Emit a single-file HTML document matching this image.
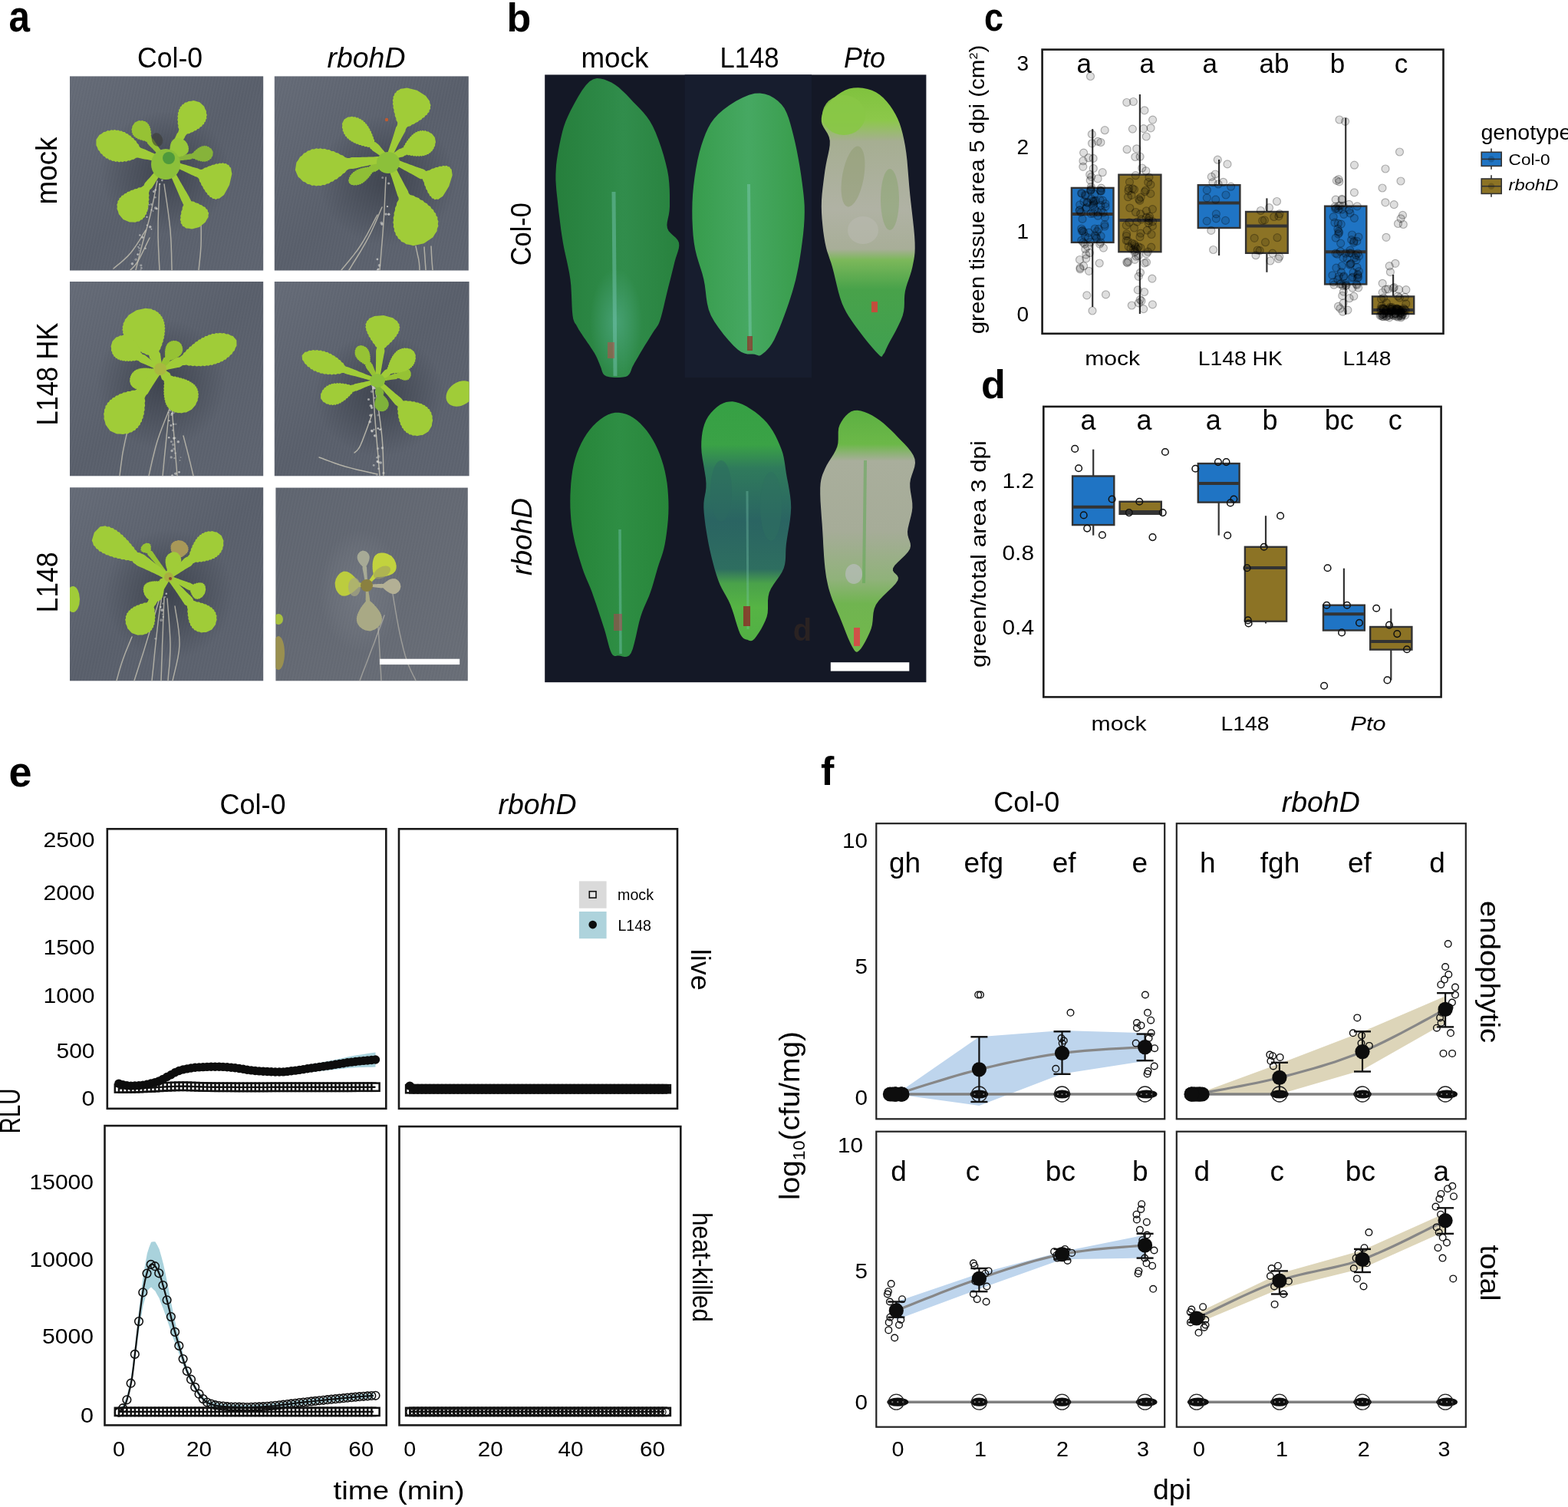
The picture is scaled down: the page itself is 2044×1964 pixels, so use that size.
<!DOCTYPE html>
<html><head><meta charset="utf-8"><title>Figure</title>
<style>
html,body{margin:0;padding:0;background:#fff;}
body{width:2044px;height:1964px;overflow:hidden;}
svg{display:block;}
text{font-family:"Liberation Sans", Arial, sans-serif;}
</style></head><body>
<svg width="2044" height="1964" viewBox="0 0 2044 1964" font-family="Liberation Sans, Arial, sans-serif">
<defs>
<radialGradient id="shad" cx="0.5" cy="0.5" r="0.5">
<stop offset="0" stop-color="#2e333d" stop-opacity="0.6"/><stop offset="0.6" stop-color="#2e333d" stop-opacity="0.25"/><stop offset="1" stop-color="#2e333d" stop-opacity="0"/></radialGradient>
<linearGradient id="tileg" x1="0" y1="0" x2="1" y2="1">
<stop offset="0" stop-color="#646a76"/><stop offset="0.5" stop-color="#585e6a"/><stop offset="1" stop-color="#5d636f"/></linearGradient>
<linearGradient id="tileg6" x1="0" y1="0" x2="1" y2="1">
<stop offset="0" stop-color="#5e646f"/><stop offset="0.5" stop-color="#636872"/><stop offset="1" stop-color="#686d76"/></linearGradient>
<pattern id="weave" width="4" height="9" patternUnits="userSpaceOnUse" patternTransform="rotate(12)">
<rect width="1.3" height="9" fill="#ffffff" fill-opacity="0.035"/></pattern>
<radialGradient id="halo" cx="0.5" cy="0.5" r="0.5">
<stop offset="0" stop-color="#9a9fa6" stop-opacity="0.25"/><stop offset="0.7" stop-color="#9a9fa6" stop-opacity="0.1"/><stop offset="1" stop-color="#9a9fa6" stop-opacity="0"/></radialGradient>
<clipPath id="clipA"><rect x="91" y="99.4" width="252.2" height="253.1"/><rect x="357.8" y="99.4" width="253" height="253.1"/><rect x="91" y="367" width="252.2" height="253.3"/><rect x="357.8" y="367" width="253.8" height="253.3"/><rect x="91" y="635.3" width="252.2" height="252"/><rect x="359.4" y="635.6" width="250.4" height="251.7"/></clipPath>
<radialGradient id="tealglow" cx="0.5" cy="0.5" r="0.5"><stop offset="0" stop-color="#58b094" stop-opacity="0.55"/><stop offset="1" stop-color="#58b094" stop-opacity="0"/></radialGradient>
<linearGradient id="lfB" x1="0" y1="0" x2="1" y2="0"><stop offset="0" stop-color="#267f3c"/><stop offset="0.45" stop-color="#2e8a48"/><stop offset="0.55" stop-color="#318d4c"/><stop offset="1" stop-color="#28823e"/></linearGradient>
<linearGradient id="lfB2" x1="0" y1="0" x2="1" y2="0"><stop offset="0" stop-color="#379c4c"/><stop offset="0.5" stop-color="#46a862"/><stop offset="1" stop-color="#389c4a"/></linearGradient>
<linearGradient id="lfB3" x1="0" y1="0" x2="1" y2="0"><stop offset="0" stop-color="#268438"/><stop offset="0.5" stop-color="#2e8e44"/><stop offset="1" stop-color="#28863a"/></linearGradient>
<linearGradient id="necro" x1="0" y1="0" x2="0" y2="1"><stop offset="0" stop-color="#80c23e"/><stop offset="0.12" stop-color="#8cc84a"/><stop offset="0.2" stop-color="#a6ae92"/><stop offset="0.45" stop-color="#b0b2a4"/><stop offset="0.6" stop-color="#a8ae98"/><stop offset="0.64" stop-color="#7cb85a"/><stop offset="0.75" stop-color="#48a24a"/><stop offset="1" stop-color="#40a050"/></linearGradient>
<linearGradient id="necro2" x1="0" y1="0" x2="0" y2="1"><stop offset="0" stop-color="#5cb042"/><stop offset="0.14" stop-color="#6cb848"/><stop offset="0.21" stop-color="#a9ae9c"/><stop offset="0.5" stop-color="#a6ac98"/><stop offset="0.7" stop-color="#90b27a"/><stop offset="0.8" stop-color="#70b450"/><stop offset="1" stop-color="#72b84c"/></linearGradient>
<linearGradient id="dmg" x1="0" y1="0" x2="0" y2="1"><stop offset="0" stop-color="#36a044"/><stop offset="0.18" stop-color="#3aa246"/><stop offset="0.28" stop-color="#2f7a5c"/><stop offset="0.5" stop-color="#2a6462"/><stop offset="0.7" stop-color="#2e6e60"/><stop offset="0.76" stop-color="#4aa24a"/><stop offset="0.86" stop-color="#56b444"/><stop offset="1" stop-color="#52b044"/></linearGradient>
</defs>
<rect width="2044" height="1964" fill="#ffffff"/>
<rect x="91" y="99.4" width="252.2" height="253.1" fill="url(#tileg)"/>
<rect x="91" y="99.4" width="252.2" height="253.1" fill="url(#weave)"/>
<rect x="357.8" y="99.4" width="253" height="253.1" fill="url(#tileg)"/>
<rect x="357.8" y="99.4" width="253" height="253.1" fill="url(#weave)"/>
<rect x="91" y="367" width="252.2" height="253.3" fill="url(#tileg)"/>
<rect x="91" y="367" width="252.2" height="253.3" fill="url(#weave)"/>
<rect x="357.8" y="367" width="253.8" height="253.3" fill="url(#tileg)"/>
<rect x="357.8" y="367" width="253.8" height="253.3" fill="url(#weave)"/>
<rect x="91" y="635.3" width="252.2" height="252" fill="url(#tileg)"/>
<rect x="91" y="635.3" width="252.2" height="252" fill="url(#weave)"/>
<rect x="359.4" y="635.6" width="250.4" height="251.7" fill="url(#tileg6)"/>
<rect x="359.4" y="635.6" width="250.4" height="251.7" fill="url(#weave)"/>
<g clip-path="url(#clipA)">
<ellipse cx="215" cy="225" rx="85" ry="80" transform="rotate(0 215 225)" fill="url(#shad)"/>
<path d="M205 236 L204 240.8 L202.7 247.6 L201.2 255.5 L199.5 264 L197.7 272.4 L196 280 L194.2 287 L192.4 293.9 L190.4 300.8 L188.5 307.4 L186.7 313.8 L185 320 L183.4 326.2 L181.8 332.4 L180.3 338.5 L179 344 L177.8 348.6 L177 352" fill="none" stroke="#c4c0b2" stroke-width="1.5" stroke-opacity="0.8" stroke-linecap="round"/>
<path d="M208 240 L207.7 246.6 L207.3 255.9 L206.9 266.8 L206.4 278.4 L206.1 289.8 L206 300 L206.1 309.7 L206.4 319.9 L206.9 329.8 L207.3 338.8 L207.7 346.4 L208 352" fill="none" stroke="#c4c0b2" stroke-width="1.5" stroke-opacity="0.8" stroke-linecap="round"/>
<path d="M214 240 L214.9 246.6 L216.3 255.9 L217.9 266.8 L219.5 278.4 L220.9 289.8 L222 300 L222.7 309.7 L223.2 319.9 L223.5 329.8 L223.7 338.8 L223.9 346.4 L224 352" fill="none" stroke="#c4c0b2" stroke-width="1.5" stroke-opacity="0.8" stroke-linecap="round"/>
<path d="M262 284 L262 288 L262.1 293.5 L262.2 300 L262.2 307 L262.2 313.8 L262 320 L261.6 325.9 L261.1 332.1 L260.5 338.2 L259.9 343.9 L259.4 348.6 L259 352" fill="none" stroke="#c4c0b2" stroke-width="1.5" stroke-opacity="0.8" stroke-linecap="round"/>
<path d="M190 300 L187.8 303.4 L184.9 308.1 L181.4 313.8 L177.6 319.6 L173.7 325.2 L170 330 L166.2 334.1 L162 338.1 L157.8 341.9 L153.8 345.2 L150.4 347.9 L148 350" fill="none" stroke="#c4c0b2" stroke-width="1.5" stroke-opacity="0.8" stroke-linecap="round"/>
<path d="M195 310 L193.3 313.5 L190.9 318.4 L188.1 324.2 L185.2 330.2 L182.4 335.7 L180 340 L177.9 343.2 L175.9 345.8 L174.1 347.9 L172.4 349.6 L171 350.9 L170 352" fill="none" stroke="#c4c0b2" stroke-width="1.5" stroke-opacity="0.8" stroke-linecap="round"/>
<circle cx="195.8" cy="295.7" r="1.8" fill="#d8d8d4" opacity="0.68"/>
<circle cx="172.4" cy="343.8" r="1.8" fill="#d8d8d4" opacity="0.64"/>
<circle cx="192.3" cy="272.2" r="1.1" fill="#d8d8d4" opacity="0.59"/>
<circle cx="173.5" cy="353.4" r="1.3" fill="#d8d8d4" opacity="0.43"/>
<circle cx="180.2" cy="321.8" r="1" fill="#d8d8d4" opacity="0.63"/>
<circle cx="194.3" cy="266.8" r="0.9" fill="#d8d8d4" opacity="0.70"/>
<circle cx="202.9" cy="271.1" r="1.9" fill="#d8d8d4" opacity="0.59"/>
<circle cx="191.5" cy="282.8" r="1.1" fill="#d8d8d4" opacity="0.78"/>
<circle cx="182.2" cy="319.2" r="1.1" fill="#d8d8d4" opacity="0.42"/>
<circle cx="200.4" cy="249.5" r="1.5" fill="#d8d8d4" opacity="0.62"/>
<circle cx="182.4" cy="306.5" r="1.2" fill="#d8d8d4" opacity="0.66"/>
<circle cx="197.5" cy="273.6" r="1" fill="#d8d8d4" opacity="0.79"/>
<circle cx="211.3" cy="235.1" r="1.3" fill="#d8d8d4" opacity="0.60"/>
<circle cx="181.5" cy="326.6" r="0.9" fill="#d8d8d4" opacity="0.37"/>
<circle cx="199.5" cy="275.1" r="1" fill="#d8d8d4" opacity="0.46"/>
<circle cx="179.6" cy="331.6" r="1.4" fill="#d8d8d4" opacity="0.70"/>
<circle cx="202.4" cy="257.2" r="1.3" fill="#d8d8d4" opacity="0.48"/>
<circle cx="189.6" cy="323.7" r="1.2" fill="#d8d8d4" opacity="0.62"/>
<circle cx="197.2" cy="266.5" r="1.4" fill="#d8d8d4" opacity="0.49"/>
<circle cx="185.8" cy="309.2" r="1.5" fill="#d8d8d4" opacity="0.67"/>
<circle cx="197.4" cy="298.7" r="0.9" fill="#d8d8d4" opacity="0.79"/>
<circle cx="183.8" cy="345.8" r="1.6" fill="#d8d8d4" opacity="0.50"/>
<circle cx="191.7" cy="293.5" r="1" fill="#d8d8d4" opacity="0.76"/>
<circle cx="208.3" cy="239.8" r="1.1" fill="#d8d8d4" opacity="0.79"/>
<circle cx="183.3" cy="352.8" r="1.7" fill="#d8d8d4" opacity="0.40"/>
<circle cx="181.6" cy="323.5" r="1.3" fill="#d8d8d4" opacity="0.41"/>
<circle cx="204.4" cy="272.1" r="1.4" fill="#d8d8d4" opacity="0.68"/>
<circle cx="177.1" cy="338.3" r="1.8" fill="#d8d8d4" opacity="0.40"/>
<circle cx="184.3" cy="349.4" r="1.4" fill="#d8d8d4" opacity="0.50"/>
<circle cx="202.6" cy="247.6" r="1.4" fill="#d8d8d4" opacity="0.58"/>
<path d="M217.4 212 L218.8 211.7 L220.2 211.5 L221.5 211.2 L222.9 211 L224.3 210.8 L225.7 210.6 L227.1 210.4 L228.5 210.2 L229.9 210 L231.3 209.8 L232.7 209.6 L234.1 209.4 L235.5 209.2 L236.9 209 L238.3 208.9 L239.7 208.7 L241.1 208.5 L242.5 208.4 L243.9 208.2 L245.3 208 L246.7 207.9 L248.1 207.7 L249.4 207.4 L250.7 206.6 L252.3 207.1 L253.7 206.9 L255.4 208.5 L256.8 208.2 L258.5 209.7 L259.8 209.2 L261.5 210.5 L262.8 209.9 L264.5 211 L265.7 210.2 L267.3 211 L268.6 209.9 L270.1 210.4 L271.2 209 L272.7 209.1 L273.8 207.2 L275.1 206.9 L276.1 204.4 L277.3 203.2 L277.7 198.1 L277.7 198.1 L275.4 193.5 L273.8 192.9 L272 191 L270.6 191.2 L268.9 189.8 L267.6 190.5 L266 189.6 L264.8 190.7 L263.3 190.1 L262.1 191.5 L260.6 191.2 L259.5 192.8 L258 192.8 L257 194.6 L255.6 194.7 L254.5 196.6 L253.1 196.9 L252.1 199 L250.7 199.4 L249.5 200.4 L248 200.2 L246.6 200.4 L245.3 200.8 L243.9 201.2 L242.6 201.6 L241.2 201.9 L239.9 202.3 L238.5 202.7 L237.1 203 L235.8 203.4 L234.4 203.8 L233 204.1 L231.7 204.5 L230.3 204.8 L228.9 205.2 L227.6 205.5 L226.2 205.8 L224.8 206.2 L223.5 206.5 L222.1 206.8 L220.7 207.1 L219.4 207.5 L218 207.8 L216.6 208Z" fill="#86b33a"/>
<path d="M219.6 211.5 L220.6 209.7 L221.7 208 L222.7 206.3 L223.8 204.6 L224.8 202.9 L225.9 201.2 L227 199.6 L228.1 197.9 L229.2 196.2 L230.3 194.5 L231.5 192.9 L232.6 191.2 L233.7 189.5 L234.9 187.9 L236 186.2 L237.2 184.6 L238.3 182.9 L239.5 181.3 L240.6 179.6 L241.3 177.7 L242.5 176.1 L244 174.6 L247.2 174.1 L248.7 172.7 L251.7 172.1 L253.1 170.5 L255.9 169.9 L257.1 168.2 L259.8 167.4 L260.7 165.7 L263.1 164.7 L263.8 162.8 L266 161.7 L266.3 159.6 L268.1 158.3 L268.1 156 L269.5 154.5 L269 151.9 L269.9 150.1 L268.8 147.2 L269 145.1 L267.2 141.7 L266.2 138.8 L260.3 133.2 L260.3 133.2 L252.4 131.1 L249.4 131.7 L245.6 131.9 L243.8 133.2 L240.8 133.8 L239.7 135.4 L237.3 136.4 L236.7 138.3 L234.7 139.5 L234.5 141.7 L232.9 143.1 L233.1 145.5 L231.8 147.1 L232.3 149.6 L231.3 151.4 L232 154.1 L231.2 155.9 L232.1 158.7 L231.5 160.7 L232.5 163.6 L232.1 165.6 L233.3 168.6 L232.8 170.6 L232.1 172.5 L230.7 174.1 L229.9 175.9 L229.1 177.7 L228.3 179.6 L227.5 181.4 L226.7 183.3 L225.8 185.1 L225 186.9 L224.2 188.8 L223.3 190.6 L222.5 192.4 L221.6 194.2 L220.7 196 L219.9 197.8 L219 199.6 L218.1 201.4 L217.2 203.2 L216.3 205 L215.3 206.8 L214.4 208.5Z" fill="#a0cc38"/>
<path d="M218 206.7 L216 206 L213.9 205.2 L211.9 204.5 L209.8 203.7 L207.8 202.9 L205.8 202.1 L203.7 201.3 L201.7 200.4 L199.7 199.6 L197.7 198.7 L195.7 197.8 L193.7 197 L191.7 196.1 L189.7 195.1 L187.7 194.2 L185.6 193.6 L183.6 192.8 L181.8 191.2 L180.5 187.9 L178.6 186.6 L177.2 183.6 L175.3 182.6 L173.8 180 L171.8 179.2 L170.2 176.8 L168.1 176.3 L166.5 174.2 L164.3 173.9 L162.6 172 L160.3 172 L158.5 170.4 L156.1 170.7 L154.3 169.4 L151.8 170 L149.8 168.9 L147.3 169.8 L145.2 169.2 L142.6 170.4 L140.4 170.1 L137.6 171.8 L135.2 172.1 L132.2 174.4 L129.5 175.7 L125.4 181.9 L125.4 181.9 L125.4 189.4 L126.8 191.9 L128 195.6 L129.8 197.1 L131.2 200.1 L133.2 201.1 L134.7 203.6 L136.8 204.2 L138.4 206.4 L140.6 206.6 L142.3 208.5 L144.6 208.5 L146.4 210 L148.8 209.7 L150.6 210.9 L153.1 210.3 L155.1 211.4 L157.6 210.5 L159.7 211.3 L162.3 210.1 L164.4 210.7 L167.1 209.3 L169.3 209.5 L172.1 207.9 L174.4 207.8 L177.3 205.8 L179.6 205.5 L181.8 205.9 L183.9 206.6 L186 207 L188.2 207.4 L190.4 207.7 L192.5 208.1 L194.7 208.5 L196.8 208.9 L199 209.4 L201.1 209.8 L203.3 210.2 L205.4 210.7 L207.5 211.2 L209.6 211.7 L211.8 212.2 L213.9 212.8 L216 213.3Z" fill="#a0cc38"/>
<path d="M218.9 208.4 L218 207.3 L217.1 206.1 L216.2 204.9 L215.3 203.7 L214.4 202.5 L213.6 201.3 L212.7 200.2 L211.8 199 L211 197.7 L210.1 196.5 L209.3 195.3 L208.4 194.1 L207.6 192.9 L206.7 191.7 L205.9 190.5 L205 189.2 L204.2 188 L203.4 186.8 L202.5 185.5 L201.7 184.3 L200.9 183.1 L200.1 181.8 L199 180.8 L197.6 180.1 L197.4 178.3 L196.7 176.9 L197.4 174.5 L196.5 173.3 L197.1 171 L196.1 169.8 L196.4 167.6 L195.3 166.6 L195.5 164.6 L194.1 163.8 L194.1 161.9 L192.5 161.3 L192.2 159.7 L190.2 159.3 L189.5 158 L187.2 158 L186.1 157 L183.2 157.4 L181.3 157.1 L175.9 159.6 L175.9 159.6 L172.4 164.4 L172.3 166.3 L171.3 169.1 L172 170.4 L171.6 172.7 L172.8 173.6 L172.7 175.6 L174.2 176.2 L174.5 177.9 L176.3 178.3 L176.8 179.8 L178.9 180 L179.6 181.4 L181.9 181.4 L182.8 182.6 L185.1 182.6 L186.2 183.6 L188.7 183.5 L189.8 184.5 L191.6 184.9 L192 186.5 L192.8 187.8 L193.9 188.8 L194.9 189.9 L195.9 190.9 L197 192 L198 193.1 L199.1 194.1 L200.1 195.2 L201.1 196.2 L202.1 197.3 L203.2 198.4 L204.2 199.5 L205.2 200.6 L206.2 201.6 L207.2 202.7 L208.2 203.8 L209.2 204.9 L210.2 206 L211.2 207.1 L212.2 208.2 L213.1 209.3 L214.1 210.4 L215.1 211.6Z" fill="#96c234"/>
<path d="M215.9 212.8 L217.8 213.5 L219.6 214.3 L221.5 215 L223.3 215.8 L225.2 216.6 L227 217.4 L228.8 218.2 L230.6 219 L232.5 219.8 L234.3 220.6 L236.1 221.5 L237.9 222.3 L239.7 223.1 L241.5 224 L243.4 224.8 L245.2 225.7 L247 226.5 L248.8 227.4 L250.6 228.3 L252.4 229.1 L254.2 230 L256.1 230.5 L257.9 231.4 L259.4 233.3 L260.2 236.7 L261.7 238.3 L262.6 241.6 L264.2 243 L265.2 246.1 L266.8 247.4 L267.9 250.3 L269.6 251.3 L270.7 253.9 L272.6 254.7 L273.8 257 L275.8 257.3 L277.3 259.1 L279.5 258.9 L281.2 259.9 L283.8 258.8 L285.9 258.8 L289 256.3 L292 254 L299.1 240.9 L299.1 240.9 L302.4 226.4 L301.6 222.8 L301 218.8 L299.4 217.4 L298.2 214.9 L296.2 214.6 L294.7 212.9 L292.4 213.3 L290.7 212.2 L288.2 213.1 L286.4 212.5 L283.8 213.7 L281.8 213.3 L279.1 214.8 L277 214.7 L274.2 216.3 L272.1 216.4 L269.3 218.2 L267.1 218.4 L264.2 220.5 L261.9 220.9 L259.9 220.4 L258.1 219.5 L256.2 219 L254.3 218.4 L252.4 217.9 L250.4 217.4 L248.5 216.8 L246.6 216.3 L244.7 215.7 L242.8 215.1 L240.8 214.6 L238.9 214 L237 213.4 L235.1 212.8 L233.2 212.2 L231.3 211.6 L229.4 211 L227.5 210.4 L225.6 209.8 L223.7 209.2 L221.8 208.5 L219.9 207.9 L218.1 207.2Z" fill="#a0cc38"/>
<path d="M214.6 208.2 L213.3 209.9 L211.9 211.6 L210.6 213.3 L209.2 215 L207.9 216.6 L206.5 218.3 L205.1 219.9 L203.7 221.6 L202.3 223.2 L200.9 224.9 L199.5 226.5 L198.1 228.1 L196.7 229.7 L195.2 231.4 L193.8 233 L192.3 234.6 L190.9 236.2 L189.4 237.8 L188.3 239.6 L187.5 241.7 L185.6 243 L183.7 244.3 L180.4 244.5 L178.7 245.9 L175.5 246.2 L173.8 247.6 L170.7 248 L169.1 249.6 L166.2 250.1 L164.8 251.7 L162.1 252.4 L161 254.2 L158.5 255 L157.6 257.1 L155.5 258.2 L155.1 260.6 L153.4 262 L153.4 264.7 L152.3 266.5 L152.9 269.6 L152.4 272 L154 275.8 L154.8 279.1 L160.6 286.1 L160.6 286.1 L169 289.6 L172.4 289.5 L176.5 289.8 L178.6 288.7 L181.8 288.4 L183.2 286.8 L185.8 286 L186.7 284 L188.8 282.9 L189.2 280.5 L191 279.1 L191.1 276.5 L192.5 274.9 L192.3 272.1 L193.5 270.3 L193.1 267.3 L194.1 265.4 L193.6 262.3 L194.5 260.3 L193.8 257.1 L194.6 255 L193.9 251.8 L194.6 249.6 L195.2 247.5 L197 246.1 L198.4 244.5 L199.6 242.6 L200.7 240.8 L201.8 238.9 L202.9 237.1 L204 235.2 L205.2 233.4 L206.3 231.6 L207.5 229.7 L208.6 227.9 L209.8 226.1 L211 224.3 L212.1 222.5 L213.3 220.7 L214.5 218.9 L215.7 217.1 L216.9 215.3 L218.2 213.5 L219.4 211.8Z" fill="#a0cc38"/>
<path d="M214.3 211.3 L215.3 213.3 L216.2 215.3 L217.1 217.2 L218.1 219.2 L219 221.2 L219.9 223.2 L220.8 225.2 L221.7 227.2 L222.6 229.2 L223.5 231.2 L224.4 233.2 L225.3 235.2 L226.1 237.2 L227 239.2 L227.9 241.2 L228.7 243.2 L229.6 245.2 L230.5 247.2 L231.3 249.2 L232.2 251.2 L233 253.2 L233.9 255.2 L234.7 257.3 L235.6 259.3 L236.4 261.3 L237.5 263.2 L238.3 265.2 L239.4 267.1 L237.7 270.4 L237.7 272.9 L236.1 276.1 L236.3 278.4 L235.1 281.5 L235.6 283.6 L234.8 286.5 L235.8 288.4 L235.6 291 L237.3 292.6 L237.9 294.7 L240.6 295.8 L242.3 297.4 L246.5 297.7 L250.1 298.4 L259.9 295.9 L259.9 295.9 L267.8 289.5 L269.5 286.2 L271.7 282.7 L271.5 280.4 L272.2 277.5 L270.9 275.8 L270.7 273.4 L268.5 272.1 L267.5 270.1 L264.7 269.1 L263.3 267.4 L260.1 266.5 L258.4 264.9 L254.9 264.2 L253 262.8 L249.3 262.2 L248.4 260.2 L247.3 258.3 L246.4 256.3 L245.3 254.4 L244.2 252.5 L243.1 250.6 L242 248.8 L240.9 246.9 L239.8 245 L238.7 243.1 L237.6 241.2 L236.5 239.3 L235.4 237.4 L234.3 235.5 L233.2 233.6 L232.2 231.7 L231.1 229.8 L230 227.9 L229 226 L227.9 224.1 L226.9 222.2 L225.8 220.2 L224.8 218.3 L223.7 216.4 L222.7 214.5 L221.7 212.5 L220.7 210.6 L219.7 208.7Z" fill="#a0cc38"/>
<path d="M218.8 211.7 L219.4 211.2 L220.1 210.7 L220.8 210.2 L221.5 209.7 L222.2 209.3 L223 208.9 L223.7 208.5 L224.5 208.1 L225.3 207.7 L226 207.2 L226.4 206.5 L226.6 205.5 L227.6 205.4 L227.9 204.6 L229.7 205.1 L230.2 204.4 L231.9 205 L232.3 204.2 L234 204.7 L234.4 203.9 L236 204.3 L236.3 203.5 L237.9 203.9 L238.2 203 L239.7 203.3 L239.8 202.3 L241.3 202.6 L241.4 201.5 L242.7 201.7 L242.7 200.5 L243.9 200.6 L243.8 199.3 L244.9 199.3 L244.7 197.9 L245.7 197.7 L245.3 196.2 L246.1 195.9 L245.5 194.2 L246.2 193.7 L245.4 191.8 L245.8 191.1 L244.6 188.9 L244.5 187.7 L241.6 183.8 L241.6 183.8 L237.5 181.1 L236.3 181.1 L234 180.1 L233.3 180.5 L231.4 179.8 L230.9 180.5 L229.2 180.1 L229 180.9 L227.4 180.6 L227.3 181.6 L225.9 181.4 L225.9 182.6 L224.7 182.5 L224.8 183.7 L223.7 183.8 L223.9 185.1 L222.9 185.3 L223.2 186.7 L222.2 186.9 L222.6 188.4 L221.8 188.7 L222.2 190.3 L221.4 190.6 L222 192.3 L221.2 192.7 L221.8 194.3 L221.1 194.8 L221.7 196.5 L221 197 L221.7 198.8 L220.9 199.1 L220.8 200.2 L219.9 200.4 L219.2 200.8 L218.7 201.6 L218.4 202.4 L218.1 203.2 L217.7 204 L217.4 204.7 L217 205.5 L216.6 206.2 L216.1 207 L215.7 207.6 L215.2 208.3Z" fill="#98c83a"/>
<ellipse cx="216" cy="214" rx="19" ry="20" transform="rotate(0 216 214)" fill="#8cc03a"/>
<ellipse cx="220" cy="206" rx="8" ry="8" transform="rotate(0 220 206)" fill="#4f9a3c"/>
<ellipse cx="205" cy="182" rx="7" ry="9" transform="rotate(-20 205 182)" fill="#3a3a35" opacity="0.6"/>
<ellipse cx="505" cy="235" rx="90" ry="85" transform="rotate(0 505 235)" fill="url(#shad)"/>
<path d="M503 231 L502.7 237.4 L502.3 246.2 L501.8 256.6 L501.3 267.9 L500.7 279.3 L500 290 L499.2 300.9 L498.3 312.7 L497.3 324.7 L496.4 335.8 L495.6 345.2 L495 352" fill="none" stroke="#c4c0b2" stroke-width="1.5" stroke-opacity="0.8" stroke-linecap="round"/>
<path d="M498 270 L496.1 274.3 L493.6 280.3 L490.6 287.4 L487.2 295 L483.6 302.8 L480 310 L475.9 317.4 L471.3 325.4 L466.4 333.5 L461.7 341 L457.8 347.4 L455 352" fill="none" stroke="#c4c0b2" stroke-width="1.5" stroke-opacity="0.8" stroke-linecap="round"/>
<path d="M492 280 L489.6 284.4 L486.4 290.7 L482.6 298 L478.4 305.8 L474.1 313.3 L470 320 L465.7 326.2 L461 332.4 L456.1 338.5 L451.6 344 L447.8 348.6 L445 352" fill="none" stroke="#c4c0b2" stroke-width="1.5" stroke-opacity="0.8" stroke-linecap="round"/>
<path d="M542 321 L542.5 323.1 L543.1 326.2 L543.9 329.8 L544.7 333.5 L545.5 337 L546 340 L546.4 342.5 L546.6 345 L546.8 347.2 L546.9 349.1 L546.9 350.8 L547 352" fill="none" stroke="#c4c0b2" stroke-width="1.5" stroke-opacity="0.8" stroke-linecap="round"/>
<path d="M562 321 L562.1 323.1 L562.3 326.2 L562.4 329.8 L562.6 333.5 L562.8 337 L563 340 L563.2 342.5 L563.4 345 L563.6 347.2 L563.7 349.1 L563.9 350.8 L564 352" fill="none" stroke="#c4c0b2" stroke-width="1.5" stroke-opacity="0.8" stroke-linecap="round"/>
<path d="M553 322 L553.2 325.6 L553.6 330.9 L554 337 L554.4 343.1 L554.8 348.4 L555 352" fill="none" stroke="#c4c0b2" stroke-width="1.5" stroke-opacity="0.8" stroke-linecap="round"/>
<circle cx="506.7" cy="239" r="1.6" fill="#d8d8d4" opacity="0.65"/>
<circle cx="492.3" cy="352.4" r="1.6" fill="#d8d8d4" opacity="0.73"/>
<circle cx="505" cy="269.1" r="1.2" fill="#d8d8d4" opacity="0.78"/>
<circle cx="491.9" cy="337.9" r="1.4" fill="#d8d8d4" opacity="0.70"/>
<circle cx="503.1" cy="279.1" r="1.7" fill="#d8d8d4" opacity="0.64"/>
<circle cx="493" cy="350.6" r="1.2" fill="#d8d8d4" opacity="0.77"/>
<circle cx="497.9" cy="292.1" r="1.8" fill="#d8d8d4" opacity="0.66"/>
<circle cx="507" cy="279.4" r="1.4" fill="#d8d8d4" opacity="0.42"/>
<circle cx="506.8" cy="279.2" r="1.6" fill="#d8d8d4" opacity="0.67"/>
<circle cx="494.4" cy="345.9" r="1.8" fill="#d8d8d4" opacity="0.58"/>
<circle cx="497.2" cy="290.3" r="1.8" fill="#d8d8d4" opacity="0.47"/>
<circle cx="498.7" cy="231.5" r="1.5" fill="#d8d8d4" opacity="0.43"/>
<path d="M504.4 204.4 L503.2 205.1 L502 205.8 L500.8 206.4 L499.6 207 L498.3 207.6 L497.1 208.1 L495.8 208.7 L494.6 209.2 L493.3 209.8 L492 210.3 L490.7 210.8 L489.5 211.3 L488.2 211.8 L486.9 212.3 L485.7 213 L484.7 214 L483.4 214.5 L482.9 216.3 L481.4 216.5 L480.7 217.8 L478.7 217.2 L477.7 218.2 L475.8 217.7 L474.8 218.8 L472.9 218.3 L472 219.4 L470.2 219.1 L469.3 220.3 L467.6 220 L466.8 221.3 L465 221.1 L464.3 222.5 L462.6 222.4 L462 223.9 L460.4 224 L459.9 225.7 L458.4 225.9 L457.9 227.7 L456.6 228.1 L456.3 230.2 L455.1 230.9 L455 233.3 L454.1 234.5 L455 238.5 L455 238.5 L458.2 241.1 L459.6 240.9 L461.8 241.8 L463 241.1 L465 241.7 L465.9 240.7 L467.8 241.1 L468.7 239.9 L470.4 240.2 L471.2 238.8 L472.8 238.9 L473.5 237.4 L475.1 237.3 L475.7 235.7 L477.2 235.6 L477.7 233.8 L479.2 233.6 L479.7 231.8 L481.1 231.5 L481.5 229.6 L482.9 229.2 L483.3 227.3 L484.6 226.8 L485 224.8 L486.5 224.7 L487.4 223.5 L489.2 223.9 L490.2 222.9 L491.5 222.5 L492.7 221.7 L493.7 220.8 L494.7 219.8 L495.7 218.9 L496.8 218 L497.8 217.1 L498.9 216.2 L499.9 215.3 L501 214.5 L502.1 213.6 L503.1 212.7 L504.2 211.9 L505.3 211.1 L506.4 210.3 L507.6 209.6Z" fill="#8fbf36"/>
<path d="M509.2 208.4 L510.1 206.3 L511 204.3 L512 202.3 L512.9 200.4 L513.9 198.4 L514.9 196.4 L515.9 194.4 L516.9 192.5 L517.9 190.5 L518.9 188.5 L519.9 186.6 L521 184.6 L522 182.7 L523 180.7 L524.1 178.8 L525.2 176.8 L526.2 174.9 L527.3 172.9 L528.4 171 L528.8 168.8 L529.8 166.8 L531.5 165.1 L535 164.2 L536.8 162.6 L540.1 161.6 L541.7 159.9 L544.9 158.8 L546.3 157 L549.3 155.9 L550.6 154 L553.3 152.8 L554.3 150.8 L556.8 149.5 L557.4 147.4 L559.5 145.9 L559.7 143.5 L561.2 141.8 L560.8 139.2 L561.6 137.2 L560.3 134.2 L560.1 131.8 L557.4 128.2 L555.1 124.9 L543.7 117.7 L543.7 117.7 L530.5 114.5 L526.5 115.2 L522.1 115.7 L520.2 117.3 L517.2 118.5 L516.3 120.5 L514.2 121.9 L514 124.3 L512.4 126 L512.8 128.6 L511.7 130.5 L512.5 133.2 L511.8 135.3 L512.8 138.1 L512.4 140.3 L513.7 143.3 L513.4 145.5 L514.8 148.5 L514.7 150.9 L516.3 154 L516.4 156.4 L518.2 159.5 L518.1 161.9 L517.5 164 L516.2 165.8 L515.5 168 L514.9 170.1 L514.2 172.2 L513.6 174.3 L512.9 176.4 L512.3 178.6 L511.6 180.7 L510.9 182.8 L510.2 184.9 L509.5 187 L508.8 189.1 L508.1 191.2 L507.4 193.2 L506.7 195.3 L505.9 197.4 L505.2 199.5 L504.4 201.5 L503.6 203.6 L502.8 205.6Z" fill="#a0cc38"/>
<path d="M505.5 203 L502.8 203.3 L500 203.5 L497.2 203.7 L494.5 203.9 L491.7 204.1 L488.9 204.2 L486.1 204.4 L483.3 204.5 L480.6 204.6 L477.8 204.7 L475 204.8 L472.2 204.8 L469.4 204.9 L466.6 204.9 L463.8 205 L461.1 205 L458.3 205 L455.6 205.9 L452.8 206.1 L449.9 205.1 L446.8 202.4 L443.9 201.8 L440.8 199.5 L438 199.1 L435 197 L432.1 196.9 L429.1 195.1 L426.4 195.3 L423.4 193.8 L420.7 194.3 L417.7 193.2 L415 194 L412.2 193.3 L409.5 194.6 L406.7 194.3 L404.1 196.1 L401.3 196.4 L398.8 198.8 L396.1 199.7 L393.7 202.7 L391.1 204.4 L388.8 208.6 L386.4 211.8 L384.8 221.4 L384.8 221.4 L388.6 230.4 L391.7 233 L394.9 236.5 L397.9 237.5 L400.9 239.9 L403.8 240.2 L406.8 241.9 L409.5 241.5 L412.4 242.6 L415.1 241.7 L418 242.3 L420.6 241 L423.4 241.2 L426 239.4 L428.8 239.2 L431.3 237.1 L434.1 236.6 L436.6 234.1 L439.3 233.4 L441.7 230.7 L444.4 229.6 L446.9 226.6 L449.5 225.3 L451.9 222.1 L454.5 220.4 L457.2 219.9 L460.1 220.1 L462.8 219.5 L465.5 218.9 L468.2 218.2 L470.9 217.6 L473.7 217 L476.4 216.4 L479.1 215.9 L481.8 215.3 L484.6 214.8 L487.3 214.2 L490 213.7 L492.8 213.2 L495.5 212.7 L498.2 212.2 L501 211.8 L503.7 211.4 L506.5 211Z" fill="#a0cc38"/>
<path d="M508 204.8 L506.7 203.6 L505.5 202.3 L504.3 201 L503.1 199.7 L501.9 198.4 L500.7 197.1 L499.6 195.8 L498.4 194.4 L497.3 193.1 L496.2 191.7 L495.1 190.3 L494 188.9 L492.7 187.7 L491.2 186.8 L490.1 185.4 L488.1 184.9 L488.1 182.3 L486.9 181 L486.8 178.5 L485.5 177.3 L485.4 174.8 L484.1 173.7 L483.9 171.3 L482.4 170.3 L482.2 167.9 L480.7 167 L480.3 164.8 L478.7 163.9 L478.2 161.8 L476.5 161.2 L475.9 159.2 L474 158.7 L473.3 156.8 L471.2 156.5 L470.3 154.9 L468.1 154.7 L467 153.3 L464.6 153.4 L463.3 152.2 L460.6 152.6 L459 151.8 L455.9 152.6 L453.7 152.5 L448.5 155.7 L448.5 155.7 L445.9 161.2 L446.3 163.5 L445.8 166.6 L446.8 168.1 L446.7 170.8 L448 172 L448.2 174.4 L449.7 175.3 L450.1 177.5 L451.9 178.2 L452.4 180.2 L454.3 180.7 L455.1 182.5 L457.1 182.9 L458 184.5 L460.1 184.8 L461.1 186.3 L463.4 186.4 L464.5 187.8 L466.8 187.8 L468 189.1 L470.4 189 L471.7 190.2 L474.2 190.1 L475.5 191.2 L478 191 L479.4 192.1 L482 191.7 L482.7 193.7 L484.2 194.6 L485.3 196 L486.6 197.1 L488.2 198.1 L489.7 199 L491.2 200 L492.6 200.9 L494.1 201.9 L495.6 202.9 L497 203.9 L498.5 204.9 L499.9 206 L501.3 207 L502.7 208.1 L504 209.2Z" fill="#a0cc38"/>
<path d="M507.3 209.7 L508.7 209.1 L510.1 208.6 L511.5 208.1 L513 207.6 L514.5 207.2 L515.9 206.7 L517.4 206.3 L518.9 205.9 L520.4 205.5 L521.9 205.1 L523.4 204.7 L524.9 204.4 L526.3 203.7 L527.5 202.8 L529 202.4 L530.2 201.4 L532.5 202.6 L533.9 202.1 L536.1 203.2 L537.5 202.6 L539.7 203.7 L541 203 L543.1 203.9 L544.4 203.1 L546.5 204 L547.8 203.1 L549.7 203.7 L550.9 202.7 L552.9 203.2 L554 202 L555.8 202.3 L556.8 200.9 L558.6 201.1 L559.5 199.4 L561.1 199.3 L561.9 197.4 L563.4 197.1 L564.1 194.9 L565.4 194.1 L565.9 191.6 L567.1 190.4 L567.3 187.3 L568 185.2 L566.8 178.9 L566.8 178.9 L562.8 174 L560.8 173.2 L558.2 171.3 L556.6 171.4 L554.3 170.1 L552.9 170.7 L550.8 169.8 L549.6 170.7 L547.6 170 L546.5 171.2 L544.6 170.8 L543.6 172.3 L541.9 172.1 L540.9 173.7 L539.3 173.8 L538.4 175.6 L536.9 175.8 L536.1 177.8 L534.6 178.2 L533.9 180.3 L532.4 180.7 L531.8 182.9 L530.4 183.5 L529.8 185.8 L528.4 186.5 L527.8 188.9 L526.5 189.7 L526 192.2 L524.4 192.4 L523.2 193.4 L521.7 193.7 L520.3 194.3 L519 195.2 L517.7 196.1 L516.5 197 L515.2 197.9 L513.9 198.8 L512.7 199.6 L511.4 200.5 L510.1 201.3 L508.8 202.1 L507.4 202.8 L506.1 203.6 L504.7 204.3Z" fill="#a0cc38"/>
<path d="M504.6 210.2 L506.4 211 L508.1 211.9 L509.9 212.8 L511.7 213.6 L513.5 214.5 L515.2 215.4 L517 216.3 L518.7 217.2 L520.5 218.1 L522.3 219.1 L524 220 L525.8 220.9 L527.5 221.9 L529.2 222.8 L531 223.8 L532.7 224.7 L534.5 225.7 L536.2 226.6 L537.9 227.6 L539.7 228.6 L541.4 229.5 L543.1 230.5 L544.9 231.5 L546.6 232.5 L548.4 233.3 L550.6 233.3 L551.6 235.8 L552.8 237.8 L553.4 241.4 L554.8 243.2 L555.4 246.5 L556.9 248.1 L557.7 251.2 L559.2 252.5 L560.2 255.3 L561.9 256.1 L563.1 258.4 L565.1 258.7 L566.6 260.2 L569.1 259.6 L571.1 259.9 L574.2 257.7 L577.3 255.7 L585.3 242.8 L585.3 242.8 L589.7 228.3 L589.2 224.7 L588.7 220.8 L587.1 219.6 L586 217.3 L583.9 217.2 L582.3 215.8 L579.9 216.5 L578 215.7 L575.3 216.9 L573.3 216.5 L570.5 218 L568.3 217.9 L565.4 219.6 L563.2 219.8 L560.1 221.7 L557.7 222.2 L555.2 223 L553.7 221.4 L551.9 220.6 L550.1 220 L548.2 219.3 L546.3 218.7 L544.4 218 L542.6 217.4 L540.7 216.7 L538.8 216 L537 215.3 L535.1 214.7 L533.2 214 L531.4 213.3 L529.5 212.6 L527.7 211.9 L525.8 211.2 L523.9 210.5 L522.1 209.8 L520.3 209.1 L518.4 208.4 L516.6 207.6 L514.7 206.9 L512.9 206.1 L511.1 205.4 L509.3 204.6 L507.4 203.8Z" fill="#a0cc38"/>
<path d="M502.3 208.6 L503.3 211.1 L504.3 213.6 L505.3 216.2 L506.2 218.7 L507.1 221.3 L508.1 223.9 L508.9 226.4 L509.8 229 L510.7 231.6 L511.6 234.2 L512.4 236.8 L513.3 239.4 L514.1 242 L514.9 244.6 L515.7 247.2 L516.6 249.8 L517.4 252.4 L518.2 255 L519.5 257.4 L519.7 260.3 L517.3 264.3 L516.9 267.4 L515 271.1 L515 274.1 L513.5 277.7 L513.8 280.5 L512.6 284 L513.2 286.7 L512.3 290 L513.2 292.6 L512.7 295.7 L514 298.1 L513.8 301.2 L515.5 303.4 L515.8 306.2 L518.1 308.2 L518.9 310.8 L521.7 312.6 L523.3 314.9 L526.9 316.3 L529.4 318.2 L534.3 319.1 L538.8 320.2 L552.6 317.2 L552.6 317.2 L564.4 309.3 L566.8 305.3 L569.6 301.2 L569.9 298.1 L571.4 294.5 L570.8 291.8 L571.5 288.6 L570.3 286.1 L570.4 283.1 L568.5 281 L568.2 278.2 L565.9 276.2 L565 273.6 L562.4 271.8 L561.2 269.3 L558.1 267.6 L556.6 265.3 L553.3 263.8 L551.5 261.6 L547.9 260.2 L545.8 258.1 L541.8 256.8 L539.2 255 L534.7 253.9 L532.7 251.8 L532 249.2 L530.7 246.8 L529.4 244.4 L528 242 L526.7 239.6 L525.5 237.2 L524.2 234.8 L522.9 232.3 L521.6 229.9 L520.4 227.5 L519.1 225.1 L517.9 222.6 L516.7 220.2 L515.5 217.8 L514.3 215.3 L513.1 212.9 L511.9 210.4 L510.8 207.9 L509.7 205.4Z" fill="#a0cc38"/>
<ellipse cx="506" cy="212" rx="15" ry="14" transform="rotate(0 506 212)" fill="#8cc03a"/>
<circle cx="504" cy="156" r="2.2" fill="#c05a30"/>
<ellipse cx="210" cy="500" rx="85" ry="85" transform="rotate(0 210 500)" fill="url(#shad)"/>
<path d="M224 528 L224.3 532.5 L224.7 538.6 L225.2 545.9 L225.8 553.9 L226.4 562.1 L227 570 L227.7 578.4 L228.4 587.9 L229.2 597.6 L229.9 606.7 L230.6 614.5 L231 620" fill="none" stroke="#c4c0b2" stroke-width="1.5" stroke-opacity="0.8" stroke-linecap="round"/>
<path d="M222 530 L220.1 534.9 L217.4 541.7 L214.2 549.7 L210.9 558.3 L207.7 567 L205 575 L202.7 583 L200.5 591.7 L198.4 600.3 L196.6 608.3 L195.1 615.1 L194 620" fill="none" stroke="#c4c0b2" stroke-width="1.5" stroke-opacity="0.8" stroke-linecap="round"/>
<path d="M166 562 L165.3 565 L164.4 569.2 L163.2 574.1 L162.1 579.5 L161 584.9 L160 590 L159.2 595.2 L158.4 601 L157.6 606.8 L157 612.1 L156.4 616.7 L156 620" fill="none" stroke="#c4c0b2" stroke-width="1.5" stroke-opacity="0.8" stroke-linecap="round"/>
<path d="M239 568 L239.8 571 L240.9 575.1 L242.1 579.9 L243.5 585.1 L244.8 590.3 L246 595 L247.1 599.6 L248.3 604.4 L249.4 609.2 L250.5 613.6 L251.4 617.3 L252 620" fill="none" stroke="#c4c0b2" stroke-width="1.5" stroke-opacity="0.8" stroke-linecap="round"/>
<path d="M220 540 L219.3 547 L218.3 557 L217.1 568.8 L215.9 580.7 L214.8 591.6 L214 600 L213.4 605.9 L213 610.4 L212.6 613.8 L212.4 616.3 L212.2 618.3 L212 620" fill="none" stroke="#c4c0b2" stroke-width="1.5" stroke-opacity="0.8" stroke-linecap="round"/>
<circle cx="233.6" cy="620.8" r="0.9" fill="#d8d8d4" opacity="0.56"/>
<circle cx="220.6" cy="548.2" r="1" fill="#d8d8d4" opacity="0.79"/>
<circle cx="223.4" cy="575.7" r="1.4" fill="#d8d8d4" opacity="0.52"/>
<circle cx="223.2" cy="595.9" r="1.6" fill="#d8d8d4" opacity="0.52"/>
<circle cx="225.1" cy="560.7" r="1.3" fill="#d8d8d4" opacity="0.40"/>
<circle cx="226.6" cy="585.1" r="1.5" fill="#d8d8d4" opacity="0.39"/>
<circle cx="228.6" cy="590.6" r="1.2" fill="#d8d8d4" opacity="0.51"/>
<circle cx="223.6" cy="540.5" r="1.5" fill="#d8d8d4" opacity="0.52"/>
<circle cx="219.9" cy="537.9" r="1.4" fill="#d8d8d4" opacity="0.44"/>
<circle cx="226.3" cy="537.7" r="1.8" fill="#d8d8d4" opacity="0.35"/>
<circle cx="221.9" cy="535" r="1.4" fill="#d8d8d4" opacity="0.50"/>
<circle cx="227.4" cy="597.2" r="1.1" fill="#d8d8d4" opacity="0.48"/>
<circle cx="228.9" cy="617.2" r="1.8" fill="#d8d8d4" opacity="0.62"/>
<circle cx="229.2" cy="552.7" r="1.2" fill="#d8d8d4" opacity="0.36"/>
<circle cx="225.7" cy="552.6" r="1.4" fill="#d8d8d4" opacity="0.40"/>
<circle cx="235.6" cy="596.1" r="0.9" fill="#d8d8d4" opacity="0.41"/>
<circle cx="220.2" cy="570.2" r="1.2" fill="#d8d8d4" opacity="0.77"/>
<circle cx="224.5" cy="619.9" r="1.7" fill="#d8d8d4" opacity="0.67"/>
<circle cx="222.9" cy="554.5" r="1.4" fill="#d8d8d4" opacity="0.64"/>
<circle cx="234.5" cy="600" r="0.9" fill="#d8d8d4" opacity="0.41"/>
<circle cx="226.3" cy="552.9" r="1.2" fill="#d8d8d4" opacity="0.59"/>
<circle cx="225.6" cy="579.5" r="1.7" fill="#d8d8d4" opacity="0.41"/>
<circle cx="220.5" cy="527.7" r="1.8" fill="#d8d8d4" opacity="0.75"/>
<circle cx="224.1" cy="587.5" r="1.7" fill="#d8d8d4" opacity="0.62"/>
<circle cx="233.5" cy="615.3" r="1.4" fill="#d8d8d4" opacity="0.76"/>
<circle cx="226.7" cy="571.1" r="1.6" fill="#d8d8d4" opacity="0.75"/>
<circle cx="232.3" cy="575.8" r="1.7" fill="#d8d8d4" opacity="0.66"/>
<circle cx="228.1" cy="570.9" r="1.4" fill="#d8d8d4" opacity="0.49"/>
<circle cx="224.4" cy="538.9" r="1.4" fill="#d8d8d4" opacity="0.50"/>
<circle cx="223.7" cy="538.8" r="0.9" fill="#d8d8d4" opacity="0.68"/>
<path d="M212.7 479.5 L212.1 477.7 L211.6 475.9 L211.1 474.1 L210.7 472.2 L210.4 470.3 L210 468.4 L209.7 466.5 L209.5 464.6 L209.2 462.7 L209 460.7 L207.9 459.2 L207.2 457.4 L209.3 454.5 L209.6 452.4 L211.3 449.6 L211.3 447.6 L212.8 445 L212.6 443.1 L214 440.5 L213.6 438.6 L214.8 436.1 L214.2 434.3 L215.2 431.9 L214.5 430.1 L215.4 427.7 L214.4 426.1 L215.1 423.8 L214 422.2 L214.4 420 L213.1 418.5 L213.3 416.4 L211.7 415 L211.6 413 L209.7 411.8 L209.4 409.9 L207.1 408.8 L206.4 407.1 L203.7 406.1 L202.5 404.6 L199.3 403.9 L197.3 402.6 L193.1 402.3 L189.6 401.7 L178 404.3 L178 404.3 L167.8 410.5 L165.7 413.4 L162.9 416.5 L162.4 418.8 L160.6 421.5 L160.8 423.5 L159.5 426 L160.2 427.8 L159.3 430.1 L160.4 431.7 L159.9 434 L161.2 435.4 L161 437.6 L162.6 438.9 L162.7 440.9 L164.6 442.2 L164.9 444.1 L166.9 445.3 L167.4 447.1 L169.7 448.2 L170.4 450 L172.8 451 L173.7 452.7 L176.3 453.7 L177.3 455.3 L180 456.2 L181.2 457.8 L184.2 458.6 L185.5 460.1 L188.7 460.8 L190.4 462.2 L193.9 462.8 L194.6 464.5 L194.9 466.4 L196.1 468 L197.2 469.5 L198.4 471.1 L199.5 472.7 L200.6 474.3 L201.6 475.9 L202.6 477.5 L203.6 479.1 L204.5 480.8 L205.3 482.5Z" fill="#a0cc38"/>
<path d="M210.5 478.4 L209.1 477.5 L207.7 476.7 L206.4 475.8 L205 474.8 L203.6 473.9 L202.3 472.9 L200.9 472 L199.6 471 L198.3 470 L196.9 469.1 L195.6 468.1 L194.3 467.1 L193 466.1 L191.7 465 L190.4 464 L189.1 463 L187.7 462.2 L185.9 461.9 L184.8 460.6 L183.5 459.6 L183.2 456.9 L181.9 455.7 L181.5 453.1 L180.2 452.1 L179.8 449.6 L178.4 448.8 L177.8 446.4 L176.3 445.7 L175.7 443.5 L174.1 443 L173.4 441 L171.7 440.7 L170.8 438.9 L168.9 438.9 L167.9 437.4 L165.8 437.6 L164.6 436.5 L162.3 437.1 L160.9 436.4 L158.4 437.4 L156.6 437.2 L153.7 438.9 L151.4 439.6 L146.5 444.7 L146.5 444.7 L144.5 451.4 L145.1 453.8 L145 457.2 L146.1 458.6 L146.4 461.3 L147.8 462.2 L148.4 464.4 L150 464.9 L150.8 466.8 L152.6 467 L153.5 468.6 L155.5 468.5 L156.6 469.8 L158.7 469.5 L160 470.6 L162.2 470.1 L163.5 471 L165.8 470.3 L167.3 471.1 L169.7 470.3 L171.2 470.9 L173.6 469.9 L175.2 470.5 L177.8 469.4 L179.3 470 L181 470.4 L182.1 471.8 L183.5 472.6 L185 473.2 L186.6 473.8 L188.1 474.5 L189.6 475.1 L191.1 475.8 L192.7 476.4 L194.2 477.1 L195.7 477.8 L197.2 478.5 L198.7 479.1 L200.2 479.9 L201.7 480.6 L203.1 481.3 L204.6 482 L206.1 482.8 L207.5 483.6Z" fill="#a0cc38"/>
<path d="M210.2 484.3 L212.5 483.5 L214.9 482.8 L217.2 482.2 L219.5 481.6 L221.9 481.1 L224.3 480.5 L226.7 480 L229.1 479.6 L231.5 479.1 L233.9 478.7 L236.1 477.5 L238.1 476.1 L240.6 476 L243.1 475.6 L246.1 476.8 L248.5 476.2 L251.5 477.3 L253.8 476.6 L256.7 477.5 L259 476.7 L261.9 477.5 L264.1 476.6 L266.9 477.3 L269.1 476.2 L271.9 476.7 L274 475.5 L276.7 475.9 L278.7 474.4 L281.4 474.6 L283.4 473 L285.9 473 L287.8 471.2 L290.3 471 L292.1 468.9 L294.5 468.4 L296.2 466.1 L298.5 465.3 L300.1 462.7 L302.3 461.5 L303.7 458.5 L305.7 456.9 L306.9 453.3 L308.5 450.7 L308.4 443.5 L308.4 443.5 L303.7 438.1 L300.8 437.2 L297.5 435.3 L295 435.4 L291.9 434 L289.5 434.6 L286.6 433.7 L284.4 434.6 L281.6 434 L279.4 435.2 L276.7 434.8 L274.7 436.3 L272.1 436.2 L270.1 437.9 L267.6 438 L265.7 439.9 L263.2 440.2 L261.4 442.2 L259 442.7 L257.3 444.9 L255 445.6 L253.3 448 L251 448.7 L249.4 451.2 L247.1 452.1 L245.5 454.8 L243.3 455.8 L241.8 458.5 L239.6 459.7 L238.2 462.6 L236.1 463.9 L234.1 465.5 L231.6 465.8 L229.2 466.3 L227.1 467.6 L225 468.8 L222.9 470 L220.8 471.3 L218.7 472.4 L216.5 473.6 L214.4 474.7 L212.2 475.8 L210 476.8 L207.8 477.7Z" fill="#a0cc38"/>
<path d="M211.1 482.4 L211.6 481.7 L212.3 480.9 L212.9 480.2 L213.6 479.4 L214.3 478.7 L215 478 L215.7 477.3 L216.4 476.6 L217.1 475.9 L217.8 475.2 L218.6 474.6 L219.3 473.9 L220.1 473.2 L220.5 472.4 L221.4 471.8 L221 470.3 L222.2 469.9 L222.6 469.1 L224.6 469.2 L225 468.3 L226.8 468.4 L227.2 467.4 L229 467.5 L229.2 466.5 L231 466.5 L231.1 465.4 L232.8 465.4 L232.9 464.3 L234.4 464.2 L234.4 463 L235.9 462.8 L235.7 461.5 L237 461.2 L236.7 459.8 L237.9 459.4 L237.4 457.9 L238.4 457.4 L237.8 455.7 L238.5 455.1 L237.6 453.3 L238.1 452.4 L236.8 450.3 L236.7 449.1 L233.6 445.7 L233.6 445.7 L229.3 443.9 L228.1 444.2 L225.7 443.8 L225 444.5 L223 444.3 L222.7 445.3 L220.9 445.2 L220.8 446.3 L219.2 446.4 L219.2 447.6 L217.8 447.8 L218 449.2 L216.8 449.5 L217.1 450.9 L216 451.3 L216.4 452.8 L215.4 453.3 L215.9 454.8 L215 455.4 L215.6 457 L214.7 457.6 L215.4 459.3 L214.6 459.9 L215.4 461.6 L214.6 462.3 L215.5 464 L214.8 464.8 L214.9 466 L213.3 466.1 L213.1 467.2 L212.4 467.9 L212.1 468.8 L211.7 469.8 L211.3 470.7 L210.9 471.6 L210.6 472.6 L210.2 473.5 L209.7 474.4 L209.3 475.3 L208.9 476.2 L208.4 477 L208 477.9 L207.5 478.7 L206.9 479.6Z" fill="#96c234"/>
<path d="M207.6 478.3 L206.6 478.5 L205.4 478.3 L204.1 478 L202.9 477.9 L202.1 478.6 L201.5 479.5 L200.3 479.3 L199.9 480.8 L198.4 480.1 L197.6 480.7 L196 479.8 L195.2 480.4 L193.6 479.5 L192.9 480.2 L191.3 479.3 L190.6 480.1 L189 479.3 L188.3 480.1 L186.8 479.3 L186.2 480.2 L184.7 479.5 L184 480.5 L182.6 479.8 L182 480.8 L180.6 480.3 L180.1 481.4 L178.7 480.9 L178.2 482.1 L176.9 481.8 L176.5 483.1 L175.2 482.9 L174.8 484.3 L173.7 484.2 L173.4 485.7 L172.3 485.8 L172 487.5 L171 487.7 L170.9 489.6 L170 490 L170 492.1 L169.2 492.8 L169.4 495.3 L169 496.6 L170.3 501.3 L170.3 501.3 L173.4 505 L174.7 505.4 L176.6 507 L177.6 506.7 L179.4 508 L180.2 507.4 L181.9 508.4 L182.6 507.7 L184.2 508.5 L184.8 507.6 L186.3 508.2 L186.8 507.2 L188.2 507.7 L188.7 506.6 L190.1 506.9 L190.5 505.7 L191.8 505.9 L192.2 504.6 L193.4 504.8 L193.8 503.3 L194.9 503.4 L195.2 501.8 L196.4 501.8 L196.6 500.2 L197.7 500.2 L198 498.5 L199 498.4 L199.2 496.6 L200.3 496.5 L200.5 494.7 L201.5 494.5 L201.6 492.6 L202.6 492.4 L202.8 490.5 L203.7 490.2 L204 488.5 L205.4 489.1 L206 488.1 L207.1 488 L208.1 487.8 L208.7 486.8 L209.1 485.5 L209.7 484.5 L210.4 483.7Z" fill="#a0cc38"/>
<path d="M205.9 478.5 L204.4 480.3 L202.8 482 L201.2 483.8 L199.6 485.5 L197.9 487.2 L196.3 488.9 L194.6 490.5 L192.9 492.2 L191.2 493.9 L189.5 495.5 L187.8 497.2 L186.1 498.8 L184.3 500.4 L182.6 502 L180.8 503.6 L179.6 505.7 L178 507.4 L175.9 508.7 L172.1 508.7 L169.8 509.9 L166.3 510 L164.2 511.3 L160.8 511.6 L158.9 513.1 L155.7 513.6 L154 515.2 L151 515.8 L149.6 517.7 L146.8 518.5 L145.6 520.5 L143.1 521.5 L142.2 523.8 L140 525.1 L139.4 527.6 L137.5 529.1 L137.3 532 L135.9 533.8 L136 537 L135.1 539.3 L135.8 542.9 L135.4 545.6 L136.9 549.9 L137.7 553.6 L143.5 561.4 L143.5 561.4 L152.3 565.5 L156.1 565.5 L160.6 566.1 L163.2 565.2 L166.9 565.2 L168.9 563.8 L172 563.3 L173.6 561.5 L176.3 560.7 L177.4 558.6 L179.8 557.5 L180.6 555.1 L182.6 553.7 L183.1 551.1 L184.9 549.5 L185.1 546.6 L186.6 544.8 L186.6 541.7 L187.9 539.8 L187.6 536.5 L188.7 534.4 L188.3 531 L189.2 528.7 L188.6 525.2 L189.3 522.7 L188.5 519 L189.4 516.7 L190.7 514.7 L192.5 513.2 L193.8 511.1 L195 509.1 L196.2 507 L197.5 505 L198.7 503 L200 501 L201.3 499 L202.6 497 L203.9 495.1 L205.2 493.1 L206.5 491.1 L207.9 489.2 L209.3 487.3 L210.7 485.4 L212.1 483.5Z" fill="#a0cc38"/>
<path d="M206.2 483.1 L207 484.4 L207.8 485.8 L208.4 487.2 L209 488.7 L209.6 490.1 L210.1 491.7 L210.6 493.2 L211.2 494.6 L212.5 495.6 L213.8 496.4 L213.7 498.4 L214.2 499.9 L213.4 502.6 L214 504 L213.2 506.5 L213.9 507.9 L213.2 510.4 L213.9 511.7 L213.3 514.1 L214.2 515.3 L213.7 517.6 L214.7 518.8 L214.3 521 L215.4 522.1 L215.1 524.2 L216.3 525.2 L216.2 527.2 L217.6 528 L217.6 529.9 L219.2 530.6 L219.5 532.3 L221.2 532.9 L221.7 534.4 L223.7 534.8 L224.4 536.2 L226.7 536.3 L227.7 537.5 L230.2 537.4 L231.6 538.3 L234.5 537.9 L236.3 538.4 L239.9 537.6 L242.7 537.4 L249.8 533.7 L249.8 533.7 L255.1 527.7 L256 525.1 L257.8 521.9 L257.7 520 L258.8 517.2 L258.3 515.7 L259 513.2 L258.1 512 L258.6 509.7 L257.4 508.7 L257.6 506.7 L256.2 505.8 L256.1 504 L254.5 503.3 L254.2 501.6 L252.4 501.1 L251.9 499.5 L249.9 499.2 L249.3 497.7 L247.2 497.4 L246.4 496.1 L244.2 495.9 L243.3 494.7 L240.9 494.6 L239.9 493.5 L237.5 493.5 L236.4 492.4 L233.8 492.5 L232.7 491.4 L230 491.6 L228.8 490.6 L226 490.8 L224.7 490 L222.7 489.5 L222.2 488 L221.6 486.6 L220.4 485.6 L219 484.7 L217.7 483.8 L216.4 482.9 L215.2 482 L214 481 L212.8 480 L211.8 478.9Z" fill="#a0cc38"/>
<ellipse cx="209" cy="481" rx="8" ry="8" transform="rotate(0 209 481)" fill="#a9b840"/>
<ellipse cx="495" cy="515" rx="85" ry="80" transform="rotate(0 495 515)" fill="url(#shad)"/>
<path d="M486 505 L486.4 510.9 L487 519.1 L487.7 528.8 L488.4 539.3 L489.2 549.9 L490 560 L490.8 570.4 L491.8 581.9 L492.8 593.4 L493.7 604.3 L494.4 613.4 L495 620" fill="none" stroke="#ccc8b8" stroke-width="1.5" stroke-opacity="0.8" stroke-linecap="round"/>
<path d="M490 510 L490.9 516.6 L492.3 525.9 L493.9 536.9 L495.5 548.5 L496.9 559.9 L498 570 L498.7 579.5 L499.2 589.3 L499.5 598.8 L499.7 607.4 L499.9 614.7 L500 620" fill="none" stroke="#ccc8b8" stroke-width="1.5" stroke-opacity="0.8" stroke-linecap="round"/>
<path d="M416 596 L419.6 597.3 L424.5 599.2 L430.4 601.4 L436.8 603.7 L443.5 606 L450 608 L457 609.9 L465 611.9 L473.1 613.8 L480.8 615.5 L487.3 616.9 L492 618" fill="none" stroke="#ccc8b8" stroke-width="1.5" stroke-opacity="0.8" stroke-linecap="round"/>
<path d="M485 540 L483.3 544.7 L480.9 551.5 L478 559.4 L475 567.4 L472.3 574.6 L470 580 L468.2 583.5 L466.5 585.9 L465.1 587.5 L463.8 588.5 L462.8 589.3 L462 590" fill="none" stroke="#ccc8b8" stroke-width="1.5" stroke-opacity="0.8" stroke-linecap="round"/>
<circle cx="492.9" cy="541" r="1.6" fill="#d8d8d4" opacity="0.36"/>
<circle cx="493.5" cy="610.8" r="1.3" fill="#d8d8d4" opacity="0.57"/>
<circle cx="491.2" cy="509.2" r="1.5" fill="#d8d8d4" opacity="0.78"/>
<circle cx="500" cy="616.4" r="1.6" fill="#d8d8d4" opacity="0.55"/>
<circle cx="488.5" cy="518.6" r="1.1" fill="#d8d8d4" opacity="0.63"/>
<circle cx="486.8" cy="506" r="1.6" fill="#d8d8d4" opacity="0.48"/>
<circle cx="493.8" cy="594.9" r="1.8" fill="#d8d8d4" opacity="0.41"/>
<circle cx="484.3" cy="561.1" r="1.4" fill="#d8d8d4" opacity="0.51"/>
<circle cx="491.9" cy="601.6" r="1.6" fill="#d8d8d4" opacity="0.42"/>
<circle cx="496.2" cy="603" r="1.8" fill="#d8d8d4" opacity="0.60"/>
<circle cx="484.4" cy="529.1" r="1.2" fill="#d8d8d4" opacity="0.69"/>
<circle cx="498.4" cy="583.7" r="1.8" fill="#d8d8d4" opacity="0.55"/>
<circle cx="485.5" cy="561.3" r="1.6" fill="#d8d8d4" opacity="0.39"/>
<circle cx="487.2" cy="606.4" r="1.4" fill="#d8d8d4" opacity="0.55"/>
<circle cx="495.3" cy="559.9" r="1.2" fill="#d8d8d4" opacity="0.71"/>
<circle cx="486.6" cy="504.3" r="1.7" fill="#d8d8d4" opacity="0.78"/>
<circle cx="492.5" cy="558.3" r="1" fill="#d8d8d4" opacity="0.79"/>
<circle cx="493.5" cy="602.5" r="1.6" fill="#d8d8d4" opacity="0.52"/>
<circle cx="484.7" cy="531.3" r="1.6" fill="#d8d8d4" opacity="0.71"/>
<circle cx="484.9" cy="562" r="1.5" fill="#d8d8d4" opacity="0.71"/>
<circle cx="496.5" cy="559.2" r="0.9" fill="#d8d8d4" opacity="0.80"/>
<circle cx="491" cy="528.1" r="1" fill="#d8d8d4" opacity="0.36"/>
<circle cx="483.4" cy="528.7" r="1.8" fill="#d8d8d4" opacity="0.65"/>
<circle cx="482.2" cy="549.7" r="1.8" fill="#d8d8d4" opacity="0.63"/>
<circle cx="487.5" cy="559.8" r="1.1" fill="#d8d8d4" opacity="0.64"/>
<circle cx="484.7" cy="510.2" r="1.8" fill="#d8d8d4" opacity="0.42"/>
<circle cx="483" cy="541.2" r="1.7" fill="#d8d8d4" opacity="0.65"/>
<circle cx="485.7" cy="502.2" r="1.8" fill="#d8d8d4" opacity="0.52"/>
<circle cx="488.6" cy="506" r="1.4" fill="#d8d8d4" opacity="0.78"/>
<circle cx="490.4" cy="509.9" r="1.4" fill="#d8d8d4" opacity="0.46"/>
<circle cx="480.5" cy="520.4" r="1.5" fill="#d8d8d4" opacity="0.65"/>
<circle cx="491.4" cy="596.3" r="1.3" fill="#d8d8d4" opacity="0.49"/>
<circle cx="488.9" cy="567.8" r="1.9" fill="#d8d8d4" opacity="0.56"/>
<circle cx="491.4" cy="621" r="1.8" fill="#d8d8d4" opacity="0.64"/>
<circle cx="493.2" cy="558.6" r="1.4" fill="#d8d8d4" opacity="0.55"/>
<circle cx="492.4" cy="601.5" r="1.4" fill="#d8d8d4" opacity="0.80"/>
<circle cx="492.7" cy="584.5" r="1.6" fill="#d8d8d4" opacity="0.46"/>
<circle cx="494.9" cy="622.6" r="1" fill="#d8d8d4" opacity="0.46"/>
<circle cx="486" cy="506.7" r="0.9" fill="#d8d8d4" opacity="0.73"/>
<circle cx="488.1" cy="567.7" r="0.9" fill="#d8d8d4" opacity="0.79"/>
<path d="M494.2 494.8 L493.6 493.7 L493.1 492.7 L492.6 491.6 L492.1 490.6 L491.6 489.5 L491.1 488.4 L490.6 487.3 L490.1 486.3 L489.7 485.2 L489.2 484.1 L488.7 483 L488.3 481.9 L487.8 480.8 L487.4 479.7 L487 478.6 L486.5 477.5 L486.1 476.4 L485.7 475.3 L485 474.3 L484 473.6 L483.9 472.3 L482.2 471.8 L483 470 L482.3 469.1 L483.1 467.3 L482.2 466.4 L483 464.7 L482 463.8 L482.7 462.1 L481.6 461.4 L482.1 459.7 L481 459 L481.4 457.5 L480.1 456.9 L480.3 455.4 L478.8 454.9 L478.8 453.5 L477.1 453.1 L476.8 451.9 L474.9 451.7 L474.3 450.7 L472 450.6 L470.8 449.9 L466.6 450.9 L466.6 450.9 L463.6 454 L463.6 455.3 L462.4 457.3 L463 458.4 L462.2 460.2 L463.1 461 L462.6 462.7 L463.7 463.4 L463.4 464.9 L464.8 465.5 L464.6 466.9 L466.1 467.4 L466.1 468.7 L467.8 469.2 L467.9 470.4 L469.7 470.8 L469.9 472 L471.8 472.3 L472.1 473.5 L474.1 473.7 L474.5 474.9 L476.4 475.1 L475.9 476.7 L477 477.5 L477.1 478.8 L477.6 479.8 L478.3 480.8 L479 481.7 L479.7 482.7 L480.5 483.6 L481.2 484.6 L481.9 485.5 L482.6 486.5 L483.3 487.4 L484 488.4 L484.7 489.3 L485.3 490.3 L486 491.3 L486.7 492.3 L487.3 493.2 L488 494.2 L488.6 495.2 L489.2 496.2 L489.8 497.2Z" fill="#96c234"/>
<path d="M492.5 497.9 L493.5 497.7 L494.5 497.5 L495.5 497.3 L496.5 497.1 L497.5 496.9 L498.5 496.8 L499.5 496.6 L500.5 496.4 L501.5 496.2 L502.5 496.1 L503.5 495.9 L504.5 495.7 L505.5 495.6 L506.6 495.4 L507.6 495.3 L508.6 495.1 L509.6 495 L510.6 494.8 L511.6 494.7 L512.6 494.6 L513.7 494.4 L514.7 494.3 L515.7 494.2 L516.7 494 L517.7 493.6 L518.5 492.8 L519.7 493.3 L520.7 493 L522.1 494.4 L523 494 L524.4 495.3 L525.3 494.8 L526.6 495.9 L527.5 495.2 L528.7 496.1 L529.6 495.1 L530.8 495.8 L531.5 494.5 L532.6 494.9 L533.3 493.2 L534.3 493.1 L534.9 490.9 L535.7 490.1 L535.7 485.7 L535.7 485.7 L533.8 481.8 L532.6 481.4 L531.2 479.7 L530.2 480.1 L528.9 478.9 L528 479.7 L526.8 478.9 L526 480 L524.8 479.5 L524.1 480.9 L523 480.6 L522.3 482.3 L521.3 482.2 L520.6 483.9 L519.6 484 L519 485.9 L518 486.1 L517.2 487 L516 486.7 L515 486.7 L514 487.1 L513.1 487.4 L512.1 487.7 L511.1 488.1 L510.1 488.4 L509.2 488.7 L508.2 489.1 L507.2 489.4 L506.3 489.7 L505.3 490 L504.3 490.3 L503.3 490.6 L502.4 491 L501.4 491.3 L500.4 491.6 L499.4 491.9 L498.4 492.1 L497.5 492.4 L496.5 492.7 L495.5 493 L494.5 493.3 L493.5 493.5 L492.5 493.8 L491.5 494.1Z" fill="#96c234"/>
<path d="M495 496.3 L495.2 494.4 L495.4 492.4 L495.7 490.5 L496 488.6 L496.2 486.7 L496.5 484.8 L496.8 482.8 L497.1 480.9 L497.5 479 L497.8 477.1 L498.1 475.2 L498.5 473.3 L498.8 471.3 L499.1 469.4 L499.5 467.5 L499.9 465.6 L500.2 463.7 L500.6 461.8 L501 459.9 L501.4 458 L501.3 456 L500.8 454 L503.4 452.3 L504.5 450.5 L507.3 448.8 L508.2 446.9 L510.9 445.2 L511.6 443.4 L514.1 441.7 L514.7 439.8 L517 438 L517.3 436.1 L519.3 434.4 L519.3 432.4 L520.9 430.6 L520.4 428.6 L521.4 426.8 L520.4 424.7 L520.7 422.8 L518.8 420.7 L518.1 418.7 L514.8 416.4 L512.1 414.2 L500.2 411.1 L500.2 411.1 L488 411.9 L484.9 413.5 L481.2 415.1 L480.2 417 L477.9 418.7 L477.8 420.6 L476.4 422.4 L477.1 424.4 L476.2 426.3 L477.4 428.4 L477.1 430.3 L478.7 432.4 L478.6 434.3 L480.5 436.5 L480.7 438.4 L482.8 440.6 L483.2 442.6 L485.5 444.7 L486 446.7 L488.5 448.9 L489.2 450.9 L491.4 453.1 L490.6 455 L490.1 456.9 L490.1 458.8 L490.1 460.8 L490.1 462.7 L490.1 464.7 L490.1 466.6 L490.1 468.6 L490.1 470.5 L490 472.4 L490 474.4 L489.9 476.3 L489.9 478.3 L489.8 480.2 L489.8 482.2 L489.7 484.1 L489.6 486 L489.5 488 L489.4 489.9 L489.3 491.8 L489.2 493.8 L489 495.7Z" fill="#a0cc38"/>
<path d="M492.8 493.6 L490.6 492.9 L488.3 492.1 L486.1 491.2 L483.9 490.4 L481.7 489.6 L479.5 488.7 L477.3 487.9 L475.1 487 L472.9 486.1 L470.7 485.3 L468.5 484.4 L466.3 483.5 L464.2 482.6 L462 481.7 L459.8 480.8 L457.6 479.9 L455.4 478.9 L453.2 478.2 L450.9 477.8 L449 476 L447.4 473.1 L445.3 472.1 L443.7 469.4 L441.5 468.6 L439.8 466.2 L437.5 465.6 L435.8 463.4 L433.4 463 L431.6 461 L429.2 460.8 L427.3 459 L424.8 459.1 L422.8 457.5 L420.3 457.8 L418.2 456.4 L415.5 457 L413.4 455.9 L410.7 456.7 L408.4 456 L405.6 457.1 L403.2 456.7 L400.2 458.4 L397.5 458.8 L393.6 463.2 L393.6 463.2 L394.1 469.1 L396 471 L397.4 474.1 L399.5 475.3 L401.1 477.9 L403.4 478.6 L405.1 480.9 L407.4 481.4 L409.2 483.4 L411.7 483.5 L413.6 485.3 L416.1 485.2 L418 486.8 L420.6 486.5 L422.7 487.8 L425.3 487.2 L427.5 488.3 L430.2 487.6 L432.4 488.5 L435.2 487.6 L437.4 488.3 L440.3 487.1 L442.6 487.6 L445.6 486.1 L448.1 485.9 L450.3 487 L452.5 487.7 L454.8 488.3 L457.1 488.9 L459.4 489.4 L461.7 490 L464 490.6 L466.3 491.2 L468.5 491.8 L470.8 492.4 L473.1 493.1 L475.4 493.7 L477.6 494.3 L479.9 495 L482.2 495.6 L484.5 496.3 L486.7 497 L489 497.7 L491.2 498.4Z" fill="#a0cc38"/>
<path d="M493.6 498 L494.7 497.1 L495.8 496.3 L497 495.6 L498.2 494.9 L499.4 494.1 L500.6 493.4 L501.8 492.7 L503 492.1 L504.3 491.4 L505.5 490.7 L506.8 490.1 L507.8 489.2 L508.8 488.1 L509.5 486.9 L511.4 487 L512.5 486.2 L514.8 486.8 L515.8 485.9 L518 486.4 L519 485.4 L521.1 485.9 L522.1 484.9 L524.2 485.2 L525 484.1 L527 484.4 L527.9 483.2 L529.8 483.4 L530.5 482.1 L532.3 482.1 L533 480.7 L534.7 480.7 L535.2 479.1 L536.8 478.9 L537.2 477.1 L538.7 476.7 L538.9 474.8 L540.2 474.2 L540.3 472.1 L541.4 471.3 L541.2 468.9 L542 467.7 L541.6 464.9 L541.9 463 L539.6 457.9 L539.6 457.9 L535.1 454.6 L533.3 454.5 L530.6 453.4 L529.3 454 L527 453.3 L525.9 454.2 L523.8 453.8 L522.9 454.9 L521 454.7 L520.3 456 L518.6 456.1 L518 457.6 L516.3 457.7 L515.9 459.4 L514.4 459.7 L514 461.5 L512.6 461.9 L512.4 463.8 L511 464.4 L510.8 466.4 L509.6 467 L509.5 469.1 L508.3 469.8 L508.2 472 L507.1 472.7 L507.1 475 L506 475.8 L506 478.1 L505 479 L504.7 480.9 L503.4 481.4 L502.1 482 L501 482.9 L500.1 484 L499.2 485 L498.3 486.1 L497.3 487.2 L496.4 488.2 L495.4 489.2 L494.5 490.2 L493.5 491.2 L492.5 492.2 L491.5 493.1 L490.4 494Z" fill="#a0cc38"/>
<path d="M491.3 493.6 L489.6 494.1 L487.9 494.6 L486.2 495 L484.5 495.5 L482.7 495.9 L481 496.3 L479.3 496.7 L477.6 497.1 L475.9 497.5 L474.1 497.9 L472.4 498.3 L470.7 498.6 L469 499 L467.2 499.3 L465.5 499.7 L463.7 500 L462.1 500.5 L460.5 501.4 L458.7 501.5 L457.1 502.3 L454.8 500.9 L453.1 501.3 L450.8 500.1 L449.2 500.6 L447 499.4 L445.3 500.1 L443.1 499.1 L441.5 499.8 L439.4 499 L437.9 499.9 L435.8 499.2 L434.3 500.3 L432.3 499.9 L430.9 501.2 L429 501 L427.7 502.7 L425.9 502.7 L424.6 504.7 L422.9 505.2 L421.8 507.5 L420.3 508.4 L419.4 511.4 L418.1 513.2 L418.1 519.2 L418.1 519.2 L421.5 524.1 L423.6 524.8 L426 526.8 L427.8 526.6 L430.1 527.9 L431.7 527.3 L433.9 528.2 L435.4 527.3 L437.4 527.9 L438.9 526.6 L440.8 526.9 L442.2 525.4 L444.1 525.5 L445.3 523.7 L447.2 523.6 L448.4 521.7 L450.2 521.4 L451.4 519.3 L453.1 518.9 L454.2 516.7 L455.9 516.2 L457 513.9 L458.7 513.2 L459.7 510.8 L461.5 510.5 L463.1 509.6 L464.8 509.4 L466.5 508.8 L468.1 508.1 L469.8 507.4 L471.4 506.7 L473 506 L474.6 505.3 L476.3 504.6 L477.9 504 L479.5 503.3 L481.2 502.7 L482.8 502 L484.5 501.4 L486.1 500.7 L487.8 500.1 L489.4 499.5 L491.1 498.9 L492.7 498.4Z" fill="#a0cc38"/>
<path d="M489 496.5 L489.2 497.5 L489.3 498.4 L489.3 499.3 L489.4 500.2 L489.4 501.2 L489.5 502.1 L489.5 503.1 L489.5 504 L489.5 505 L489.5 505.9 L489.5 506.8 L489.5 507.8 L489.4 508.7 L489.4 509.7 L489.3 510.7 L489.3 511.6 L489.2 512.6 L489.7 513.4 L489.6 514.4 L491 515.1 L490.6 516.1 L491.6 516.9 L490.2 518.1 L490.6 518.9 L489.3 520.1 L489.8 521 L488.6 522.1 L489.2 523 L488.1 524.1 L488.8 524.9 L487.9 526 L488.7 526.8 L487.9 527.9 L488.9 528.7 L488.2 529.8 L489.5 530.5 L489 531.5 L490.5 532.2 L490.3 533.2 L492 533.8 L492.1 534.7 L494.3 535.3 L495 536.1 L499.2 536.3 L499.2 536.3 L503 534.7 L503.5 533.7 L505.3 532.4 L505.1 531.5 L506.5 530.3 L506 529.4 L507.1 528.3 L506.3 527.5 L507.2 526.4 L506.2 525.6 L506.9 524.5 L505.7 523.8 L506.3 522.8 L505 522 L505.4 521 L503.9 520.3 L504.2 519.3 L502.7 518.7 L502.9 517.7 L501.2 517 L501.3 516.1 L499.6 515.4 L500.2 514.4 L499.5 513.6 L500.7 512.4 L500.2 511.6 L500.4 510.6 L500 509.7 L499.6 508.8 L499.2 507.9 L498.8 507.1 L498.5 506.2 L498.1 505.3 L497.8 504.4 L497.4 503.5 L497.1 502.6 L496.8 501.8 L496.5 500.9 L496.2 500 L495.9 499.1 L495.6 498.2 L495.4 497.3 L495.2 496.4 L495 495.5Z" fill="#7fb23a"/>
<path d="M489.9 498.1 L491.4 499.7 L492.8 501.2 L494.3 502.8 L495.7 504.4 L497.2 505.9 L498.6 507.5 L500 509.1 L501.4 510.8 L502.8 512.4 L504.2 514 L505.6 515.6 L507 517.3 L508.4 518.9 L509.7 520.5 L511.1 522.2 L512.5 523.9 L513.8 525.5 L515.2 527.2 L516.9 528.5 L518.6 529.8 L518 533.5 L518.8 535.7 L518.4 539.1 L519.4 541.1 L519.2 544.3 L520.4 546.1 L520.4 549.1 L521.8 550.8 L522 553.6 L523.6 555 L524 557.6 L525.8 558.8 L526.5 561.1 L528.7 562 L529.6 564.1 L532.1 564.6 L533.4 566.3 L536.3 566.5 L538 567.7 L541.3 567.5 L543.7 568.2 L547.6 567.2 L551 566.9 L558.4 562.4 L558.4 562.4 L562.9 555 L563.2 551.6 L564.2 547.7 L563.5 545.3 L563.7 542 L562.5 540.3 L562.3 537.4 L560.6 536.1 L560.1 533.6 L558 532.7 L557.1 530.5 L554.8 529.8 L553.6 528 L551 527.6 L549.6 526 L546.8 525.8 L545.1 524.4 L542.1 524.4 L540.3 523.2 L537.1 523.4 L535.1 522.4 L531.7 522.8 L529.5 522 L525.8 522.6 L524.5 520.9 L523.2 519.2 L521.5 517.8 L519.9 516.5 L518.2 515.1 L516.5 513.7 L514.9 512.4 L513.3 511 L511.6 509.6 L510 508.2 L508.4 506.8 L506.8 505.4 L505.1 504 L503.5 502.6 L501.9 501.2 L500.4 499.7 L498.8 498.3 L497.2 496.8 L495.7 495.4 L494.1 493.9Z" fill="#a0cc38"/>
<ellipse cx="600" cy="513" rx="20" ry="15" transform="rotate(-35 600 513)" fill="#a0cc38"/>
<ellipse cx="492" cy="496" rx="10" ry="9" transform="rotate(0 492 496)" fill="#8cc03a"/>
<ellipse cx="220" cy="775" rx="85" ry="85" transform="rotate(0 220 775)" fill="url(#shad)"/>
<path d="M211 775 L210.4 779.6 L209.5 785.9 L208.4 793.3 L207.3 801.7 L206.1 810.7 L205 820 L203.8 830.7 L202.5 843.2 L201.1 856.3 L199.9 868.8 L198.8 879.5 L198 887" fill="none" stroke="#c4c0b2" stroke-width="1.5" stroke-opacity="0.8" stroke-linecap="round"/>
<path d="M214 778 L213.8 783.6 L213.5 791.3 L213.1 800.4 L212.7 810.4 L212.4 820.4 L212 830 L211.6 839.9 L211.3 850.7 L210.9 861.8 L210.5 872 L210.2 880.7 L210 887" fill="none" stroke="#c4c0b2" stroke-width="1.5" stroke-opacity="0.8" stroke-linecap="round"/>
<path d="M218 780 L218.5 786.7 L219.3 796 L220.2 807.1 L221 818.7 L221.7 830.1 L222 840 L221.9 849.1 L221.4 858.4 L220.8 867.2 L220 875.3 L219.4 882 L219 887" fill="none" stroke="#c4c0b2" stroke-width="1.5" stroke-opacity="0.8" stroke-linecap="round"/>
<path d="M208 780 L206 786.7 L203.2 796 L199.9 807.1 L196.4 818.7 L193 830.1 L190 840 L187.2 849.1 L184.2 858.4 L181.4 867.2 L178.8 875.3 L176.6 882 L175 887" fill="none" stroke="#c4c0b2" stroke-width="1.5" stroke-opacity="0.8" stroke-linecap="round"/>
<path d="M172 830 L170.6 833.3 L168.7 837.9 L166.5 843.3 L164.1 849.1 L161.9 854.8 L160 860 L158.3 865 L156.7 870.2 L155.2 875.4 L153.9 880.1 L152.8 884.1 L152 887" fill="none" stroke="#c4c0b2" stroke-width="1.5" stroke-opacity="0.8" stroke-linecap="round"/>
<path d="M228 790 L228.8 795.5 L230.1 803.1 L231.6 812.1 L232.9 821.7 L233.8 831.3 L234 840 L233.3 848.6 L231.8 857.6 L229.9 866.6 L227.9 874.9 L226.2 881.9 L225 887" fill="none" stroke="#c4c0b2" stroke-width="1.5" stroke-opacity="0.8" stroke-linecap="round"/>
<circle cx="212.2" cy="786.7" r="1.1" fill="#d8d8d4" opacity="0.46"/>
<circle cx="210.2" cy="808.2" r="1.9" fill="#d8d8d4" opacity="0.42"/>
<circle cx="215.4" cy="777.9" r="0.9" fill="#d8d8d4" opacity="0.59"/>
<circle cx="202.7" cy="832.3" r="1.4" fill="#d8d8d4" opacity="0.41"/>
<circle cx="216.8" cy="773.8" r="1.3" fill="#d8d8d4" opacity="0.72"/>
<circle cx="209.2" cy="791.1" r="1.4" fill="#d8d8d4" opacity="0.70"/>
<circle cx="211.8" cy="800.6" r="1" fill="#d8d8d4" opacity="0.39"/>
<circle cx="211.2" cy="795.1" r="1.9" fill="#d8d8d4" opacity="0.65"/>
<circle cx="201.2" cy="802.9" r="0.9" fill="#d8d8d4" opacity="0.44"/>
<circle cx="212.7" cy="804" r="1" fill="#d8d8d4" opacity="0.70"/>
<path d="M221.6 750.8 L220.8 749.8 L220.1 748.8 L219.3 747.8 L218.6 746.9 L217.9 745.9 L217.1 744.9 L216.4 743.9 L215.7 742.9 L215 741.9 L214.2 740.9 L213.5 739.9 L212.8 738.9 L212.1 737.9 L211.4 736.9 L210.7 735.9 L209.9 734.9 L209.2 733.9 L208.5 732.9 L207.8 731.9 L207.1 730.9 L206.4 729.9 L205.7 728.9 L205 727.9 L204.3 726.9 L203.6 725.9 L202.9 724.9 L202.2 723.8 L201.5 722.8 L200.8 721.8 L200.1 720.8 L199.4 719.8 L198.7 718.8 L197.8 717.9 L196.4 717.5 L197 715.4 L196.4 714.3 L197.1 712.2 L196.2 711.4 L196.5 709.6 L195 709.2 L194.7 707.9 L192.5 708 L191.2 707.5 L186.7 709.5 L186.7 709.5 L183.6 713.4 L183.9 714.8 L183.2 716.9 L184.4 717.5 L184.5 719 L186.3 719.2 L186.9 720.3 L189.1 720.1 L190 720.9 L192.1 720.8 L192.2 722.3 L192.8 723.4 L193.6 724.3 L194.5 725.2 L195.3 726.1 L196.1 727.1 L196.9 728 L197.7 728.9 L198.5 729.8 L199.4 730.7 L200.2 731.7 L201 732.6 L201.8 733.5 L202.6 734.4 L203.4 735.4 L204.2 736.3 L205 737.2 L205.8 738.2 L206.6 739.1 L207.4 740 L208.2 741 L209 741.9 L209.8 742.8 L210.6 743.8 L211.4 744.7 L212.2 745.6 L213 746.6 L213.8 747.5 L214.6 748.5 L215.3 749.4 L216.1 750.4 L216.9 751.3 L217.7 752.3 L218.4 753.2Z" fill="#96c234"/>
<path d="M222.3 748.1 L220.1 746.8 L218 745.4 L215.8 743.9 L213.7 742.5 L211.6 741 L209.5 739.5 L207.4 738 L205.3 736.5 L203.3 734.9 L201.2 733.4 L199.1 731.8 L197.1 730.2 L195.1 728.6 L193 727 L191 725.4 L189 723.8 L186.8 722.4 L184.3 721.6 L182.1 720.2 L179.2 720.1 L177.7 717.6 L175.6 716.1 L174.4 713.1 L172.2 711.8 L171 708.9 L168.7 707.6 L167.4 704.8 L165.1 703.6 L163.7 700.9 L161.4 699.8 L160 697.2 L157.5 696.2 L156 693.8 L153.5 693 L151.8 690.8 L149.2 690.2 L147.4 688.2 L144.6 687.9 L142.6 686.2 L139.5 686.4 L137.2 685.2 L133.7 686.1 L130.6 686.2 L122.9 694.1 L122.9 694.1 L119.7 704.5 L121 707.3 L121.9 710.8 L124 712.3 L125.4 715.1 L127.8 716 L129.4 718.4 L132 719 L133.8 721.1 L136.5 721.4 L138.4 723.3 L141.3 723.5 L143.3 725.1 L146.2 725.2 L148.3 726.7 L151.4 726.7 L153.5 728.1 L156.6 727.9 L158.8 729.3 L161.9 729 L164.1 730.3 L167.3 730 L169.6 731.1 L172.6 731.2 L174 733.8 L176.3 735 L178.2 736.8 L180.5 738 L182.8 739.1 L185.2 740.1 L187.6 741.1 L190 742.2 L192.3 743.2 L194.7 744.3 L197 745.4 L199.4 746.5 L201.7 747.6 L204 748.7 L206.3 749.8 L208.6 751 L210.9 752.2 L213.2 753.4 L215.5 754.6 L217.7 755.9Z" fill="#a0cc38"/>
<path d="M222.3 752.9 L222.8 751.8 L223.2 750.7 L223.7 749.7 L224.1 748.6 L224.6 747.6 L225 746.6 L225.5 745.5 L226 744.5 L226.5 743.4 L227 742.4 L227.5 741.4 L228 740.3 L228.5 739.3 L229 738.3 L229.6 737.2 L230.1 736.2 L230.6 735.2 L231.2 734.2 L231.7 733.2 L232.2 732.1 L232.8 731.1 L232.9 730 L233.6 729 L233.1 727.6 L235.4 727.2 L235.9 726.2 L238 725.8 L238.4 724.7 L240.4 724.2 L240.7 723.1 L242.5 722.5 L242.5 721.3 L244.2 720.7 L244 719.4 L245.4 718.7 L244.9 717.3 L246 716.5 L245.1 715 L245.8 714 L244.6 712.3 L244.8 711.2 L242.9 709.2 L242.2 707.8 L237.5 704.8 L237.5 704.8 L232.1 704 L230.6 704.7 L227.9 704.9 L227.3 705.9 L225.3 706.4 L225.1 707.5 L223.5 708.2 L223.8 709.5 L222.5 710.2 L223.1 711.7 L222.1 712.5 L223 714 L222.2 715 L223.2 716.6 L222.7 717.6 L223.9 719.3 L223.5 720.3 L224.8 722.1 L224.5 723.2 L226 725 L224.7 725.7 L224.6 726.9 L224 727.8 L223.7 729 L223.4 730.1 L223.2 731.2 L222.9 732.3 L222.7 733.5 L222.4 734.6 L222.1 735.7 L221.8 736.8 L221.5 737.9 L221.3 739 L221 740.2 L220.7 741.3 L220.4 742.4 L220 743.5 L219.7 744.6 L219.4 745.7 L219.1 746.8 L218.7 747.9 L218.4 749 L218 750 L217.7 751.1Z" fill="#a89858"/>
<path d="M222.9 752.8 L223.3 752.1 L224 751.5 L224.8 750.9 L225.7 750.4 L226.5 749.8 L226.4 749 L227 748.4 L226.1 747.3 L226.9 746.8 L226 745.7 L227.1 745.2 L226.9 744.4 L228.5 744 L228.3 743.2 L229.8 742.8 L229.6 741.9 L231.1 741.6 L230.8 740.7 L232.2 740.3 L231.9 739.4 L233.3 739 L232.9 738.1 L234.2 737.7 L233.8 736.8 L235.1 736.3 L234.5 735.4 L235.7 734.9 L235.1 734 L236.3 733.5 L235.6 732.5 L236.6 732 L235.8 731 L236.7 730.4 L235.8 729.4 L236.6 728.8 L235.5 727.7 L236.2 727.1 L235 726 L235.5 725.3 L234.1 724.1 L234.4 723.4 L232.7 722.2 L232.4 721.3 L229 719.5 L229 719.5 L225.2 719.3 L224.5 719.9 L222.4 720.1 L222.3 720.9 L220.5 721.2 L220.6 722 L219 722.3 L219.2 723.2 L217.8 723.6 L218.1 724.5 L216.8 724.9 L217.3 725.8 L216.1 726.3 L216.7 727.3 L215.6 727.7 L216.3 728.7 L215.3 729.2 L216.1 730.3 L215.2 730.8 L216 731.8 L215.2 732.4 L216.1 733.4 L215.3 734 L216.3 735.1 L215.6 735.7 L216.6 736.8 L215.9 737.4 L217 738.5 L216.3 739.1 L217.5 740.2 L216.8 740.8 L218 741.9 L217.4 742.6 L218.1 743.5 L216.8 744 L217.2 744.9 L215.9 745.3 L216.1 746.1 L215.6 746.8 L216 747.7 L216.4 748.6 L216.8 749.5 L217.1 750.4 L217.1 751.2Z" fill="#a0cc38"/>
<path d="M222.2 754.8 L223.8 753.6 L225.4 752.4 L227 751.3 L228.6 750.1 L230.3 749 L232 747.9 L233.6 746.9 L235.3 745.8 L237 744.7 L238.7 743.7 L240.4 742.6 L242.1 741.6 L243.8 740.6 L245.5 739.5 L247.3 738.5 L249 737.5 L250.4 736.1 L251.6 734.3 L253.4 733.5 L255.1 732.5 L258.1 733 L259.9 732.1 L262.8 732.5 L264.5 731.5 L267.2 731.8 L268.8 730.6 L271.5 730.8 L273 729.5 L275.5 729.5 L276.9 728 L279.3 727.9 L280.5 726.2 L282.7 725.8 L283.7 723.8 L285.7 723.2 L286.5 720.9 L288.2 720 L288.7 717.4 L290.2 716.1 L290.4 713.1 L291.4 711.2 L291.1 707.6 L291.5 704.8 L288.6 698 L288.6 698 L282.6 693.6 L279.9 693.3 L276.4 692.1 L274.4 692.7 L271.4 692.2 L269.8 693.3 L267.2 693.2 L265.8 694.7 L263.4 694.9 L262.3 696.7 L260.2 697.2 L259.3 699.3 L257.4 700 L256.7 702.3 L254.9 703.3 L254.3 705.8 L252.7 706.9 L252.2 709.5 L250.7 710.8 L250.4 713.6 L249 715 L248.7 717.9 L247.4 719.4 L247.2 722.4 L245.8 723.9 L244.6 725.5 L242.6 726.2 L240.9 727.2 L239.5 728.6 L238.1 730.1 L236.7 731.5 L235.3 733 L233.9 734.4 L232.5 735.8 L231.1 737.2 L229.6 738.6 L228.2 740 L226.8 741.3 L225.3 742.7 L223.8 744 L222.4 745.4 L220.9 746.7 L219.4 748 L217.8 749.2Z" fill="#a0cc38"/>
<path d="M217.9 749.8 L217.2 750.4 L216.5 750.9 L215.7 751.4 L214.9 751.9 L214.1 752.3 L213.2 752.7 L212.4 753.1 L211.5 753.5 L210.6 753.9 L209.7 754.3 L208.9 754.7 L208.5 755.6 L207.6 755.9 L207.8 757.5 L206.2 757.1 L205.5 757.7 L203.7 757.1 L203 757.7 L201.2 757.1 L200.7 757.8 L198.9 757.3 L198.4 758.1 L196.7 757.6 L196.3 758.5 L194.6 758 L194.3 759 L192.7 758.7 L192.5 759.7 L191 759.5 L190.9 760.7 L189.5 760.6 L189.5 761.8 L188.3 761.9 L188.4 763.3 L187.4 763.5 L187.6 765.1 L186.8 765.5 L187.2 767.3 L186.5 767.9 L187.2 770 L186.8 770.8 L187.9 773.3 L188.1 774.8 L191.1 779.3 L191.1 779.3 L195.4 782.6 L196.9 782.8 L199.3 784 L200.2 783.7 L202.2 784.5 L202.9 783.9 L204.6 784.4 L205.1 783.6 L206.6 783.9 L206.9 782.9 L208.3 783.1 L208.4 781.9 L209.7 781.9 L209.7 780.6 L210.9 780.5 L210.7 779 L211.8 778.8 L211.6 777.3 L212.5 777 L212.2 775.3 L213.1 775 L212.7 773.2 L213.5 772.8 L213.1 771 L213.8 770.5 L213.3 768.6 L214 768 L213.4 766.1 L214.1 765.5 L213.9 763.9 L215.4 764.2 L215.8 763.3 L216.6 762.9 L217.1 762.1 L217.6 761.3 L218 760.4 L218.4 759.5 L218.9 758.7 L219.4 757.9 L219.9 757.1 L220.4 756.3 L220.9 755.6 L221.5 754.9 L222.1 754.2Z" fill="#a0cc38"/>
<path d="M217.5 750.3 L216.4 752 L215.2 753.6 L214.1 755.2 L212.9 756.9 L211.7 758.5 L210.5 760.1 L209.4 761.7 L208.2 763.2 L206.9 764.8 L205.7 766.4 L204.5 768 L203.3 769.6 L202.1 771.1 L200.8 772.7 L199.6 774.3 L198.3 775.8 L197.1 777.4 L195.8 778.9 L194.6 780.5 L193.4 782.1 L192.7 784 L191.2 785.4 L187.7 785.5 L186 786.7 L182.8 787 L181.2 788.4 L178.2 788.8 L176.9 790.3 L174.1 790.8 L173 792.5 L170.6 793.2 L169.7 795.1 L167.6 796 L167.1 798.1 L165.2 799.3 L165.1 801.6 L163.7 803 L164.1 805.6 L163.1 807.4 L164 810.4 L163.7 812.6 L165.4 816 L166.2 819 L171.8 825 L171.8 825 L179.5 827.8 L182.6 827.4 L186.4 827.5 L188.3 826.4 L191.4 826.1 L192.6 824.5 L195.2 823.8 L196 821.9 L198 820.9 L198.4 818.8 L200.1 817.5 L200.1 815.1 L201.5 813.7 L201.2 811.1 L202.3 809.4 L201.7 806.7 L202.6 804.9 L201.8 802 L202.4 800 L201.4 796.9 L201.8 794.8 L200.6 791.6 L201.3 789.7 L202.8 788.3 L203.8 786.6 L204.7 784.8 L205.7 783 L206.6 781.3 L207.5 779.5 L208.5 777.8 L209.4 776 L210.4 774.3 L211.4 772.5 L212.3 770.8 L213.3 769 L214.3 767.3 L215.3 765.6 L216.3 763.9 L217.3 762.1 L218.3 760.4 L219.3 758.7 L220.4 757 L221.4 755.3 L222.5 753.7Z" fill="#a0cc38"/>
<path d="M219 754.3 L220 754.8 L221.1 755.3 L222.1 755.8 L223.2 756.4 L224.2 756.9 L225.3 757.5 L226.3 758 L227.3 758.6 L228.4 759.1 L229.4 759.7 L230.4 760.3 L231.5 760.8 L232.5 761.4 L233.5 762 L234.5 762.6 L235.6 763.2 L236.6 763.7 L237.6 764.3 L238.6 764.9 L239.7 765.5 L240.7 766.1 L241.7 766.7 L242.7 767.3 L243.7 767.9 L244.7 768.6 L245.9 768.8 L246.9 769.4 L248.2 769.6 L248.3 772 L249.3 772.7 L249.6 774.9 L250.6 775.4 L251 777.4 L252.2 777.7 L252.7 779.5 L254 779.4 L254.6 780.8 L256.1 780.3 L257 781.3 L258.8 780.3 L259.9 780.6 L262 778.9 L263.5 778.3 L267 773.6 L267 773.6 L268.3 767.9 L267.8 766.3 L267.7 763.6 L266.7 763 L266.3 761 L265 761 L264.4 759.5 L262.9 759.9 L262.1 758.9 L260.5 759.7 L259.5 758.9 L257.7 760 L256.7 759.5 L254.8 760.8 L253.6 760.5 L251.7 761.9 L250.8 761.1 L249.6 760.8 L248.7 760 L247.5 759.6 L246.4 759.2 L245.3 758.9 L244.2 758.5 L243.1 758.1 L241.9 757.7 L240.8 757.3 L239.7 756.9 L238.6 756.6 L237.5 756.2 L236.4 755.8 L235.3 755.4 L234.2 754.9 L233.1 754.5 L232 754.1 L230.9 753.7 L229.8 753.3 L228.7 752.9 L227.6 752.4 L226.5 752 L225.4 751.6 L224.3 751.1 L223.2 750.7 L222.1 750.2 L221 749.7Z" fill="#a0cc38"/>
<path d="M217.3 754.2 L218.5 755.8 L219.8 757.4 L221 759 L222.2 760.6 L223.4 762.3 L224.6 763.9 L225.7 765.5 L226.9 767.2 L228.1 768.8 L229.2 770.5 L230.4 772.2 L231.5 773.8 L232.6 775.5 L233.8 777.2 L234.9 778.9 L236 780.6 L237.1 782.3 L238.2 783.9 L239.3 785.6 L240.4 787.4 L242 788.7 L243.9 789.7 L244.1 792.2 L244.8 794.2 L244.2 797.3 L245 799.2 L244.6 802.2 L245.6 804 L245.3 806.8 L246.5 808.5 L246.4 811.1 L247.9 812.5 L248 815 L249.8 816.2 L250.3 818.4 L252.3 819.3 L253.2 821.2 L255.7 821.7 L257.1 823.2 L260.1 823.4 L262 824.4 L265.8 823.9 L268.8 824 L276.2 820.6 L276.2 820.6 L281 814 L281.5 811 L282.7 807.4 L282.1 805.3 L282.6 802.3 L281.4 800.7 L281.3 798.1 L279.6 796.9 L279.2 794.7 L277.1 793.8 L276.3 791.8 L273.9 791.2 L272.8 789.5 L270.2 789 L268.8 787.5 L266 787.3 L264.4 785.9 L261.4 785.8 L259.7 784.6 L256.5 784.6 L254.7 783.5 L252.3 782.8 L251.6 780.8 L250.7 779 L249.2 777.6 L247.8 776.1 L246.3 774.7 L244.9 773.3 L243.4 771.9 L242 770.4 L240.6 769 L239.2 767.6 L237.7 766.1 L236.3 764.7 L234.9 763.2 L233.5 761.7 L232.1 760.3 L230.8 758.8 L229.4 757.3 L228 755.8 L226.7 754.3 L225.3 752.8 L224 751.3 L222.7 749.8Z" fill="#a0cc38"/>
<ellipse cx="95" cy="781" rx="9" ry="17" transform="rotate(0 95 781)" fill="#a0cc38"/>
<ellipse cx="220" cy="752" rx="6" ry="6" transform="rotate(0 220 752)" fill="#a8b040"/>
<circle cx="222" cy="754" r="2" fill="#8a4a30"/>
<ellipse cx="470" cy="770" rx="55" ry="80" transform="rotate(0 470 770)" fill="url(#halo)"/>
<path d="M493 817 L493.2 820.5 L493.5 825.4 L493.9 831.2 L494.3 837.5 L494.6 843.9 L495 850 L495.4 856.4 L495.7 863.4 L496.1 870.6 L496.5 877.3 L496.8 882.9 L497 887" fill="none" stroke="#c0bdb0" stroke-width="1.5" stroke-opacity="0.6" stroke-linecap="round"/>
<path d="M512 774 L512.8 779.1 L514 786.1 L515.4 794.5 L516.9 803.4 L518.5 812.1 L520 820 L521.5 827.2 L523.1 834.3 L524.8 841.2 L526.4 847.9 L528.2 854.2 L530 860 L532 865.6 L534.3 871 L536.6 876 L538.8 880.5 L540.7 884.2 L542 887" fill="none" stroke="#c0bdb0" stroke-width="1.5" stroke-opacity="0.6" stroke-linecap="round"/>
<path d="M501 802 L499.3 806.7 L496.9 813.2 L494 820.9 L490.9 829.1 L487.9 837.4 L485 845 L482.1 852.5 L479.1 860.6 L476 868.7 L473.1 876.1 L470.7 882.4 L469 887" fill="none" stroke="#c0bdb0" stroke-width="1.5" stroke-opacity="0.6" stroke-linecap="round"/>
<path d="M479.5 762.8 L479.4 761.8 L479.3 760.8 L479.2 759.7 L479.1 758.7 L479 757.6 L479 756.6 L478.9 755.6 L478.8 754.5 L478.8 753.5 L478.7 752.5 L478.6 751.4 L478.6 750.4 L478.5 749.3 L478.5 748.3 L478.4 747.3 L478.4 746.2 L478.3 745.2 L478.3 744.1 L478.3 743.1 L478.2 742 L478.2 741 L478.1 740 L478 738.9 L477.3 738 L478.3 736.8 L478.7 735.7 L479.5 734.6 L479.8 733.5 L480.5 732.4 L480.7 731.3 L481.3 730.2 L481.3 729.1 L481.8 728 L481.6 727 L481.9 725.9 L481.5 724.9 L481.5 723.9 L480.9 722.9 L480.6 721.9 L479.7 720.9 L479 720 L477.6 719.1 L476.3 718.2 L472.7 717.6 L472.7 717.6 L469.3 719 L468.2 720.2 L467 721.4 L466.6 722.5 L465.9 723.6 L465.9 724.7 L465.5 725.7 L465.8 726.8 L465.6 727.8 L466.1 728.8 L466.2 729.8 L466.9 730.8 L467.2 731.8 L468 732.8 L468.4 733.8 L469.4 734.7 L469.9 735.7 L471 736.6 L471.6 737.6 L472.8 738.5 L472.5 739.6 L472.5 740.6 L472.7 741.6 L472.9 742.7 L473.1 743.7 L473.3 744.7 L473.5 745.7 L473.7 746.8 L473.9 747.8 L474.1 748.8 L474.3 749.8 L474.5 750.9 L474.7 751.9 L474.9 752.9 L475.1 753.9 L475.2 755 L475.4 756 L475.6 757 L475.8 758 L475.9 759.1 L476.1 760.1 L476.2 761.1 L476.4 762.1 L476.5 763.2Z" fill="#a7aa96"/>
<path d="M479.1 764 L479.9 763.1 L480.7 762.3 L481.5 761.4 L482.3 760.6 L483.1 759.8 L483.9 759 L484.7 758.2 L485.5 757.4 L486.3 756.6 L487.2 755.8 L488 755 L488.8 754.2 L489.7 753.5 L490.3 752.5 L491.5 752 L493.1 751.9 L495 752 L496.4 751.7 L498.2 751.7 L499.6 751.4 L501.3 751.3 L502.6 750.9 L504.2 750.8 L505.3 750.2 L506.9 750 L507.9 749.4 L509.3 749.1 L510.3 748.4 L511.5 748 L512.3 747.2 L513.4 746.6 L514 745.6 L515 744.9 L515.4 743.8 L516.1 742.9 L516.2 741.5 L516.7 740.4 L516.6 738.9 L516.8 737.5 L516.3 735.6 L516.1 733.9 L515.1 731.7 L514.1 729.3 L510.3 724.6 L510.3 724.6 L505 721.7 L502.5 721 L500 720.5 L498.3 720.5 L496.4 720.4 L495.1 720.8 L493.6 721 L492.5 721.6 L491.2 722 L490.5 722.9 L489.4 723.5 L488.9 724.5 L488 725.3 L487.7 726.5 L487 727.4 L486.8 728.7 L486.3 729.7 L486.2 731.2 L485.8 732.3 L485.8 733.9 L485.5 735.1 L485.7 736.7 L485.5 738 L485.7 739.7 L485.6 741.1 L485.9 742.9 L485.9 744.4 L486.4 746.2 L486.5 747.8 L486.2 749 L485.4 749.8 L484.8 750.8 L484.1 751.8 L483.5 752.7 L482.9 753.7 L482.2 754.6 L481.6 755.6 L480.9 756.5 L480.3 757.5 L479.6 758.4 L478.9 759.3 L478.3 760.2 L477.6 761.1 L476.9 762Z" fill="#c2d23e"/>
<path d="M478.1 761.5 L477.2 761.4 L476.2 761.2 L475.3 761 L474.4 760.8 L473.5 760.6 L472.5 760.3 L471.6 760.1 L470.7 759.8 L469.7 759.5 L468.8 759.6 L467.9 759 L467 758 L466.2 756.6 L465.3 755.8 L464.5 754.4 L463.6 753.7 L462.7 752.5 L461.8 751.8 L461 750.7 L460.1 750.1 L459.2 749 L458.3 748.5 L457.4 747.6 L456.5 747.2 L455.6 746.4 L454.7 746.1 L453.8 745.4 L452.9 745.3 L452 744.8 L451 744.9 L450.1 744.5 L449.1 744.8 L448.2 744.6 L447.2 745.1 L446.2 745.2 L445.2 745.9 L444.3 746.3 L443.2 747.3 L442.2 747.9 L441.2 749.3 L440.1 750.4 L439 752.4 L437.9 754.4 L436.6 759.7 L436.6 759.7 L437.1 765.1 L437.8 767.3 L438.6 769.4 L439.5 770.7 L440.3 772.2 L441.2 773 L442 774.2 L442.9 774.7 L443.8 775.5 L444.7 775.8 L445.6 776.4 L446.6 776.4 L447.5 776.8 L448.5 776.6 L449.4 776.8 L450.4 776.4 L451.3 776.5 L452.3 775.9 L453.3 775.8 L454.3 775.2 L455.2 774.9 L456.3 774.1 L457.2 773.8 L458.2 772.9 L459.2 772.5 L460.3 771.5 L461.2 771 L462.3 769.9 L463.3 769.3 L464.3 768.1 L465.3 767.4 L466.4 766.2 L467.4 765.3 L468.4 764.9 L469.3 765.1 L470.3 765 L471.2 764.9 L472.2 764.8 L473.1 764.7 L474.1 764.6 L475 764.5 L476 764.5 L476.9 764.5 L477.9 764.5Z" fill="#bccc3e"/>
<path d="M478 764.5 L479 764.5 L480 764.6 L481 764.7 L482 764.8 L483 764.8 L484 764.9 L485 765 L486 765.1 L487 765.2 L488 765.3 L489.1 765.4 L490.1 765.5 L491.1 765.7 L492.1 765.8 L493.1 765.9 L494.1 766 L495.1 766.2 L496.1 766.3 L497.1 766.4 L498.1 766.3 L499.2 766.3 L500.1 766.8 L501.1 768 L502.1 768.7 L503.1 769.7 L504.1 770.3 L505.1 771.2 L506.1 771.6 L507.1 772.5 L508.1 772.8 L509.1 773.5 L510.1 773.6 L511.1 774.1 L512.1 774 L513.1 774.3 L514.1 774 L515.1 774 L516.1 773.4 L517.2 773.1 L518.2 772.1 L519.2 771.4 L520.3 769.9 L521.4 768.5 L522.5 764.4 L522.5 764.4 L521.6 760.2 L520.6 758.7 L519.7 757.2 L518.7 756.4 L517.7 755.4 L516.7 755 L515.7 754.3 L514.7 754.3 L513.7 753.9 L512.7 754.2 L511.7 754 L510.7 754.5 L509.6 754.5 L508.6 755.1 L507.6 755.3 L506.6 756.1 L505.5 756.5 L504.5 757.4 L503.5 757.8 L502.4 758.9 L501.4 759.4 L500.3 760.5 L499.3 761 L498.3 760.9 L497.3 760.8 L496.3 760.9 L495.3 760.9 L494.3 761 L493.2 761 L492.2 761.1 L491.2 761.2 L490.2 761.2 L489.2 761.3 L488.2 761.3 L487.2 761.4 L486.1 761.4 L485.1 761.4 L484.1 761.5 L483.1 761.5 L482.1 761.5 L481.1 761.5 L480.1 761.5 L479.1 761.5 L478 761.5Z" fill="#b3b095"/>
<path d="M476.5 763.1 L476.6 764.5 L476.6 765.8 L476.7 767.2 L476.7 768.5 L476.7 769.9 L476.7 771.3 L476.7 772.6 L476.7 774 L476.7 775.3 L476.7 776.7 L476.7 778 L476.7 779.4 L476.6 780.8 L476.7 782.1 L476.9 783.5 L475.8 784.9 L474.4 786.4 L473.5 787.8 L472.2 789.3 L471.4 790.7 L470.2 792.1 L469.6 793.5 L468.5 795 L468 796.4 L467.1 797.8 L466.7 799.2 L465.9 800.6 L465.7 802 L465.1 803.4 L465.1 804.8 L464.7 806.1 L465 807.5 L464.8 808.9 L465.3 810.2 L465.4 811.5 L466.2 812.8 L466.7 814.1 L467.9 815.4 L468.7 816.7 L470.4 817.9 L471.8 819.2 L474.1 820.4 L476.5 821.5 L482.6 822.4 L482.6 822.4 L488.4 820.6 L490.7 819.1 L492.8 817.6 L494 816.1 L495.4 814.7 L496 813.3 L497 811.8 L497.2 810.4 L497.8 809 L497.8 807.7 L498.1 806.3 L497.7 805 L497.7 803.6 L497.1 802.3 L496.9 801 L496.1 799.7 L495.7 798.3 L494.7 797 L494.1 795.7 L493 794.5 L492.3 793.2 L491 791.9 L490.1 790.6 L488.7 789.4 L487.8 788.1 L486.3 786.8 L485.2 785.5 L483.5 784.3 L482.2 783.1 L482.2 781.7 L482.1 780.4 L481.8 779 L481.6 777.7 L481.4 776.3 L481.1 775 L480.9 773.6 L480.7 772.3 L480.5 771 L480.3 769.6 L480.1 768.3 L479.9 766.9 L479.8 765.6 L479.6 764.2 L479.5 762.9Z" fill="#a9a985"/>
<ellipse cx="462" cy="765" rx="8" ry="12" transform="rotate(0 462 765)" fill="#a8a880" opacity="0.7"/>
<ellipse cx="498" cy="746" rx="12" ry="7" transform="rotate(-30 498 746)" fill="#a0a060" opacity="0.6"/>
<ellipse cx="478" cy="763" rx="8" ry="8" transform="rotate(0 478 763)" fill="#8a8040"/>
<ellipse cx="363" cy="807" rx="6" ry="7" transform="rotate(0 363 807)" fill="#a8c040"/>
<ellipse cx="363" cy="851" rx="8" ry="22" transform="rotate(0 363 851)" fill="#9a9050"/>
</g>
<rect x="494.9" y="858.7" width="104.3" height="7.4" fill="#ffffff"/>
<text x="11.5" y="40.8" font-size="57" font-weight="bold" textLength="27.5" lengthAdjust="spacingAndGlyphs">a</text>
<text x="221.6" y="88.2" font-size="37" text-anchor="middle" textLength="85" lengthAdjust="spacingAndGlyphs">Col-0</text>
<text x="477.5" y="88.2" font-size="37" text-anchor="middle" font-style="italic" textLength="102" lengthAdjust="spacingAndGlyphs">rbohD</text>
<text transform="translate(74.3 222.5) rotate(-90)" font-size="39" text-anchor="middle" textLength="88" lengthAdjust="spacingAndGlyphs">mock</text>
<text transform="translate(75 487.6) rotate(-90)" font-size="39" text-anchor="middle" textLength="134" lengthAdjust="spacingAndGlyphs">L148 HK</text>
<text transform="translate(75 758.9) rotate(-90)" font-size="39" text-anchor="middle" textLength="79" lengthAdjust="spacingAndGlyphs">L148</text>
<rect x="710.2" y="97.4" width="497.2" height="791.8" fill="#141826"/>
<rect x="892.7" y="97.4" width="165.4" height="394.6" fill="#171d2e"/>
<path d="M768.7 106 L773.4 103.2 L778.2 102.1 L782.9 102.4 L787.6 103.6 L792.4 105.4 L797.1 107.6 L801.9 110.4 L806.7 114 L811.5 118.4 L816.3 123.1 L821 128 L825.6 132.9 L830.1 137.5 L834.5 142 L838.8 146.7 L843.1 151.9 L847.1 157.7 L850.9 164.5 L854.6 172.6 L858.3 181.9 L861.8 192 L865 202.2 L867.7 212.2 L869.9 221.4 L871.4 230.1 L872.3 238.6 L872.8 246.9 L873 254.8 L873 262.2 L873 268.9 L872.6 274.8 L871.8 280.1 L870.7 284.9 L869.8 289.2 L869.4 293.3 L869.9 297.3 L871.6 300.9 L874.4 304.1 L877.6 307 L880.8 309.8 L883.5 312.9 L885 316.3 L885.3 320 L884.8 323.8 L883.7 327.8 L882.3 332 L880.8 336.6 L879.4 341.6 L878 347.2 L876.5 353.3 L874.9 359.8 L873.2 366.5 L871.5 373.1 L869.9 379.6 L868.3 386.2 L866.7 393.1 L865.1 400 L863.5 406.6 L861.9 412.5 L860.4 417.5 L859 421.3 L857.6 424 L856.2 426.1 L854.9 427.9 L853.5 429.8 L852 432 L850.4 434.6 L848.7 437.3 L847 440 L845.3 442.7 L843.6 445.4 L842 448 L840.4 450.6 L838.9 453.1 L837.4 455.6 L835.9 458.1 L834.4 460.6 L833 463 L831.6 465.4 L830.1 467.9 L828.8 470.2 L827.4 472.6 L826.1 474.9 L825 477 L824 479.1 L823.2 481.2 L822.5 483.2 L821.8 485 L821 486.6 L820 488 L818.9 489.1 L817.9 489.9 L816.7 490.4 L815.4 490.9 L813.8 491.2 L812 491.5 L809.7 491.7 L807 491.9 L804.1 491.9 L801.1 491.9 L798.4 491.7 L796 491.5 L794 491.2 L792.3 490.8 L790.8 490.4 L789.4 489.8 L788.1 489 L787 488 L786.1 486.8 L785.4 485.3 L784.8 483.7 L784.3 481.9 L783.7 480 L783 478 L782.1 475.9 L781.2 473.6 L780.2 471.2 L779.2 468.7 L778.1 466.3 L777 464 L775.8 461.8 L774.5 459.6 L773.2 457.4 L771.8 455.3 L770.4 453.2 L769 451 L767.5 448.8 L766 446.7 L764.5 444.5 L763 442.3 L761.5 440.2 L760 438 L758.6 435.8 L757.2 433.7 L755.8 431.6 L754.4 429.4 L753.2 427.2 L752 425 L750.9 423.1 L749.9 421.7 L748.9 420.2 L748.1 418.3 L747.2 415.5 L746.5 411.2 L745.9 405.2 L745.5 397.9 L745.2 389.6 L744.8 380.9 L744.3 372.1 L743.4 363.8 L742.2 355.9 L740.6 348 L738.9 340.1 L737.1 332.1 L735.4 324.2 L733.9 316.3 L732.6 308.3 L731.4 300.3 L730.4 292.2 L729.4 284.2 L728.4 276.4 L727.6 268.9 L726.8 261.6 L726 254.6 L725.3 247.8 L724.8 241 L724.4 234.4 L724.4 227.8 L724.7 221.3 L725.1 214.9 L725.9 208.6 L726.8 202.4 L727.9 196.1 L729.1 189.8 L730.4 183.6 L731.7 177.4 L733.2 171.3 L735 165 L737.3 158.6 L740.2 151.8 L743.9 144.1 L748.4 135.4 L753.4 126.4 L758.6 118 L763.8 111Z" fill="url(#lfB)"/>
<ellipse cx="803" cy="420" rx="34" ry="70" transform="rotate(0 803 420)" fill="url(#tealglow)"/>
<line x1="800" y1="250" x2="802" y2="490" stroke="#74c4b0" stroke-width="5" stroke-opacity="0.5"/>
<rect x="792" y="446" width="9" height="21" fill="#b0504a" opacity="0.6"/>
<path d="M983.8 121.8 L990.6 121.5 L997 122.5 L1003.2 124.6 L1008.9 127.8 L1014 131.6 L1018.6 136 L1022.4 141.1 L1025.4 147 L1028 153.7 L1030.2 161 L1032.3 168.8 L1034.4 177.1 L1036.6 186.2 L1038.7 196.2 L1040.7 206.7 L1042.6 217.4 L1044.2 227.7 L1045.5 237.2 L1046.6 245.7 L1047.5 253.4 L1048.2 260.7 L1048.7 268.2 L1048.8 276 L1048.6 284.7 L1048 294.5 L1047 305.2 L1045.6 316.4 L1044.1 327.5 L1042.4 338.2 L1040.7 348 L1038.9 356.8 L1037.1 365 L1035 372.7 L1032.9 380.2 L1030.5 387.7 L1028 395.4 L1025.2 403.6 L1022 412.3 L1018.7 420.9 L1015.4 429.2 L1012.1 436.6 L1009.1 442.9 L1006.2 447.9 L1003.4 452 L1000.6 455.3 L998 458 L995.5 460.1 L993.3 461.8 L991.5 463 L990.1 463.4 L988.9 463.4 L987.7 463 L986 462.4 L983.8 461.8 L981 461.6 L977.8 461.6 L974.3 461.4 L970.4 460.6 L966.2 458.8 L961.6 455.5 L956.2 450.4 L950 443.7 L943.4 435.9 L937 427.6 L931.3 419.2 L926.8 411.2 L923.8 403.5 L921.9 395.6 L920.7 387.7 L919.8 379.7 L918.8 371.7 L917.3 363.8 L915.3 356.1 L912.9 348.6 L910.5 341 L908.2 333.3 L906.2 325.1 L904.7 316.3 L903.6 306.7 L902.9 296.4 L902.4 285.6 L902.3 274.7 L902.5 263.7 L903.1 253 L904.1 242.2 L905.5 231.1 L907.2 220 L909.2 209.2 L911.6 199.1 L914.2 189.8 L917 181.5 L919.8 173.9 L923 167 L926.6 160.5 L931 154.5 L936.3 148.7 L942.9 142.9 L950.7 137.2 L959.3 131.8 L968 127.2 L976.3 123.7Z" fill="url(#lfB2)"/>
<line x1="976" y1="240" x2="978" y2="455" stroke="#80ccb8" stroke-width="4" stroke-opacity="0.45"/>
<rect x="974" y="438" width="7" height="19" fill="#8a3a2a" opacity="0.8"/>
<path d="M1107.1 115.5 L1112.6 114.5 L1118.6 114.3 L1124.7 114.8 L1130.8 115.9 L1136.6 117.7 L1141.9 120.2 L1146.8 123.4 L1151.5 127.5 L1155.9 132.2 L1160.1 137.4 L1163.8 142.9 L1167.2 148.7 L1170.1 154.6 L1172.6 160.6 L1174.7 167.1 L1176.6 174 L1178.3 181.5 L1179.9 189.8 L1181.3 199.1 L1182.5 209.2 L1183.4 220 L1184.3 231.1 L1185.2 242.2 L1186.2 253 L1187.4 263.9 L1188.7 275.3 L1190 286.6 L1191.2 297.5 L1192.1 307.6 L1192.6 316.3 L1192.7 323.4 L1192.5 329.2 L1192 334.1 L1191.3 338.6 L1190.4 343.1 L1189.4 348 L1188.1 353.3 L1186.5 358.5 L1184.7 363.8 L1182.8 369.1 L1181.2 374.3 L1179.9 379.6 L1179.2 384.8 L1178.9 389.9 L1178.9 395 L1178.7 400.2 L1178.1 405.6 L1176.7 411.2 L1174.3 417.5 L1171.1 424.3 L1167.5 431.4 L1163.8 438.2 L1160.4 444.3 L1157.8 449.2 L1156 452.9 L1154.7 455.7 L1153.8 457.9 L1153.1 459.5 L1152.3 460.7 L1151.4 461.8 L1150.6 462.9 L1150.1 464 L1149.6 464.8 L1148.8 464.8 L1147.4 464 L1145.1 461.8 L1141.5 458 L1136.9 452.7 L1131.6 446.4 L1126.2 439.7 L1121.1 433 L1116.6 427 L1112.8 421.7 L1109.4 416.8 L1106.2 412 L1103.2 407 L1100.4 401.5 L1097.7 395.4 L1095.2 388.2 L1092.9 380.2 L1090.8 371.7 L1088.8 363.2 L1086.9 355.2 L1085 348 L1083.2 342 L1081.4 336.9 L1079.8 332.1 L1078.2 327.4 L1076.8 322.3 L1075.5 316.3 L1074.3 309.3 L1073.2 301.7 L1072.3 293.6 L1071.5 285.3 L1071 277 L1070.8 268.9 L1071 260.9 L1071.6 252.7 L1072.5 244.6 L1073.5 236.5 L1074.5 228.8 L1075.5 221.4 L1076.7 214.4 L1078.1 207.6 L1079.6 201.1 L1080.9 194.8 L1081.7 189 L1081.8 183.5 L1080.7 178.5 L1078.7 174 L1076.2 169.9 L1073.7 165.9 L1071.7 162.1 L1070.8 158.2 L1070.8 154.3 L1071.3 150.5 L1072.3 146.8 L1073.8 143.2 L1076 139.6 L1078.7 136 L1082.2 132.2 L1086.4 128.1 L1091.2 124.1 L1096.4 120.4 L1101.8 117.4Z" fill="url(#necro)"/>
<ellipse cx="1100" cy="150" rx="28" ry="26" transform="rotate(0 1100 150)" fill="#88c646" opacity="0.9"/>
<ellipse cx="1112" cy="230" rx="14" ry="40" transform="rotate(10 1112 230)" fill="#8c9a6a" opacity="0.45"/>
<ellipse cx="1160" cy="260" rx="12" ry="40" transform="rotate(0 1160 260)" fill="#7ea060" opacity="0.4"/>
<ellipse cx="1125" cy="300" rx="20" ry="18" transform="rotate(0 1125 300)" fill="#bcbcb4" opacity="0.5"/>
<rect x="1136" y="393" width="8" height="14" fill="#d8403a" opacity="0.85"/>
<path d="M797.1 538.7 L801.9 537.8 L806.7 537.7 L811.5 538.4 L816.3 539.8 L821 541.8 L825.6 544.4 L830.1 547.7 L834.6 551.7 L839 556.4 L843.3 561.6 L847.3 567.2 L850.9 572.9 L854.2 578.9 L857.3 585.4 L860.1 592.3 L862.6 599.4 L864.8 606.6 L866.7 614 L868.2 621.5 L869.5 629.3 L870.4 637.3 L871 645.4 L871.4 653.4 L871.5 661.4 L871.3 669.5 L870.8 677.8 L870 686.1 L869 694.2 L867.9 701.9 L866.7 708.9 L865.4 715.1 L863.9 720.6 L862.2 725.7 L860.5 730.6 L858.8 735.4 L857.2 740.5 L855.7 745.8 L854.2 751 L852.7 756.3 L851.2 761.6 L849.6 766.8 L847.8 772.1 L845.9 777.2 L843.8 782.1 L841.6 787 L839.4 792.1 L837.2 797.6 L835.1 803.8 L833 811.3 L831 820.1 L829 829.3 L826.9 838.1 L824.8 845.7 L822.5 851.2 L820 854.4 L817.2 855.8 L814.4 856 L811.5 855.4 L808.9 854.7 L806.6 854.4 L804.6 854.6 L803 854.9 L801.4 855 L800 854.6 L798.6 853.5 L797.1 851.2 L795.6 847.8 L794.2 843.4 L792.8 838.2 L791.3 832.4 L789.6 826.1 L787.7 819.6 L785.4 812.4 L782.8 804.4 L780 795.9 L777.1 787.3 L774.3 779.3 L771.8 772.1 L769.5 766.1 L767.4 761 L765.3 756.3 L763.3 751.6 L761.3 746.5 L759.2 740.5 L757 733.5 L754.6 725.8 L752.3 717.7 L750 709.4 L748.1 701.1 L746.5 693 L745.3 685.1 L744.4 677.2 L743.8 669.3 L743.4 661.4 L743.3 653.5 L743.4 645.6 L743.8 637.6 L744.3 629.5 L745.2 621.3 L746.3 613.3 L747.8 605.6 L749.7 598.2 L752 591.1 L754.7 584.2 L757.8 577.6 L761.2 571.3 L764.8 565.5 L768.7 560.2 L772.9 555.3 L777.5 550.8 L782.3 546.7 L787.3 543.2 L792.3 540.5Z" fill="url(#lfB3)"/>
<line x1="808" y1="690" x2="809" y2="852" stroke="#74c4b0" stroke-width="3.5" stroke-opacity="0.45"/>
<rect x="800" y="800" width="11" height="22" fill="#b04050" opacity="0.55"/>
<path d="M942.7 525.4 L946.7 524 L950.7 523.4 L954.8 523.3 L959 524 L963.4 525.2 L968 527 L973 529.5 L978.5 532.9 L984.2 536.8 L989.8 541.2 L995 545.9 L999.6 550.7 L1003.6 555.9 L1007.3 561.6 L1010.7 567.6 L1013.7 573.7 L1016.3 579.8 L1018.6 585.5 L1020.4 590.8 L1021.6 595.8 L1022.5 600.7 L1023.3 605.7 L1024 611.1 L1024.9 617.1 L1026.1 623.7 L1027.5 630.8 L1028.8 638.3 L1030 645.9 L1030.9 653.7 L1031.2 661.4 L1030.8 669.3 L1029.9 677.6 L1028.6 685.9 L1027.2 694.1 L1025.9 701.9 L1024.9 708.9 L1024.4 715.1 L1024.2 720.6 L1024.1 725.7 L1023.8 730.6 L1023.1 735.4 L1021.7 740.5 L1019.3 745.8 L1016 751 L1012.2 756.3 L1008.5 761.6 L1005.2 766.8 L1002.8 772.1 L1001.5 777.4 L1001 782.8 L1001 788.1 L1001 793.5 L1000.7 798.7 L999.6 803.8 L997.6 809 L995 814.5 L992.1 819.9 L989.1 824.8 L986.2 829.1 L983.8 832.2 L981.9 834.1 L980.2 835.1 L978.7 835.3 L977.2 835 L975.8 834.4 L974.3 833.8 L972.8 833.4 L971.3 833 L969.7 832.3 L968.2 831.1 L966.6 829.1 L964.8 825.9 L962.9 821.2 L960.9 815.3 L958.8 808.4 L956.7 801.3 L954.4 794.3 L952.1 788 L949.6 782.5 L946.9 777.6 L944.2 772.7 L941.4 767.8 L938.8 762.4 L936.3 756.3 L933.9 749.3 L931.6 741.7 L929.4 733.6 L927.3 725.3 L925.4 717 L923.7 708.9 L922.2 700.8 L920.8 692.5 L919.5 684.2 L918.5 676.1 L917.7 668.4 L917.3 661.4 L917.4 655.4 L918 650.3 L918.9 645.6 L919.8 640.9 L920.4 635.8 L920.5 629.8 L919.9 622.7 L918.6 614.7 L917.2 606.2 L915.7 597.8 L914.6 589.7 L914.2 582.3 L914.3 575.6 L914.8 569.3 L915.6 563.3 L916.8 557.7 L918.4 552.4 L920.5 547.5 L923.2 542.8 L926.6 538.3 L930.4 534.2 L934.5 530.5 L938.6 527.6Z" fill="url(#dmg)"/>
<ellipse cx="940" cy="640" rx="14" ry="40" transform="rotate(0 940 640)" fill="#2c6a60" opacity="0.5"/>
<ellipse cx="1005" cy="660" rx="14" ry="45" transform="rotate(0 1005 660)" fill="#2e7060" opacity="0.5"/>
<line x1="974" y1="640" x2="975" y2="820" stroke="#7cc8b0" stroke-width="3" stroke-opacity="0.35"/>
<rect x="969" y="790" width="9" height="26" fill="#8a3028" opacity="0.85"/>
<path d="M1113.5 534.9 L1117.7 534.7 L1122.3 535.4 L1127.1 536.9 L1132.1 539 L1137.1 541.6 L1141.9 544.4 L1146.7 547.7 L1151.6 551.5 L1156.5 555.9 L1161.4 560.4 L1166 565.1 L1170.4 569.7 L1174.8 574.2 L1179.3 578.8 L1183.6 583.6 L1187.5 588.4 L1190.5 593.2 L1192.5 598.2 L1193 603.3 L1192.2 608.5 L1190.5 613.8 L1188.6 619.2 L1187 624.5 L1186.2 629.8 L1186.3 635.1 L1186.9 640.3 L1187.8 645.6 L1188.7 650.9 L1189.3 656.1 L1189.4 661.4 L1188.8 666.8 L1187.6 672.3 L1186.2 677.8 L1184.8 683.2 L1183.6 688.3 L1183 693 L1183.3 697.2 L1184.3 701 L1185.6 704.5 L1186.7 707.9 L1187 711.4 L1186.2 715.2 L1183.7 719.3 L1179.7 723.8 L1175 728.2 L1170.3 732.7 L1166.4 736.8 L1164.1 740.5 L1163.9 743.5 L1165.4 745.9 L1167.6 748 L1169.8 750.2 L1171 752.9 L1170.4 756.3 L1167.4 760.7 L1162.7 765.7 L1156.9 771.2 L1151 776.9 L1145.8 782.5 L1141.9 788 L1139.7 793.3 L1138.5 798.7 L1138 804 L1137.6 809.3 L1136.9 814.5 L1135.6 819.6 L1133.4 824.9 L1130.8 830.6 L1127.9 836.2 L1125 841.3 L1122.2 845.4 L1119.8 848.1 L1117.9 849.4 L1116.4 849.7 L1115 849 L1113.7 847.5 L1112.2 845 L1110.3 841.7 L1108 837.1 L1105.4 831.2 L1102.6 824.3 L1099.8 817.1 L1097 810.1 L1094.5 803.8 L1092.1 798.2 L1089.8 792.8 L1087.6 787.6 L1085.4 782.4 L1083.5 777.3 L1081.8 772.1 L1080.3 767 L1079.1 762.1 L1078.1 757.3 L1077.1 752.2 L1076.3 746.7 L1075.5 740.5 L1074.8 733.6 L1074.2 726.2 L1073.7 718.3 L1073.2 710.1 L1072.8 701.6 L1072.3 693 L1071.7 683.7 L1070.9 673.6 L1070.2 663.2 L1069.5 653.1 L1069.2 643.9 L1069.2 636.1 L1069.6 630.1 L1070.3 625.4 L1071.2 621.7 L1072.3 618.3 L1073.8 614.8 L1075.5 610.8 L1077.7 606.2 L1080.5 601.5 L1083.6 596.7 L1086.6 591.9 L1089.3 587.1 L1091.3 582.3 L1092.4 577.5 L1092.7 572.5 L1092.7 567.5 L1092.7 562.7 L1093.2 558.1 L1094.5 553.9 L1096.6 549.9 L1099.3 545.8 L1102.4 542 L1105.9 538.8 L1109.6 536.3Z" fill="url(#necro2)"/>
<ellipse cx="1113" cy="748" rx="11" ry="13" transform="rotate(0 1113 748)" fill="#c0c0c8" opacity="0.6"/>
<line x1="1128" y1="600" x2="1126" y2="760" stroke="#5aa850" stroke-width="4" stroke-opacity="0.5"/>
<rect x="1113" y="818" width="8" height="24" fill="#e04048" opacity="0.85"/>
<text x="1046" y="835" font-size="40" text-anchor="middle" font-weight="bold" fill="#2a2222">d</text>
<rect x="1082.8" y="863.2" width="102.5" height="11.4" fill="#ffffff"/>
<text x="660.5" y="41.1" font-size="52" font-weight="bold">b</text>
<text x="801.4" y="87.9" font-size="37" text-anchor="middle" textLength="88" lengthAdjust="spacingAndGlyphs">mock</text>
<text x="977.1" y="87.9" font-size="37" text-anchor="middle" textLength="77" lengthAdjust="spacingAndGlyphs">L148</text>
<text x="1127" y="87.9" font-size="37" text-anchor="middle" font-style="italic" textLength="54" lengthAdjust="spacingAndGlyphs">Pto</text>
<text transform="translate(692.1 305.2) rotate(-90)" font-size="37" text-anchor="middle" textLength="82" lengthAdjust="spacingAndGlyphs">Col-0</text>
<text transform="translate(692.8 699.4) rotate(-90)" font-size="37" text-anchor="middle" font-style="italic" textLength="101" lengthAdjust="spacingAndGlyphs">rbohD</text>
<text x="1283" y="40.2" font-size="52" font-weight="bold" textLength="25" lengthAdjust="spacingAndGlyphs">c</text>
<rect x="1358.6" y="64.6" width="522.9" height="370.2" fill="none" stroke="#1a1a1a" stroke-width="2.6"/>
<text x="1341" y="92" font-size="28" text-anchor="end">3</text>
<text x="1341" y="201" font-size="28" text-anchor="end">2</text>
<text x="1341" y="310.5" font-size="28" text-anchor="end">1</text>
<text x="1341" y="418.5" font-size="28" text-anchor="end">0</text>
<text transform="translate(1283 247) rotate(-90) scale(1.094 1)" font-size="27" text-anchor="middle">green tissue area 5 dpi (cm<tspan font-size="15" dy="-9">2</tspan><tspan dy="9">)</tspan></text>
<line x1="1424.2" y1="168.2" x2="1424.2" y2="400" stroke="#333333" stroke-width="2.2"/>
<rect x="1396.9" y="244.9" width="54.6" height="71" fill="#1f74c4" stroke="#333333" stroke-width="2.4"/>
<line x1="1396.9" y1="279" x2="1451.5" y2="279" stroke="#333333" stroke-width="4"/>
<line x1="1485.9" y1="123" x2="1485.9" y2="409" stroke="#333333" stroke-width="2.2"/>
<rect x="1458.4" y="227.7" width="55" height="100.5" fill="#8c7325" stroke="#333333" stroke-width="2.4"/>
<line x1="1458.4" y1="287.1" x2="1513.4" y2="287.1" stroke="#333333" stroke-width="4"/>
<line x1="1589.1" y1="208" x2="1589.1" y2="333" stroke="#333333" stroke-width="2.2"/>
<rect x="1561.8" y="241.2" width="54.6" height="55.8" fill="#1f74c4" stroke="#333333" stroke-width="2.4"/>
<line x1="1561.8" y1="264.6" x2="1616.4" y2="264.6" stroke="#333333" stroke-width="4"/>
<line x1="1651.4" y1="258.4" x2="1651.4" y2="354.8" stroke="#333333" stroke-width="2.2"/>
<rect x="1624.1" y="276" width="54.6" height="53.8" fill="#8c7325" stroke="#333333" stroke-width="2.4"/>
<line x1="1624.1" y1="294.5" x2="1678.7" y2="294.5" stroke="#333333" stroke-width="4"/>
<line x1="1754.2" y1="153.8" x2="1754.2" y2="410" stroke="#333333" stroke-width="2.2"/>
<rect x="1727.1" y="268.7" width="54.2" height="101.7" fill="#1f74c4" stroke="#333333" stroke-width="2.4"/>
<line x1="1727.1" y1="328.2" x2="1781.3" y2="328.2" stroke="#333333" stroke-width="4"/>
<line x1="1816.1" y1="358" x2="1816.1" y2="409" stroke="#333333" stroke-width="2.2"/>
<rect x="1789" y="386.4" width="54.2" height="22.6" fill="#8c7325" stroke="#333333" stroke-width="2.4"/>
<line x1="1789" y1="404" x2="1843.2" y2="404" stroke="#333333" stroke-width="4"/>
<circle cx="1429.5" cy="310.3" r="5" fill="#000" stroke="#000" stroke-width="1.2" fill-opacity="0.13" stroke-opacity="0.28"/>
<circle cx="1419.5" cy="353.3" r="5" fill="#000" stroke="#000" stroke-width="1.2" fill-opacity="0.13" stroke-opacity="0.28"/>
<circle cx="1408" cy="350.7" r="5" fill="#000" stroke="#000" stroke-width="1.2" fill-opacity="0.13" stroke-opacity="0.28"/>
<circle cx="1409.8" cy="313.3" r="5" fill="#000" stroke="#000" stroke-width="1.2" fill-opacity="0.13" stroke-opacity="0.28"/>
<circle cx="1411" cy="285.4" r="5" fill="#000" stroke="#000" stroke-width="1.2" fill-opacity="0.13" stroke-opacity="0.28"/>
<circle cx="1439.9" cy="292.7" r="5" fill="#000" stroke="#000" stroke-width="1.2" fill-opacity="0.13" stroke-opacity="0.28"/>
<circle cx="1440.9" cy="265.5" r="5" fill="#000" stroke="#000" stroke-width="1.2" fill-opacity="0.13" stroke-opacity="0.28"/>
<circle cx="1416.8" cy="384.9" r="5" fill="#000" stroke="#000" stroke-width="1.2" fill-opacity="0.13" stroke-opacity="0.28"/>
<circle cx="1417.5" cy="321.1" r="5" fill="#000" stroke="#000" stroke-width="1.2" fill-opacity="0.13" stroke-opacity="0.28"/>
<circle cx="1427.1" cy="272.8" r="5" fill="#000" stroke="#000" stroke-width="1.2" fill-opacity="0.13" stroke-opacity="0.28"/>
<circle cx="1425.9" cy="266.3" r="5" fill="#000" stroke="#000" stroke-width="1.2" fill-opacity="0.13" stroke-opacity="0.28"/>
<circle cx="1413.9" cy="318.1" r="5" fill="#000" stroke="#000" stroke-width="1.2" fill-opacity="0.13" stroke-opacity="0.28"/>
<circle cx="1417.7" cy="264.4" r="5" fill="#000" stroke="#000" stroke-width="1.2" fill-opacity="0.13" stroke-opacity="0.28"/>
<circle cx="1417.2" cy="263.5" r="5" fill="#000" stroke="#000" stroke-width="1.2" fill-opacity="0.13" stroke-opacity="0.28"/>
<circle cx="1415.2" cy="255.2" r="5" fill="#000" stroke="#000" stroke-width="1.2" fill-opacity="0.13" stroke-opacity="0.28"/>
<circle cx="1437.4" cy="261.1" r="5" fill="#000" stroke="#000" stroke-width="1.2" fill-opacity="0.13" stroke-opacity="0.28"/>
<circle cx="1441.1" cy="269.2" r="5" fill="#000" stroke="#000" stroke-width="1.2" fill-opacity="0.13" stroke-opacity="0.28"/>
<circle cx="1433.2" cy="343" r="5" fill="#000" stroke="#000" stroke-width="1.2" fill-opacity="0.13" stroke-opacity="0.28"/>
<circle cx="1408" cy="349.1" r="5" fill="#000" stroke="#000" stroke-width="1.2" fill-opacity="0.13" stroke-opacity="0.28"/>
<circle cx="1426.8" cy="252.9" r="5" fill="#000" stroke="#000" stroke-width="1.2" fill-opacity="0.13" stroke-opacity="0.28"/>
<circle cx="1431.1" cy="232.9" r="5" fill="#000" stroke="#000" stroke-width="1.2" fill-opacity="0.13" stroke-opacity="0.28"/>
<circle cx="1422.7" cy="259.2" r="5" fill="#000" stroke="#000" stroke-width="1.2" fill-opacity="0.13" stroke-opacity="0.28"/>
<circle cx="1423.3" cy="174.9" r="5" fill="#000" stroke="#000" stroke-width="1.2" fill-opacity="0.13" stroke-opacity="0.28"/>
<circle cx="1431.3" cy="276.9" r="5" fill="#000" stroke="#000" stroke-width="1.2" fill-opacity="0.13" stroke-opacity="0.28"/>
<circle cx="1435.5" cy="245.1" r="5" fill="#000" stroke="#000" stroke-width="1.2" fill-opacity="0.13" stroke-opacity="0.28"/>
<circle cx="1430.1" cy="301.7" r="5" fill="#000" stroke="#000" stroke-width="1.2" fill-opacity="0.13" stroke-opacity="0.28"/>
<circle cx="1412.6" cy="346.7" r="5" fill="#000" stroke="#000" stroke-width="1.2" fill-opacity="0.13" stroke-opacity="0.28"/>
<circle cx="1433.6" cy="318" r="5" fill="#000" stroke="#000" stroke-width="1.2" fill-opacity="0.13" stroke-opacity="0.28"/>
<circle cx="1420.4" cy="329.6" r="5" fill="#000" stroke="#000" stroke-width="1.2" fill-opacity="0.13" stroke-opacity="0.28"/>
<circle cx="1422.4" cy="243.5" r="5" fill="#000" stroke="#000" stroke-width="1.2" fill-opacity="0.13" stroke-opacity="0.28"/>
<circle cx="1435.4" cy="248.9" r="5" fill="#000" stroke="#000" stroke-width="1.2" fill-opacity="0.13" stroke-opacity="0.28"/>
<circle cx="1421.2" cy="235" r="5" fill="#000" stroke="#000" stroke-width="1.2" fill-opacity="0.13" stroke-opacity="0.28"/>
<circle cx="1440.3" cy="283.3" r="5" fill="#000" stroke="#000" stroke-width="1.2" fill-opacity="0.13" stroke-opacity="0.28"/>
<circle cx="1414.8" cy="324.7" r="5" fill="#000" stroke="#000" stroke-width="1.2" fill-opacity="0.13" stroke-opacity="0.28"/>
<circle cx="1427.3" cy="298" r="5" fill="#000" stroke="#000" stroke-width="1.2" fill-opacity="0.13" stroke-opacity="0.28"/>
<circle cx="1421.4" cy="315.7" r="5" fill="#000" stroke="#000" stroke-width="1.2" fill-opacity="0.13" stroke-opacity="0.28"/>
<circle cx="1440.1" cy="295" r="5" fill="#000" stroke="#000" stroke-width="1.2" fill-opacity="0.13" stroke-opacity="0.28"/>
<circle cx="1428.3" cy="261.4" r="5" fill="#000" stroke="#000" stroke-width="1.2" fill-opacity="0.13" stroke-opacity="0.28"/>
<circle cx="1438.2" cy="277.2" r="5" fill="#000" stroke="#000" stroke-width="1.2" fill-opacity="0.13" stroke-opacity="0.28"/>
<circle cx="1434.7" cy="249.2" r="5" fill="#000" stroke="#000" stroke-width="1.2" fill-opacity="0.13" stroke-opacity="0.28"/>
<circle cx="1410.3" cy="301.2" r="5" fill="#000" stroke="#000" stroke-width="1.2" fill-opacity="0.13" stroke-opacity="0.28"/>
<circle cx="1409" cy="276.9" r="5" fill="#000" stroke="#000" stroke-width="1.2" fill-opacity="0.13" stroke-opacity="0.28"/>
<circle cx="1418.6" cy="309.9" r="5" fill="#000" stroke="#000" stroke-width="1.2" fill-opacity="0.13" stroke-opacity="0.28"/>
<circle cx="1412" cy="315.9" r="5" fill="#000" stroke="#000" stroke-width="1.2" fill-opacity="0.13" stroke-opacity="0.28"/>
<circle cx="1407.5" cy="338.5" r="5" fill="#000" stroke="#000" stroke-width="1.2" fill-opacity="0.13" stroke-opacity="0.28"/>
<circle cx="1411.9" cy="209.7" r="5" fill="#000" stroke="#000" stroke-width="1.2" fill-opacity="0.13" stroke-opacity="0.28"/>
<circle cx="1419.4" cy="303.1" r="5" fill="#000" stroke="#000" stroke-width="1.2" fill-opacity="0.13" stroke-opacity="0.28"/>
<circle cx="1441.5" cy="383.9" r="5" fill="#000" stroke="#000" stroke-width="1.2" fill-opacity="0.13" stroke-opacity="0.28"/>
<circle cx="1409.7" cy="298" r="5" fill="#000" stroke="#000" stroke-width="1.2" fill-opacity="0.13" stroke-opacity="0.28"/>
<circle cx="1415.9" cy="336.8" r="5" fill="#000" stroke="#000" stroke-width="1.2" fill-opacity="0.13" stroke-opacity="0.28"/>
<circle cx="1407.5" cy="273.5" r="5" fill="#000" stroke="#000" stroke-width="1.2" fill-opacity="0.13" stroke-opacity="0.28"/>
<circle cx="1411.8" cy="217.3" r="5" fill="#000" stroke="#000" stroke-width="1.2" fill-opacity="0.13" stroke-opacity="0.28"/>
<circle cx="1425.2" cy="278.1" r="5" fill="#000" stroke="#000" stroke-width="1.2" fill-opacity="0.13" stroke-opacity="0.28"/>
<circle cx="1431.1" cy="184.3" r="5" fill="#000" stroke="#000" stroke-width="1.2" fill-opacity="0.13" stroke-opacity="0.28"/>
<circle cx="1412.5" cy="302.4" r="5" fill="#000" stroke="#000" stroke-width="1.2" fill-opacity="0.13" stroke-opacity="0.28"/>
<circle cx="1434" cy="260.8" r="5" fill="#000" stroke="#000" stroke-width="1.2" fill-opacity="0.13" stroke-opacity="0.28"/>
<circle cx="1435.1" cy="307.7" r="5" fill="#000" stroke="#000" stroke-width="1.2" fill-opacity="0.13" stroke-opacity="0.28"/>
<circle cx="1434.9" cy="185.5" r="5" fill="#000" stroke="#000" stroke-width="1.2" fill-opacity="0.13" stroke-opacity="0.28"/>
<circle cx="1414.6" cy="253.8" r="5" fill="#000" stroke="#000" stroke-width="1.2" fill-opacity="0.13" stroke-opacity="0.28"/>
<circle cx="1407.7" cy="266.9" r="5" fill="#000" stroke="#000" stroke-width="1.2" fill-opacity="0.13" stroke-opacity="0.28"/>
<circle cx="1415.7" cy="331.9" r="5" fill="#000" stroke="#000" stroke-width="1.2" fill-opacity="0.13" stroke-opacity="0.28"/>
<circle cx="1422.3" cy="246.4" r="5" fill="#000" stroke="#000" stroke-width="1.2" fill-opacity="0.13" stroke-opacity="0.28"/>
<circle cx="1440.2" cy="169.7" r="5" fill="#000" stroke="#000" stroke-width="1.2" fill-opacity="0.13" stroke-opacity="0.28"/>
<circle cx="1414.6" cy="307.8" r="5" fill="#000" stroke="#000" stroke-width="1.2" fill-opacity="0.13" stroke-opacity="0.28"/>
<circle cx="1428.6" cy="308.4" r="5" fill="#000" stroke="#000" stroke-width="1.2" fill-opacity="0.13" stroke-opacity="0.28"/>
<circle cx="1423.5" cy="186.8" r="5" fill="#000" stroke="#000" stroke-width="1.2" fill-opacity="0.13" stroke-opacity="0.28"/>
<circle cx="1409.6" cy="251.7" r="5" fill="#000" stroke="#000" stroke-width="1.2" fill-opacity="0.13" stroke-opacity="0.28"/>
<circle cx="1434.1" cy="248" r="5" fill="#000" stroke="#000" stroke-width="1.2" fill-opacity="0.13" stroke-opacity="0.28"/>
<circle cx="1412.9" cy="262.7" r="5" fill="#000" stroke="#000" stroke-width="1.2" fill-opacity="0.13" stroke-opacity="0.28"/>
<circle cx="1434.8" cy="267.7" r="5" fill="#000" stroke="#000" stroke-width="1.2" fill-opacity="0.13" stroke-opacity="0.28"/>
<circle cx="1420.7" cy="227.5" r="5" fill="#000" stroke="#000" stroke-width="1.2" fill-opacity="0.13" stroke-opacity="0.28"/>
<circle cx="1412.6" cy="199.1" r="5" fill="#000" stroke="#000" stroke-width="1.2" fill-opacity="0.13" stroke-opacity="0.28"/>
<circle cx="1438.4" cy="323.1" r="5" fill="#000" stroke="#000" stroke-width="1.2" fill-opacity="0.13" stroke-opacity="0.28"/>
<circle cx="1435.7" cy="274" r="5" fill="#000" stroke="#000" stroke-width="1.2" fill-opacity="0.13" stroke-opacity="0.28"/>
<circle cx="1419" cy="205.7" r="5" fill="#000" stroke="#000" stroke-width="1.2" fill-opacity="0.13" stroke-opacity="0.28"/>
<circle cx="1407.2" cy="274.5" r="5" fill="#000" stroke="#000" stroke-width="1.2" fill-opacity="0.13" stroke-opacity="0.28"/>
<circle cx="1425.1" cy="206.4" r="5" fill="#000" stroke="#000" stroke-width="1.2" fill-opacity="0.13" stroke-opacity="0.28"/>
<circle cx="1437.2" cy="224.7" r="5" fill="#000" stroke="#000" stroke-width="1.2" fill-opacity="0.13" stroke-opacity="0.28"/>
<circle cx="1415.5" cy="271.8" r="5" fill="#000" stroke="#000" stroke-width="1.2" fill-opacity="0.13" stroke-opacity="0.28"/>
<circle cx="1427.2" cy="307" r="5" fill="#000" stroke="#000" stroke-width="1.2" fill-opacity="0.13" stroke-opacity="0.28"/>
<circle cx="1411.3" cy="300.4" r="5" fill="#000" stroke="#000" stroke-width="1.2" fill-opacity="0.13" stroke-opacity="0.28"/>
<circle cx="1422.7" cy="230.4" r="5" fill="#000" stroke="#000" stroke-width="1.2" fill-opacity="0.13" stroke-opacity="0.28"/>
<circle cx="1421.4" cy="248.2" r="5" fill="#000" stroke="#000" stroke-width="1.2" fill-opacity="0.13" stroke-opacity="0.28"/>
<circle cx="1425.3" cy="219.5" r="5" fill="#000" stroke="#000" stroke-width="1.2" fill-opacity="0.13" stroke-opacity="0.28"/>
<circle cx="1422.1" cy="278.4" r="5" fill="#000" stroke="#000" stroke-width="1.2" fill-opacity="0.13" stroke-opacity="0.28"/>
<circle cx="1434.7" cy="315.8" r="5" fill="#000" stroke="#000" stroke-width="1.2" fill-opacity="0.13" stroke-opacity="0.28"/>
<circle cx="1432.1" cy="298.4" r="5" fill="#000" stroke="#000" stroke-width="1.2" fill-opacity="0.13" stroke-opacity="0.28"/>
<circle cx="1424.8" cy="267.9" r="5" fill="#000" stroke="#000" stroke-width="1.2" fill-opacity="0.13" stroke-opacity="0.28"/>
<circle cx="1410.4" cy="252.3" r="5" fill="#000" stroke="#000" stroke-width="1.2" fill-opacity="0.13" stroke-opacity="0.28"/>
<circle cx="1416.4" cy="270.5" r="5" fill="#000" stroke="#000" stroke-width="1.2" fill-opacity="0.13" stroke-opacity="0.28"/>
<circle cx="1426.4" cy="261.7" r="5" fill="#000" stroke="#000" stroke-width="1.2" fill-opacity="0.13" stroke-opacity="0.28"/>
<circle cx="1422.2" cy="247.9" r="5" fill="#000" stroke="#000" stroke-width="1.2" fill-opacity="0.13" stroke-opacity="0.28"/>
<circle cx="1424.6" cy="261.8" r="5" fill="#000" stroke="#000" stroke-width="1.2" fill-opacity="0.13" stroke-opacity="0.28"/>
<circle cx="1425.4" cy="263.6" r="5" fill="#000" stroke="#000" stroke-width="1.2" fill-opacity="0.13" stroke-opacity="0.28"/>
<circle cx="1431.2" cy="281.2" r="5" fill="#000" stroke="#000" stroke-width="1.2" fill-opacity="0.13" stroke-opacity="0.28"/>
<circle cx="1477.4" cy="132.5" r="5" fill="#000" stroke="#000" stroke-width="1.2" fill-opacity="0.13" stroke-opacity="0.28"/>
<circle cx="1497.9" cy="231.1" r="5" fill="#000" stroke="#000" stroke-width="1.2" fill-opacity="0.13" stroke-opacity="0.28"/>
<circle cx="1483.9" cy="333.4" r="5" fill="#000" stroke="#000" stroke-width="1.2" fill-opacity="0.13" stroke-opacity="0.28"/>
<circle cx="1470.8" cy="340.9" r="5" fill="#000" stroke="#000" stroke-width="1.2" fill-opacity="0.13" stroke-opacity="0.28"/>
<circle cx="1499.9" cy="240.5" r="5" fill="#000" stroke="#000" stroke-width="1.2" fill-opacity="0.13" stroke-opacity="0.28"/>
<circle cx="1491.6" cy="380.5" r="5" fill="#000" stroke="#000" stroke-width="1.2" fill-opacity="0.13" stroke-opacity="0.28"/>
<circle cx="1502.4" cy="396.9" r="5" fill="#000" stroke="#000" stroke-width="1.2" fill-opacity="0.13" stroke-opacity="0.28"/>
<circle cx="1482.3" cy="289.1" r="5" fill="#000" stroke="#000" stroke-width="1.2" fill-opacity="0.13" stroke-opacity="0.28"/>
<circle cx="1497.6" cy="287.5" r="5" fill="#000" stroke="#000" stroke-width="1.2" fill-opacity="0.13" stroke-opacity="0.28"/>
<circle cx="1486.5" cy="355.3" r="5" fill="#000" stroke="#000" stroke-width="1.2" fill-opacity="0.13" stroke-opacity="0.28"/>
<circle cx="1479.5" cy="320.2" r="5" fill="#000" stroke="#000" stroke-width="1.2" fill-opacity="0.13" stroke-opacity="0.28"/>
<circle cx="1487.8" cy="285.9" r="5" fill="#000" stroke="#000" stroke-width="1.2" fill-opacity="0.13" stroke-opacity="0.28"/>
<circle cx="1479.9" cy="327.5" r="5" fill="#000" stroke="#000" stroke-width="1.2" fill-opacity="0.13" stroke-opacity="0.28"/>
<circle cx="1470.5" cy="256.7" r="5" fill="#000" stroke="#000" stroke-width="1.2" fill-opacity="0.13" stroke-opacity="0.28"/>
<circle cx="1502.6" cy="156.1" r="5" fill="#000" stroke="#000" stroke-width="1.2" fill-opacity="0.13" stroke-opacity="0.28"/>
<circle cx="1469.6" cy="342.6" r="5" fill="#000" stroke="#000" stroke-width="1.2" fill-opacity="0.13" stroke-opacity="0.28"/>
<circle cx="1472.8" cy="271" r="5" fill="#000" stroke="#000" stroke-width="1.2" fill-opacity="0.13" stroke-opacity="0.28"/>
<circle cx="1497.2" cy="290.7" r="5" fill="#000" stroke="#000" stroke-width="1.2" fill-opacity="0.13" stroke-opacity="0.28"/>
<circle cx="1500.7" cy="322.1" r="5" fill="#000" stroke="#000" stroke-width="1.2" fill-opacity="0.13" stroke-opacity="0.28"/>
<circle cx="1471.4" cy="245.5" r="5" fill="#000" stroke="#000" stroke-width="1.2" fill-opacity="0.13" stroke-opacity="0.28"/>
<circle cx="1483.3" cy="377.9" r="5" fill="#000" stroke="#000" stroke-width="1.2" fill-opacity="0.13" stroke-opacity="0.28"/>
<circle cx="1490.7" cy="402.6" r="5" fill="#000" stroke="#000" stroke-width="1.2" fill-opacity="0.13" stroke-opacity="0.28"/>
<circle cx="1498.5" cy="282.1" r="5" fill="#000" stroke="#000" stroke-width="1.2" fill-opacity="0.13" stroke-opacity="0.28"/>
<circle cx="1484.3" cy="394.9" r="5" fill="#000" stroke="#000" stroke-width="1.2" fill-opacity="0.13" stroke-opacity="0.28"/>
<circle cx="1501" cy="305.5" r="5" fill="#000" stroke="#000" stroke-width="1.2" fill-opacity="0.13" stroke-opacity="0.28"/>
<circle cx="1486.9" cy="322.9" r="5" fill="#000" stroke="#000" stroke-width="1.2" fill-opacity="0.13" stroke-opacity="0.28"/>
<circle cx="1473.9" cy="323.7" r="5" fill="#000" stroke="#000" stroke-width="1.2" fill-opacity="0.13" stroke-opacity="0.28"/>
<circle cx="1479.3" cy="338.3" r="5" fill="#000" stroke="#000" stroke-width="1.2" fill-opacity="0.13" stroke-opacity="0.28"/>
<circle cx="1478.5" cy="297" r="5" fill="#000" stroke="#000" stroke-width="1.2" fill-opacity="0.13" stroke-opacity="0.28"/>
<circle cx="1480.5" cy="276.5" r="5" fill="#000" stroke="#000" stroke-width="1.2" fill-opacity="0.13" stroke-opacity="0.28"/>
<circle cx="1468.8" cy="341.6" r="5" fill="#000" stroke="#000" stroke-width="1.2" fill-opacity="0.13" stroke-opacity="0.28"/>
<circle cx="1474.9" cy="254.4" r="5" fill="#000" stroke="#000" stroke-width="1.2" fill-opacity="0.13" stroke-opacity="0.28"/>
<circle cx="1472" cy="289.8" r="5" fill="#000" stroke="#000" stroke-width="1.2" fill-opacity="0.13" stroke-opacity="0.28"/>
<circle cx="1485.7" cy="261.4" r="5" fill="#000" stroke="#000" stroke-width="1.2" fill-opacity="0.13" stroke-opacity="0.28"/>
<circle cx="1486.1" cy="204.2" r="5" fill="#000" stroke="#000" stroke-width="1.2" fill-opacity="0.13" stroke-opacity="0.28"/>
<circle cx="1480.3" cy="228.7" r="5" fill="#000" stroke="#000" stroke-width="1.2" fill-opacity="0.13" stroke-opacity="0.28"/>
<circle cx="1490.7" cy="167.6" r="5" fill="#000" stroke="#000" stroke-width="1.2" fill-opacity="0.13" stroke-opacity="0.28"/>
<circle cx="1470.2" cy="313.9" r="5" fill="#000" stroke="#000" stroke-width="1.2" fill-opacity="0.13" stroke-opacity="0.28"/>
<circle cx="1494.4" cy="330.8" r="5" fill="#000" stroke="#000" stroke-width="1.2" fill-opacity="0.13" stroke-opacity="0.28"/>
<circle cx="1471.2" cy="321.5" r="5" fill="#000" stroke="#000" stroke-width="1.2" fill-opacity="0.13" stroke-opacity="0.28"/>
<circle cx="1491.9" cy="143.8" r="5" fill="#000" stroke="#000" stroke-width="1.2" fill-opacity="0.13" stroke-opacity="0.28"/>
<circle cx="1478.6" cy="318.2" r="5" fill="#000" stroke="#000" stroke-width="1.2" fill-opacity="0.13" stroke-opacity="0.28"/>
<circle cx="1484" cy="321.7" r="5" fill="#000" stroke="#000" stroke-width="1.2" fill-opacity="0.13" stroke-opacity="0.28"/>
<circle cx="1502.6" cy="288.7" r="5" fill="#000" stroke="#000" stroke-width="1.2" fill-opacity="0.13" stroke-opacity="0.28"/>
<circle cx="1502.4" cy="272.6" r="5" fill="#000" stroke="#000" stroke-width="1.2" fill-opacity="0.13" stroke-opacity="0.28"/>
<circle cx="1468.3" cy="313.5" r="5" fill="#000" stroke="#000" stroke-width="1.2" fill-opacity="0.13" stroke-opacity="0.28"/>
<circle cx="1486" cy="308.7" r="5" fill="#000" stroke="#000" stroke-width="1.2" fill-opacity="0.13" stroke-opacity="0.28"/>
<circle cx="1468.4" cy="307.5" r="5" fill="#000" stroke="#000" stroke-width="1.2" fill-opacity="0.13" stroke-opacity="0.28"/>
<circle cx="1482.3" cy="324.5" r="5" fill="#000" stroke="#000" stroke-width="1.2" fill-opacity="0.13" stroke-opacity="0.28"/>
<circle cx="1479" cy="328.8" r="5" fill="#000" stroke="#000" stroke-width="1.2" fill-opacity="0.13" stroke-opacity="0.28"/>
<circle cx="1486.9" cy="304.1" r="5" fill="#000" stroke="#000" stroke-width="1.2" fill-opacity="0.13" stroke-opacity="0.28"/>
<circle cx="1493.5" cy="248" r="5" fill="#000" stroke="#000" stroke-width="1.2" fill-opacity="0.13" stroke-opacity="0.28"/>
<circle cx="1479.8" cy="204.5" r="5" fill="#000" stroke="#000" stroke-width="1.2" fill-opacity="0.13" stroke-opacity="0.28"/>
<circle cx="1493.8" cy="222.7" r="5" fill="#000" stroke="#000" stroke-width="1.2" fill-opacity="0.13" stroke-opacity="0.28"/>
<circle cx="1497.7" cy="284.5" r="5" fill="#000" stroke="#000" stroke-width="1.2" fill-opacity="0.13" stroke-opacity="0.28"/>
<circle cx="1494.2" cy="178" r="5" fill="#000" stroke="#000" stroke-width="1.2" fill-opacity="0.13" stroke-opacity="0.28"/>
<circle cx="1486.7" cy="278.8" r="5" fill="#000" stroke="#000" stroke-width="1.2" fill-opacity="0.13" stroke-opacity="0.28"/>
<circle cx="1496.7" cy="237.5" r="5" fill="#000" stroke="#000" stroke-width="1.2" fill-opacity="0.13" stroke-opacity="0.28"/>
<circle cx="1499.8" cy="252.4" r="5" fill="#000" stroke="#000" stroke-width="1.2" fill-opacity="0.13" stroke-opacity="0.28"/>
<circle cx="1476.4" cy="245.9" r="5" fill="#000" stroke="#000" stroke-width="1.2" fill-opacity="0.13" stroke-opacity="0.28"/>
<circle cx="1481" cy="334.1" r="5" fill="#000" stroke="#000" stroke-width="1.2" fill-opacity="0.13" stroke-opacity="0.28"/>
<circle cx="1488" cy="392.2" r="5" fill="#000" stroke="#000" stroke-width="1.2" fill-opacity="0.13" stroke-opacity="0.28"/>
<circle cx="1492.3" cy="249.9" r="5" fill="#000" stroke="#000" stroke-width="1.2" fill-opacity="0.13" stroke-opacity="0.28"/>
<circle cx="1496.4" cy="328.1" r="5" fill="#000" stroke="#000" stroke-width="1.2" fill-opacity="0.13" stroke-opacity="0.28"/>
<circle cx="1487.1" cy="257.2" r="5" fill="#000" stroke="#000" stroke-width="1.2" fill-opacity="0.13" stroke-opacity="0.28"/>
<circle cx="1494.3" cy="283.2" r="5" fill="#000" stroke="#000" stroke-width="1.2" fill-opacity="0.13" stroke-opacity="0.28"/>
<circle cx="1477.6" cy="325.1" r="5" fill="#000" stroke="#000" stroke-width="1.2" fill-opacity="0.13" stroke-opacity="0.28"/>
<circle cx="1494.4" cy="274.9" r="5" fill="#000" stroke="#000" stroke-width="1.2" fill-opacity="0.13" stroke-opacity="0.28"/>
<circle cx="1481.7" cy="193.8" r="5" fill="#000" stroke="#000" stroke-width="1.2" fill-opacity="0.13" stroke-opacity="0.28"/>
<circle cx="1495.3" cy="300.1" r="5" fill="#000" stroke="#000" stroke-width="1.2" fill-opacity="0.13" stroke-opacity="0.28"/>
<circle cx="1471" cy="248.9" r="5" fill="#000" stroke="#000" stroke-width="1.2" fill-opacity="0.13" stroke-opacity="0.28"/>
<circle cx="1494.5" cy="341.8" r="5" fill="#000" stroke="#000" stroke-width="1.2" fill-opacity="0.13" stroke-opacity="0.28"/>
<circle cx="1468.7" cy="304.9" r="5" fill="#000" stroke="#000" stroke-width="1.2" fill-opacity="0.13" stroke-opacity="0.28"/>
<circle cx="1492" cy="342.8" r="5" fill="#000" stroke="#000" stroke-width="1.2" fill-opacity="0.13" stroke-opacity="0.28"/>
<circle cx="1478.5" cy="247" r="5" fill="#000" stroke="#000" stroke-width="1.2" fill-opacity="0.13" stroke-opacity="0.28"/>
<circle cx="1484.7" cy="259.5" r="5" fill="#000" stroke="#000" stroke-width="1.2" fill-opacity="0.13" stroke-opacity="0.28"/>
<circle cx="1475.3" cy="398" r="5" fill="#000" stroke="#000" stroke-width="1.2" fill-opacity="0.13" stroke-opacity="0.28"/>
<circle cx="1468.8" cy="133.5" r="5" fill="#000" stroke="#000" stroke-width="1.2" fill-opacity="0.13" stroke-opacity="0.28"/>
<circle cx="1502.4" cy="294.5" r="5" fill="#000" stroke="#000" stroke-width="1.2" fill-opacity="0.13" stroke-opacity="0.28"/>
<circle cx="1475.6" cy="317.2" r="5" fill="#000" stroke="#000" stroke-width="1.2" fill-opacity="0.13" stroke-opacity="0.28"/>
<circle cx="1488.8" cy="219" r="5" fill="#000" stroke="#000" stroke-width="1.2" fill-opacity="0.13" stroke-opacity="0.28"/>
<circle cx="1501.9" cy="363.1" r="5" fill="#000" stroke="#000" stroke-width="1.2" fill-opacity="0.13" stroke-opacity="0.28"/>
<circle cx="1486.2" cy="390.6" r="5" fill="#000" stroke="#000" stroke-width="1.2" fill-opacity="0.13" stroke-opacity="0.28"/>
<circle cx="1476.4" cy="168.1" r="5" fill="#000" stroke="#000" stroke-width="1.2" fill-opacity="0.13" stroke-opacity="0.28"/>
<circle cx="1469.1" cy="194.7" r="5" fill="#000" stroke="#000" stroke-width="1.2" fill-opacity="0.13" stroke-opacity="0.28"/>
<circle cx="1484.2" cy="360.3" r="5" fill="#000" stroke="#000" stroke-width="1.2" fill-opacity="0.13" stroke-opacity="0.28"/>
<circle cx="1480.4" cy="322.4" r="5" fill="#000" stroke="#000" stroke-width="1.2" fill-opacity="0.13" stroke-opacity="0.28"/>
<circle cx="1468.3" cy="293.7" r="5" fill="#000" stroke="#000" stroke-width="1.2" fill-opacity="0.13" stroke-opacity="0.28"/>
<circle cx="1472.5" cy="237.3" r="5" fill="#000" stroke="#000" stroke-width="1.2" fill-opacity="0.13" stroke-opacity="0.28"/>
<circle cx="1500.1" cy="166.8" r="5" fill="#000" stroke="#000" stroke-width="1.2" fill-opacity="0.13" stroke-opacity="0.28"/>
<circle cx="1585.3" cy="284.9" r="5" fill="#000" stroke="#000" stroke-width="1.2" fill-opacity="0.13" stroke-opacity="0.28"/>
<circle cx="1584.2" cy="227" r="5" fill="#000" stroke="#000" stroke-width="1.2" fill-opacity="0.13" stroke-opacity="0.28"/>
<circle cx="1573.2" cy="288.1" r="5" fill="#000" stroke="#000" stroke-width="1.2" fill-opacity="0.13" stroke-opacity="0.28"/>
<circle cx="1581.6" cy="325.5" r="5" fill="#000" stroke="#000" stroke-width="1.2" fill-opacity="0.13" stroke-opacity="0.28"/>
<circle cx="1580.9" cy="237.6" r="5" fill="#000" stroke="#000" stroke-width="1.2" fill-opacity="0.13" stroke-opacity="0.28"/>
<circle cx="1584.7" cy="260.2" r="5" fill="#000" stroke="#000" stroke-width="1.2" fill-opacity="0.13" stroke-opacity="0.28"/>
<circle cx="1600" cy="213.9" r="5" fill="#000" stroke="#000" stroke-width="1.2" fill-opacity="0.13" stroke-opacity="0.28"/>
<circle cx="1604.6" cy="243.2" r="5" fill="#000" stroke="#000" stroke-width="1.2" fill-opacity="0.13" stroke-opacity="0.28"/>
<circle cx="1573.3" cy="247.8" r="5" fill="#000" stroke="#000" stroke-width="1.2" fill-opacity="0.13" stroke-opacity="0.28"/>
<circle cx="1598" cy="254" r="5" fill="#000" stroke="#000" stroke-width="1.2" fill-opacity="0.13" stroke-opacity="0.28"/>
<circle cx="1573.3" cy="257.9" r="5" fill="#000" stroke="#000" stroke-width="1.2" fill-opacity="0.13" stroke-opacity="0.28"/>
<circle cx="1588.1" cy="240" r="5" fill="#000" stroke="#000" stroke-width="1.2" fill-opacity="0.13" stroke-opacity="0.28"/>
<circle cx="1597.5" cy="287.4" r="5" fill="#000" stroke="#000" stroke-width="1.2" fill-opacity="0.13" stroke-opacity="0.28"/>
<circle cx="1594.6" cy="237.3" r="5" fill="#000" stroke="#000" stroke-width="1.2" fill-opacity="0.13" stroke-opacity="0.28"/>
<circle cx="1585.4" cy="278.9" r="5" fill="#000" stroke="#000" stroke-width="1.2" fill-opacity="0.13" stroke-opacity="0.28"/>
<circle cx="1578.8" cy="300.4" r="5" fill="#000" stroke="#000" stroke-width="1.2" fill-opacity="0.13" stroke-opacity="0.28"/>
<circle cx="1579.3" cy="230.4" r="5" fill="#000" stroke="#000" stroke-width="1.2" fill-opacity="0.13" stroke-opacity="0.28"/>
<circle cx="1587.3" cy="208.2" r="5" fill="#000" stroke="#000" stroke-width="1.2" fill-opacity="0.13" stroke-opacity="0.28"/>
<circle cx="1637" cy="332.7" r="5" fill="#000" stroke="#000" stroke-width="1.2" fill-opacity="0.13" stroke-opacity="0.28"/>
<circle cx="1642.2" cy="326.6" r="5" fill="#000" stroke="#000" stroke-width="1.2" fill-opacity="0.13" stroke-opacity="0.28"/>
<circle cx="1665" cy="309.7" r="5" fill="#000" stroke="#000" stroke-width="1.2" fill-opacity="0.13" stroke-opacity="0.28"/>
<circle cx="1648.4" cy="286.9" r="5" fill="#000" stroke="#000" stroke-width="1.2" fill-opacity="0.13" stroke-opacity="0.28"/>
<circle cx="1645.7" cy="287.5" r="5" fill="#000" stroke="#000" stroke-width="1.2" fill-opacity="0.13" stroke-opacity="0.28"/>
<circle cx="1667.8" cy="334.5" r="5" fill="#000" stroke="#000" stroke-width="1.2" fill-opacity="0.13" stroke-opacity="0.28"/>
<circle cx="1655.9" cy="340" r="5" fill="#000" stroke="#000" stroke-width="1.2" fill-opacity="0.13" stroke-opacity="0.28"/>
<circle cx="1643.4" cy="274.5" r="5" fill="#000" stroke="#000" stroke-width="1.2" fill-opacity="0.13" stroke-opacity="0.28"/>
<circle cx="1649.5" cy="315.7" r="5" fill="#000" stroke="#000" stroke-width="1.2" fill-opacity="0.13" stroke-opacity="0.28"/>
<circle cx="1664.5" cy="262.5" r="5" fill="#000" stroke="#000" stroke-width="1.2" fill-opacity="0.13" stroke-opacity="0.28"/>
<circle cx="1658.8" cy="330.1" r="5" fill="#000" stroke="#000" stroke-width="1.2" fill-opacity="0.13" stroke-opacity="0.28"/>
<circle cx="1654.5" cy="270.7" r="5" fill="#000" stroke="#000" stroke-width="1.2" fill-opacity="0.13" stroke-opacity="0.28"/>
<circle cx="1666.4" cy="337.2" r="5" fill="#000" stroke="#000" stroke-width="1.2" fill-opacity="0.13" stroke-opacity="0.28"/>
<circle cx="1668" cy="278.7" r="5" fill="#000" stroke="#000" stroke-width="1.2" fill-opacity="0.13" stroke-opacity="0.28"/>
<circle cx="1639.3" cy="326" r="5" fill="#000" stroke="#000" stroke-width="1.2" fill-opacity="0.13" stroke-opacity="0.28"/>
<circle cx="1666.9" cy="281.9" r="5" fill="#000" stroke="#000" stroke-width="1.2" fill-opacity="0.13" stroke-opacity="0.28"/>
<circle cx="1660.7" cy="282.5" r="5" fill="#000" stroke="#000" stroke-width="1.2" fill-opacity="0.13" stroke-opacity="0.28"/>
<circle cx="1635.2" cy="310.3" r="5" fill="#000" stroke="#000" stroke-width="1.2" fill-opacity="0.13" stroke-opacity="0.28"/>
<circle cx="1768.8" cy="314.4" r="5" fill="#000" stroke="#000" stroke-width="1.2" fill-opacity="0.13" stroke-opacity="0.28"/>
<circle cx="1741.2" cy="310.1" r="5" fill="#000" stroke="#000" stroke-width="1.2" fill-opacity="0.13" stroke-opacity="0.28"/>
<circle cx="1761.1" cy="343.5" r="5" fill="#000" stroke="#000" stroke-width="1.2" fill-opacity="0.13" stroke-opacity="0.28"/>
<circle cx="1755.1" cy="371.7" r="5" fill="#000" stroke="#000" stroke-width="1.2" fill-opacity="0.13" stroke-opacity="0.28"/>
<circle cx="1744.6" cy="305.1" r="5" fill="#000" stroke="#000" stroke-width="1.2" fill-opacity="0.13" stroke-opacity="0.28"/>
<circle cx="1747.3" cy="327.6" r="5" fill="#000" stroke="#000" stroke-width="1.2" fill-opacity="0.13" stroke-opacity="0.28"/>
<circle cx="1759.2" cy="329.9" r="5" fill="#000" stroke="#000" stroke-width="1.2" fill-opacity="0.13" stroke-opacity="0.28"/>
<circle cx="1745" cy="233.7" r="5" fill="#000" stroke="#000" stroke-width="1.2" fill-opacity="0.13" stroke-opacity="0.28"/>
<circle cx="1761.3" cy="329.9" r="5" fill="#000" stroke="#000" stroke-width="1.2" fill-opacity="0.13" stroke-opacity="0.28"/>
<circle cx="1754.1" cy="369.5" r="5" fill="#000" stroke="#000" stroke-width="1.2" fill-opacity="0.13" stroke-opacity="0.28"/>
<circle cx="1745.7" cy="303.2" r="5" fill="#000" stroke="#000" stroke-width="1.2" fill-opacity="0.13" stroke-opacity="0.28"/>
<circle cx="1744.7" cy="273.2" r="5" fill="#000" stroke="#000" stroke-width="1.2" fill-opacity="0.13" stroke-opacity="0.28"/>
<circle cx="1751.4" cy="380.1" r="5" fill="#000" stroke="#000" stroke-width="1.2" fill-opacity="0.13" stroke-opacity="0.28"/>
<circle cx="1764.6" cy="316.4" r="5" fill="#000" stroke="#000" stroke-width="1.2" fill-opacity="0.13" stroke-opacity="0.28"/>
<circle cx="1743.9" cy="298.2" r="5" fill="#000" stroke="#000" stroke-width="1.2" fill-opacity="0.13" stroke-opacity="0.28"/>
<circle cx="1765.4" cy="250.9" r="5" fill="#000" stroke="#000" stroke-width="1.2" fill-opacity="0.13" stroke-opacity="0.28"/>
<circle cx="1763.3" cy="361.1" r="5" fill="#000" stroke="#000" stroke-width="1.2" fill-opacity="0.13" stroke-opacity="0.28"/>
<circle cx="1754.1" cy="330.2" r="5" fill="#000" stroke="#000" stroke-width="1.2" fill-opacity="0.13" stroke-opacity="0.28"/>
<circle cx="1751.3" cy="361" r="5" fill="#000" stroke="#000" stroke-width="1.2" fill-opacity="0.13" stroke-opacity="0.28"/>
<circle cx="1741.9" cy="271.7" r="5" fill="#000" stroke="#000" stroke-width="1.2" fill-opacity="0.13" stroke-opacity="0.28"/>
<circle cx="1770.7" cy="361.4" r="5" fill="#000" stroke="#000" stroke-width="1.2" fill-opacity="0.13" stroke-opacity="0.28"/>
<circle cx="1738.9" cy="371.2" r="5" fill="#000" stroke="#000" stroke-width="1.2" fill-opacity="0.13" stroke-opacity="0.28"/>
<circle cx="1767.6" cy="332.5" r="5" fill="#000" stroke="#000" stroke-width="1.2" fill-opacity="0.13" stroke-opacity="0.28"/>
<circle cx="1769.2" cy="268.8" r="5" fill="#000" stroke="#000" stroke-width="1.2" fill-opacity="0.13" stroke-opacity="0.28"/>
<circle cx="1769.4" cy="362.6" r="5" fill="#000" stroke="#000" stroke-width="1.2" fill-opacity="0.13" stroke-opacity="0.28"/>
<circle cx="1759.9" cy="326.3" r="5" fill="#000" stroke="#000" stroke-width="1.2" fill-opacity="0.13" stroke-opacity="0.28"/>
<circle cx="1748.3" cy="354.6" r="5" fill="#000" stroke="#000" stroke-width="1.2" fill-opacity="0.13" stroke-opacity="0.28"/>
<circle cx="1746.5" cy="370.4" r="5" fill="#000" stroke="#000" stroke-width="1.2" fill-opacity="0.13" stroke-opacity="0.28"/>
<circle cx="1741.1" cy="330.1" r="5" fill="#000" stroke="#000" stroke-width="1.2" fill-opacity="0.13" stroke-opacity="0.28"/>
<circle cx="1749.2" cy="259.4" r="5" fill="#000" stroke="#000" stroke-width="1.2" fill-opacity="0.13" stroke-opacity="0.28"/>
<circle cx="1751.8" cy="279.3" r="5" fill="#000" stroke="#000" stroke-width="1.2" fill-opacity="0.13" stroke-opacity="0.28"/>
<circle cx="1749.8" cy="385.4" r="5" fill="#000" stroke="#000" stroke-width="1.2" fill-opacity="0.13" stroke-opacity="0.28"/>
<circle cx="1749.5" cy="260.4" r="5" fill="#000" stroke="#000" stroke-width="1.2" fill-opacity="0.13" stroke-opacity="0.28"/>
<circle cx="1751.1" cy="268.3" r="5" fill="#000" stroke="#000" stroke-width="1.2" fill-opacity="0.13" stroke-opacity="0.28"/>
<circle cx="1738.2" cy="282.6" r="5" fill="#000" stroke="#000" stroke-width="1.2" fill-opacity="0.13" stroke-opacity="0.28"/>
<circle cx="1768.8" cy="371.5" r="5" fill="#000" stroke="#000" stroke-width="1.2" fill-opacity="0.13" stroke-opacity="0.28"/>
<circle cx="1768.1" cy="338.9" r="5" fill="#000" stroke="#000" stroke-width="1.2" fill-opacity="0.13" stroke-opacity="0.28"/>
<circle cx="1770.1" cy="358.9" r="5" fill="#000" stroke="#000" stroke-width="1.2" fill-opacity="0.13" stroke-opacity="0.28"/>
<circle cx="1761.7" cy="312.6" r="5" fill="#000" stroke="#000" stroke-width="1.2" fill-opacity="0.13" stroke-opacity="0.28"/>
<circle cx="1736.9" cy="358.8" r="5" fill="#000" stroke="#000" stroke-width="1.2" fill-opacity="0.13" stroke-opacity="0.28"/>
<circle cx="1758.9" cy="273.7" r="5" fill="#000" stroke="#000" stroke-width="1.2" fill-opacity="0.13" stroke-opacity="0.28"/>
<circle cx="1744.9" cy="268.4" r="5" fill="#000" stroke="#000" stroke-width="1.2" fill-opacity="0.13" stroke-opacity="0.28"/>
<circle cx="1770" cy="330" r="5" fill="#000" stroke="#000" stroke-width="1.2" fill-opacity="0.13" stroke-opacity="0.28"/>
<circle cx="1751.8" cy="359.8" r="5" fill="#000" stroke="#000" stroke-width="1.2" fill-opacity="0.13" stroke-opacity="0.28"/>
<circle cx="1743.2" cy="331.2" r="5" fill="#000" stroke="#000" stroke-width="1.2" fill-opacity="0.13" stroke-opacity="0.28"/>
<circle cx="1765.4" cy="284.3" r="5" fill="#000" stroke="#000" stroke-width="1.2" fill-opacity="0.13" stroke-opacity="0.28"/>
<circle cx="1748.2" cy="292.1" r="5" fill="#000" stroke="#000" stroke-width="1.2" fill-opacity="0.13" stroke-opacity="0.28"/>
<circle cx="1764" cy="355.1" r="5" fill="#000" stroke="#000" stroke-width="1.2" fill-opacity="0.13" stroke-opacity="0.28"/>
<circle cx="1763" cy="375.2" r="5" fill="#000" stroke="#000" stroke-width="1.2" fill-opacity="0.13" stroke-opacity="0.28"/>
<circle cx="1738" cy="367.7" r="5" fill="#000" stroke="#000" stroke-width="1.2" fill-opacity="0.13" stroke-opacity="0.28"/>
<circle cx="1770.9" cy="308.8" r="5" fill="#000" stroke="#000" stroke-width="1.2" fill-opacity="0.13" stroke-opacity="0.28"/>
<circle cx="1746" cy="156" r="5" fill="#000" stroke="#000" stroke-width="1.2" fill-opacity="0.13" stroke-opacity="0.28"/>
<circle cx="1754.1" cy="372.3" r="5" fill="#000" stroke="#000" stroke-width="1.2" fill-opacity="0.13" stroke-opacity="0.28"/>
<circle cx="1744.9" cy="301.6" r="5" fill="#000" stroke="#000" stroke-width="1.2" fill-opacity="0.13" stroke-opacity="0.28"/>
<circle cx="1760.3" cy="344.2" r="5" fill="#000" stroke="#000" stroke-width="1.2" fill-opacity="0.13" stroke-opacity="0.28"/>
<circle cx="1759.9" cy="277.8" r="5" fill="#000" stroke="#000" stroke-width="1.2" fill-opacity="0.13" stroke-opacity="0.28"/>
<circle cx="1747" cy="402" r="5" fill="#000" stroke="#000" stroke-width="1.2" fill-opacity="0.13" stroke-opacity="0.28"/>
<circle cx="1762.5" cy="306" r="5" fill="#000" stroke="#000" stroke-width="1.2" fill-opacity="0.13" stroke-opacity="0.28"/>
<circle cx="1745.3" cy="360" r="5" fill="#000" stroke="#000" stroke-width="1.2" fill-opacity="0.13" stroke-opacity="0.28"/>
<circle cx="1756.9" cy="404.1" r="5" fill="#000" stroke="#000" stroke-width="1.2" fill-opacity="0.13" stroke-opacity="0.28"/>
<circle cx="1771.4" cy="353.7" r="5" fill="#000" stroke="#000" stroke-width="1.2" fill-opacity="0.13" stroke-opacity="0.28"/>
<circle cx="1764.9" cy="314.4" r="5" fill="#000" stroke="#000" stroke-width="1.2" fill-opacity="0.13" stroke-opacity="0.28"/>
<circle cx="1740.3" cy="269.2" r="5" fill="#000" stroke="#000" stroke-width="1.2" fill-opacity="0.13" stroke-opacity="0.28"/>
<circle cx="1766.1" cy="335.8" r="5" fill="#000" stroke="#000" stroke-width="1.2" fill-opacity="0.13" stroke-opacity="0.28"/>
<circle cx="1747" cy="268" r="5" fill="#000" stroke="#000" stroke-width="1.2" fill-opacity="0.13" stroke-opacity="0.28"/>
<circle cx="1770.7" cy="375" r="5" fill="#000" stroke="#000" stroke-width="1.2" fill-opacity="0.13" stroke-opacity="0.28"/>
<circle cx="1749.7" cy="272.9" r="5" fill="#000" stroke="#000" stroke-width="1.2" fill-opacity="0.13" stroke-opacity="0.28"/>
<circle cx="1745.8" cy="236.8" r="5" fill="#000" stroke="#000" stroke-width="1.2" fill-opacity="0.13" stroke-opacity="0.28"/>
<circle cx="1740.5" cy="271.9" r="5" fill="#000" stroke="#000" stroke-width="1.2" fill-opacity="0.13" stroke-opacity="0.28"/>
<circle cx="1744.4" cy="291.3" r="5" fill="#000" stroke="#000" stroke-width="1.2" fill-opacity="0.13" stroke-opacity="0.28"/>
<circle cx="1743.9" cy="364.4" r="5" fill="#000" stroke="#000" stroke-width="1.2" fill-opacity="0.13" stroke-opacity="0.28"/>
<circle cx="1759.5" cy="345.1" r="5" fill="#000" stroke="#000" stroke-width="1.2" fill-opacity="0.13" stroke-opacity="0.28"/>
<circle cx="1748.2" cy="369.9" r="5" fill="#000" stroke="#000" stroke-width="1.2" fill-opacity="0.13" stroke-opacity="0.28"/>
<circle cx="1747.7" cy="317.2" r="5" fill="#000" stroke="#000" stroke-width="1.2" fill-opacity="0.13" stroke-opacity="0.28"/>
<circle cx="1755.9" cy="336.8" r="5" fill="#000" stroke="#000" stroke-width="1.2" fill-opacity="0.13" stroke-opacity="0.28"/>
<circle cx="1750.6" cy="372.4" r="5" fill="#000" stroke="#000" stroke-width="1.2" fill-opacity="0.13" stroke-opacity="0.28"/>
<circle cx="1740" cy="290.2" r="5" fill="#000" stroke="#000" stroke-width="1.2" fill-opacity="0.13" stroke-opacity="0.28"/>
<circle cx="1751.1" cy="395.1" r="5" fill="#000" stroke="#000" stroke-width="1.2" fill-opacity="0.13" stroke-opacity="0.28"/>
<circle cx="1770" cy="357.4" r="5" fill="#000" stroke="#000" stroke-width="1.2" fill-opacity="0.13" stroke-opacity="0.28"/>
<circle cx="1749.2" cy="346.5" r="5" fill="#000" stroke="#000" stroke-width="1.2" fill-opacity="0.13" stroke-opacity="0.28"/>
<circle cx="1771.5" cy="333.9" r="5" fill="#000" stroke="#000" stroke-width="1.2" fill-opacity="0.13" stroke-opacity="0.28"/>
<circle cx="1762.1" cy="362.1" r="5" fill="#000" stroke="#000" stroke-width="1.2" fill-opacity="0.13" stroke-opacity="0.28"/>
<circle cx="1768.2" cy="370.2" r="5" fill="#000" stroke="#000" stroke-width="1.2" fill-opacity="0.13" stroke-opacity="0.28"/>
<circle cx="1750.9" cy="335.8" r="5" fill="#000" stroke="#000" stroke-width="1.2" fill-opacity="0.13" stroke-opacity="0.28"/>
<circle cx="1742.4" cy="235.4" r="5" fill="#000" stroke="#000" stroke-width="1.2" fill-opacity="0.13" stroke-opacity="0.28"/>
<circle cx="1759.1" cy="388.7" r="5" fill="#000" stroke="#000" stroke-width="1.2" fill-opacity="0.13" stroke-opacity="0.28"/>
<circle cx="1758.5" cy="266.3" r="5" fill="#000" stroke="#000" stroke-width="1.2" fill-opacity="0.13" stroke-opacity="0.28"/>
<circle cx="1741.9" cy="349.1" r="5" fill="#000" stroke="#000" stroke-width="1.2" fill-opacity="0.13" stroke-opacity="0.28"/>
<circle cx="1769" cy="348.4" r="5" fill="#000" stroke="#000" stroke-width="1.2" fill-opacity="0.13" stroke-opacity="0.28"/>
<circle cx="1764.8" cy="386.1" r="5" fill="#000" stroke="#000" stroke-width="1.2" fill-opacity="0.13" stroke-opacity="0.28"/>
<circle cx="1741.2" cy="260.1" r="5" fill="#000" stroke="#000" stroke-width="1.2" fill-opacity="0.13" stroke-opacity="0.28"/>
<circle cx="1753.6" cy="158.3" r="5" fill="#000" stroke="#000" stroke-width="1.2" fill-opacity="0.13" stroke-opacity="0.28"/>
<circle cx="1750.3" cy="406.2" r="5" fill="#000" stroke="#000" stroke-width="1.2" fill-opacity="0.13" stroke-opacity="0.28"/>
<circle cx="1765.5" cy="215.2" r="5" fill="#000" stroke="#000" stroke-width="1.2" fill-opacity="0.13" stroke-opacity="0.28"/>
<circle cx="1744.5" cy="399.3" r="5" fill="#000" stroke="#000" stroke-width="1.2" fill-opacity="0.13" stroke-opacity="0.28"/>
<circle cx="1806.3" cy="377.1" r="5" fill="#000" stroke="#000" stroke-width="1.2" fill-opacity="0.13" stroke-opacity="0.28"/>
<circle cx="1807.3" cy="403.5" r="5" fill="#000" stroke="#000" stroke-width="1.2" fill-opacity="0.13" stroke-opacity="0.28"/>
<circle cx="1825.1" cy="408.7" r="5" fill="#000" stroke="#000" stroke-width="1.2" fill-opacity="0.13" stroke-opacity="0.28"/>
<circle cx="1817.8" cy="409.2" r="5" fill="#000" stroke="#000" stroke-width="1.2" fill-opacity="0.13" stroke-opacity="0.28"/>
<circle cx="1813.5" cy="409" r="5" fill="#000" stroke="#000" stroke-width="1.2" fill-opacity="0.13" stroke-opacity="0.28"/>
<circle cx="1820.2" cy="402.3" r="5" fill="#000" stroke="#000" stroke-width="1.2" fill-opacity="0.13" stroke-opacity="0.28"/>
<circle cx="1814.6" cy="400.4" r="5" fill="#000" stroke="#000" stroke-width="1.2" fill-opacity="0.13" stroke-opacity="0.28"/>
<circle cx="1813.7" cy="403.5" r="5" fill="#000" stroke="#000" stroke-width="1.2" fill-opacity="0.13" stroke-opacity="0.28"/>
<circle cx="1820.9" cy="402.5" r="5" fill="#000" stroke="#000" stroke-width="1.2" fill-opacity="0.13" stroke-opacity="0.28"/>
<circle cx="1800.6" cy="389.9" r="5" fill="#000" stroke="#000" stroke-width="1.2" fill-opacity="0.13" stroke-opacity="0.28"/>
<circle cx="1828.5" cy="280.4" r="5" fill="#000" stroke="#000" stroke-width="1.2" fill-opacity="0.13" stroke-opacity="0.28"/>
<circle cx="1832.9" cy="377.6" r="5" fill="#000" stroke="#000" stroke-width="1.2" fill-opacity="0.13" stroke-opacity="0.28"/>
<circle cx="1826.1" cy="284.8" r="5" fill="#000" stroke="#000" stroke-width="1.2" fill-opacity="0.13" stroke-opacity="0.28"/>
<circle cx="1804.2" cy="411.1" r="5" fill="#000" stroke="#000" stroke-width="1.2" fill-opacity="0.13" stroke-opacity="0.28"/>
<circle cx="1816.2" cy="375.6" r="5" fill="#000" stroke="#000" stroke-width="1.2" fill-opacity="0.13" stroke-opacity="0.28"/>
<circle cx="1809.8" cy="408.1" r="5" fill="#000" stroke="#000" stroke-width="1.2" fill-opacity="0.13" stroke-opacity="0.28"/>
<circle cx="1822.4" cy="413.2" r="5" fill="#000" stroke="#000" stroke-width="1.2" fill-opacity="0.13" stroke-opacity="0.28"/>
<circle cx="1817.2" cy="374.5" r="5" fill="#000" stroke="#000" stroke-width="1.2" fill-opacity="0.13" stroke-opacity="0.28"/>
<circle cx="1818.9" cy="343.3" r="5" fill="#000" stroke="#000" stroke-width="1.2" fill-opacity="0.13" stroke-opacity="0.28"/>
<circle cx="1812.4" cy="354.5" r="5" fill="#000" stroke="#000" stroke-width="1.2" fill-opacity="0.13" stroke-opacity="0.28"/>
<circle cx="1811.2" cy="346.6" r="5" fill="#000" stroke="#000" stroke-width="1.2" fill-opacity="0.13" stroke-opacity="0.28"/>
<circle cx="1800.4" cy="410.9" r="5" fill="#000" stroke="#000" stroke-width="1.2" fill-opacity="0.13" stroke-opacity="0.28"/>
<circle cx="1819.1" cy="408.4" r="5" fill="#000" stroke="#000" stroke-width="1.2" fill-opacity="0.13" stroke-opacity="0.28"/>
<circle cx="1803.9" cy="402.4" r="5" fill="#000" stroke="#000" stroke-width="1.2" fill-opacity="0.13" stroke-opacity="0.28"/>
<circle cx="1803.3" cy="412.7" r="5" fill="#000" stroke="#000" stroke-width="1.2" fill-opacity="0.13" stroke-opacity="0.28"/>
<circle cx="1811" cy="402" r="5" fill="#000" stroke="#000" stroke-width="1.2" fill-opacity="0.13" stroke-opacity="0.28"/>
<circle cx="1819.2" cy="409" r="5" fill="#000" stroke="#000" stroke-width="1.2" fill-opacity="0.13" stroke-opacity="0.28"/>
<circle cx="1831.3" cy="403.6" r="5" fill="#000" stroke="#000" stroke-width="1.2" fill-opacity="0.13" stroke-opacity="0.28"/>
<circle cx="1829" cy="409.7" r="5" fill="#000" stroke="#000" stroke-width="1.2" fill-opacity="0.13" stroke-opacity="0.28"/>
<circle cx="1821.2" cy="402.1" r="5" fill="#000" stroke="#000" stroke-width="1.2" fill-opacity="0.13" stroke-opacity="0.28"/>
<circle cx="1831.3" cy="387.3" r="5" fill="#000" stroke="#000" stroke-width="1.2" fill-opacity="0.13" stroke-opacity="0.28"/>
<circle cx="1817.2" cy="266.6" r="5" fill="#000" stroke="#000" stroke-width="1.2" fill-opacity="0.13" stroke-opacity="0.28"/>
<circle cx="1799.1" cy="411.3" r="5" fill="#000" stroke="#000" stroke-width="1.2" fill-opacity="0.13" stroke-opacity="0.28"/>
<circle cx="1819.9" cy="404.4" r="5" fill="#000" stroke="#000" stroke-width="1.2" fill-opacity="0.13" stroke-opacity="0.28"/>
<circle cx="1809.5" cy="376.8" r="5" fill="#000" stroke="#000" stroke-width="1.2" fill-opacity="0.13" stroke-opacity="0.28"/>
<circle cx="1823.6" cy="377.4" r="5" fill="#000" stroke="#000" stroke-width="1.2" fill-opacity="0.13" stroke-opacity="0.28"/>
<circle cx="1824.5" cy="388.1" r="5" fill="#000" stroke="#000" stroke-width="1.2" fill-opacity="0.13" stroke-opacity="0.28"/>
<circle cx="1800" cy="404.8" r="5" fill="#000" stroke="#000" stroke-width="1.2" fill-opacity="0.13" stroke-opacity="0.28"/>
<circle cx="1823.5" cy="403" r="5" fill="#000" stroke="#000" stroke-width="1.2" fill-opacity="0.13" stroke-opacity="0.28"/>
<circle cx="1816.9" cy="411.5" r="5" fill="#000" stroke="#000" stroke-width="1.2" fill-opacity="0.13" stroke-opacity="0.28"/>
<circle cx="1829.3" cy="292.5" r="5" fill="#000" stroke="#000" stroke-width="1.2" fill-opacity="0.13" stroke-opacity="0.28"/>
<circle cx="1831.6" cy="410.9" r="5" fill="#000" stroke="#000" stroke-width="1.2" fill-opacity="0.13" stroke-opacity="0.28"/>
<circle cx="1807" cy="309.3" r="5" fill="#000" stroke="#000" stroke-width="1.2" fill-opacity="0.13" stroke-opacity="0.28"/>
<circle cx="1832.8" cy="395.9" r="5" fill="#000" stroke="#000" stroke-width="1.2" fill-opacity="0.13" stroke-opacity="0.28"/>
<circle cx="1813.9" cy="403.4" r="5" fill="#000" stroke="#000" stroke-width="1.2" fill-opacity="0.13" stroke-opacity="0.28"/>
<circle cx="1820.4" cy="404.5" r="5" fill="#000" stroke="#000" stroke-width="1.2" fill-opacity="0.13" stroke-opacity="0.28"/>
<circle cx="1802.4" cy="402.3" r="5" fill="#000" stroke="#000" stroke-width="1.2" fill-opacity="0.13" stroke-opacity="0.28"/>
<circle cx="1800.1" cy="402.3" r="5" fill="#000" stroke="#000" stroke-width="1.2" fill-opacity="0.13" stroke-opacity="0.28"/>
<circle cx="1801" cy="398.7" r="5" fill="#000" stroke="#000" stroke-width="1.2" fill-opacity="0.13" stroke-opacity="0.28"/>
<circle cx="1829.7" cy="402" r="5" fill="#000" stroke="#000" stroke-width="1.2" fill-opacity="0.13" stroke-opacity="0.28"/>
<circle cx="1802.4" cy="401.6" r="5" fill="#000" stroke="#000" stroke-width="1.2" fill-opacity="0.13" stroke-opacity="0.28"/>
<circle cx="1827" cy="412.2" r="5" fill="#000" stroke="#000" stroke-width="1.2" fill-opacity="0.13" stroke-opacity="0.28"/>
<circle cx="1802.2" cy="381.2" r="5" fill="#000" stroke="#000" stroke-width="1.2" fill-opacity="0.13" stroke-opacity="0.28"/>
<circle cx="1813.4" cy="405.8" r="5" fill="#000" stroke="#000" stroke-width="1.2" fill-opacity="0.13" stroke-opacity="0.28"/>
<circle cx="1811.5" cy="410.6" r="5" fill="#000" stroke="#000" stroke-width="1.2" fill-opacity="0.13" stroke-opacity="0.28"/>
<circle cx="1820.2" cy="412.2" r="5" fill="#000" stroke="#000" stroke-width="1.2" fill-opacity="0.13" stroke-opacity="0.28"/>
<circle cx="1810.8" cy="411.3" r="5" fill="#000" stroke="#000" stroke-width="1.2" fill-opacity="0.13" stroke-opacity="0.28"/>
<circle cx="1801.8" cy="412.3" r="5" fill="#000" stroke="#000" stroke-width="1.2" fill-opacity="0.13" stroke-opacity="0.28"/>
<circle cx="1825.2" cy="404.4" r="5" fill="#000" stroke="#000" stroke-width="1.2" fill-opacity="0.13" stroke-opacity="0.28"/>
<circle cx="1826.4" cy="407.9" r="5" fill="#000" stroke="#000" stroke-width="1.2" fill-opacity="0.13" stroke-opacity="0.28"/>
<circle cx="1807.8" cy="412" r="5" fill="#000" stroke="#000" stroke-width="1.2" fill-opacity="0.13" stroke-opacity="0.28"/>
<circle cx="1816" cy="410.4" r="5" fill="#000" stroke="#000" stroke-width="1.2" fill-opacity="0.13" stroke-opacity="0.28"/>
<circle cx="1823" cy="411.5" r="5" fill="#000" stroke="#000" stroke-width="1.2" fill-opacity="0.13" stroke-opacity="0.28"/>
<circle cx="1812.4" cy="406.8" r="5" fill="#000" stroke="#000" stroke-width="1.2" fill-opacity="0.13" stroke-opacity="0.28"/>
<circle cx="1805.9" cy="263.8" r="5" fill="#000" stroke="#000" stroke-width="1.2" fill-opacity="0.13" stroke-opacity="0.28"/>
<circle cx="1829.5" cy="406.6" r="5" fill="#000" stroke="#000" stroke-width="1.2" fill-opacity="0.13" stroke-opacity="0.28"/>
<circle cx="1824.9" cy="411.1" r="5" fill="#000" stroke="#000" stroke-width="1.2" fill-opacity="0.13" stroke-opacity="0.28"/>
<circle cx="1828.1" cy="403.9" r="5" fill="#000" stroke="#000" stroke-width="1.2" fill-opacity="0.13" stroke-opacity="0.28"/>
<circle cx="1825.6" cy="407.3" r="5" fill="#000" stroke="#000" stroke-width="1.2" fill-opacity="0.13" stroke-opacity="0.28"/>
<circle cx="1807" cy="412.6" r="5" fill="#000" stroke="#000" stroke-width="1.2" fill-opacity="0.13" stroke-opacity="0.28"/>
<circle cx="1804.1" cy="402.9" r="5" fill="#000" stroke="#000" stroke-width="1.2" fill-opacity="0.13" stroke-opacity="0.28"/>
<circle cx="1804.3" cy="408.3" r="5" fill="#000" stroke="#000" stroke-width="1.2" fill-opacity="0.13" stroke-opacity="0.28"/>
<circle cx="1802.2" cy="369.3" r="5" fill="#000" stroke="#000" stroke-width="1.2" fill-opacity="0.13" stroke-opacity="0.28"/>
<circle cx="1826.4" cy="413.8" r="5" fill="#000" stroke="#000" stroke-width="1.2" fill-opacity="0.13" stroke-opacity="0.28"/>
<circle cx="1802.4" cy="409.7" r="5" fill="#000" stroke="#000" stroke-width="1.2" fill-opacity="0.13" stroke-opacity="0.28"/>
<circle cx="1826.2" cy="406.8" r="5" fill="#000" stroke="#000" stroke-width="1.2" fill-opacity="0.13" stroke-opacity="0.28"/>
<circle cx="1803.6" cy="388.1" r="5" fill="#000" stroke="#000" stroke-width="1.2" fill-opacity="0.13" stroke-opacity="0.28"/>
<circle cx="1813.7" cy="405.4" r="5" fill="#000" stroke="#000" stroke-width="1.2" fill-opacity="0.13" stroke-opacity="0.28"/>
<circle cx="1823.8" cy="404.7" r="5" fill="#000" stroke="#000" stroke-width="1.2" fill-opacity="0.13" stroke-opacity="0.28"/>
<circle cx="1822.4" cy="403.2" r="5" fill="#000" stroke="#000" stroke-width="1.2" fill-opacity="0.13" stroke-opacity="0.28"/>
<circle cx="1802.1" cy="409.5" r="5" fill="#000" stroke="#000" stroke-width="1.2" fill-opacity="0.13" stroke-opacity="0.28"/>
<circle cx="1807.4" cy="394.6" r="5" fill="#000" stroke="#000" stroke-width="1.2" fill-opacity="0.13" stroke-opacity="0.28"/>
<circle cx="1822.2" cy="386" r="5" fill="#000" stroke="#000" stroke-width="1.2" fill-opacity="0.13" stroke-opacity="0.28"/>
<circle cx="1812.2" cy="400.3" r="5" fill="#000" stroke="#000" stroke-width="1.2" fill-opacity="0.13" stroke-opacity="0.28"/>
<circle cx="1804.3" cy="408.5" r="5" fill="#000" stroke="#000" stroke-width="1.2" fill-opacity="0.13" stroke-opacity="0.28"/>
<circle cx="1818.7" cy="403.2" r="5" fill="#000" stroke="#000" stroke-width="1.2" fill-opacity="0.13" stroke-opacity="0.28"/>
<circle cx="1827.6" cy="409.7" r="5" fill="#000" stroke="#000" stroke-width="1.2" fill-opacity="0.13" stroke-opacity="0.28"/>
<circle cx="1822.5" cy="291.5" r="5" fill="#000" stroke="#000" stroke-width="1.2" fill-opacity="0.13" stroke-opacity="0.28"/>
<circle cx="1811.1" cy="413.8" r="5" fill="#000" stroke="#000" stroke-width="1.2" fill-opacity="0.13" stroke-opacity="0.28"/>
<circle cx="1813.3" cy="402.2" r="5" fill="#000" stroke="#000" stroke-width="1.2" fill-opacity="0.13" stroke-opacity="0.28"/>
<circle cx="1806.5" cy="405.2" r="5" fill="#000" stroke="#000" stroke-width="1.2" fill-opacity="0.13" stroke-opacity="0.28"/>
<circle cx="1826.6" cy="404.6" r="5" fill="#000" stroke="#000" stroke-width="1.2" fill-opacity="0.13" stroke-opacity="0.28"/>
<circle cx="1826.9" cy="411.3" r="5" fill="#000" stroke="#000" stroke-width="1.2" fill-opacity="0.13" stroke-opacity="0.28"/>
<circle cx="1832.3" cy="404.7" r="5" fill="#000" stroke="#000" stroke-width="1.2" fill-opacity="0.13" stroke-opacity="0.28"/>
<circle cx="1815" cy="401.8" r="5" fill="#000" stroke="#000" stroke-width="1.2" fill-opacity="0.13" stroke-opacity="0.28"/>
<circle cx="1421.5" cy="99.5" r="5" fill="#000" stroke="#000" stroke-width="1.2" fill-opacity="0.13" stroke-opacity="0.28"/>
<circle cx="1424" cy="405" r="5" fill="#000" stroke="#000" stroke-width="1.2" fill-opacity="0.13" stroke-opacity="0.28"/>
<circle cx="1824.5" cy="198" r="5" fill="#000" stroke="#000" stroke-width="1.2" fill-opacity="0.13" stroke-opacity="0.28"/>
<circle cx="1806" cy="220" r="5" fill="#000" stroke="#000" stroke-width="1.2" fill-opacity="0.13" stroke-opacity="0.28"/>
<circle cx="1826" cy="236" r="5" fill="#000" stroke="#000" stroke-width="1.2" fill-opacity="0.13" stroke-opacity="0.28"/>
<circle cx="1802" cy="245" r="5" fill="#000" stroke="#000" stroke-width="1.2" fill-opacity="0.13" stroke-opacity="0.28"/>
<text x="1413.3" y="94.6" font-size="35" text-anchor="middle">a</text>
<text x="1495.3" y="94.6" font-size="35" text-anchor="middle">a</text>
<text x="1577.3" y="94.6" font-size="35" text-anchor="middle">a</text>
<text x="1661" y="94.6" font-size="35" text-anchor="middle">ab</text>
<text x="1743.5" y="94.6" font-size="35" text-anchor="middle">b</text>
<text x="1826.6" y="94.6" font-size="35" text-anchor="middle">c</text>
<text x="1450.2" y="475.8" font-size="26" text-anchor="middle" textLength="72" lengthAdjust="spacingAndGlyphs">mock</text>
<text x="1616.8" y="475.8" font-size="26" text-anchor="middle" textLength="110" lengthAdjust="spacingAndGlyphs">L148 HK</text>
<text x="1782.1" y="475.8" font-size="26" text-anchor="middle" textLength="63" lengthAdjust="spacingAndGlyphs">L148</text>
<text x="1930.4" y="182" font-size="27" textLength="118" lengthAdjust="spacingAndGlyphs">genotype</text>
<line x1="1944" y1="193.6" x2="1944" y2="220.8" stroke="#333333" stroke-width="1.6"/>
<rect x="1931.2" y="198.3" width="26" height="18.1" fill="#1f74c4" stroke="#333333" stroke-width="1.6"/>
<line x1="1931.2" y1="207.4" x2="1957.2" y2="207.4" stroke="#333333" stroke-width="1.6"/>
<circle cx="1944" cy="207.4" r="4.2" fill="#000" fill-opacity="0.18"/>
<text x="1966.6" y="215.4" font-size="21" textLength="54" lengthAdjust="spacingAndGlyphs">Col-0</text>
<line x1="1944" y1="228.3" x2="1944" y2="256.8" stroke="#333333" stroke-width="1.6"/>
<rect x="1931.2" y="233" width="26" height="19.4" fill="#8c7325" stroke="#333333" stroke-width="1.6"/>
<line x1="1931.2" y1="242.7" x2="1957.2" y2="242.7" stroke="#333333" stroke-width="1.6"/>
<circle cx="1944" cy="242.7" r="4.2" fill="#000" fill-opacity="0.18"/>
<text x="1966.6" y="248" font-size="21" font-style="italic" textLength="65" lengthAdjust="spacingAndGlyphs">rbohD</text>
<text x="1279" y="519.2" font-size="52" font-weight="bold">d</text>
<rect x="1360.3" y="529.9" width="518.3" height="378.5" fill="none" stroke="#1a1a1a" stroke-width="2.6"/>
<text x="1348" y="635.9" font-size="28" text-anchor="end" textLength="41.5" lengthAdjust="spacingAndGlyphs">1.2</text>
<text x="1348" y="730.2" font-size="28" text-anchor="end" textLength="41.5" lengthAdjust="spacingAndGlyphs">0.8</text>
<text x="1348" y="826.6" font-size="28" text-anchor="end" textLength="41.5" lengthAdjust="spacingAndGlyphs">0.4</text>
<text transform="translate(1285 722) rotate(-90)" font-size="27" text-anchor="middle" textLength="296" lengthAdjust="spacingAndGlyphs">green/total area 3 dpi</text>
<line x1="1425.2" y1="585.7" x2="1425.2" y2="697.7" stroke="#333333" stroke-width="2.2"/>
<rect x="1398.1" y="620.5" width="54.2" height="63.6" fill="#1f74c4" stroke="#333333" stroke-width="2.4"/>
<line x1="1398.1" y1="660.7" x2="1452.3" y2="660.7" stroke="#333333" stroke-width="4"/>
<line x1="1486.7" y1="653.8" x2="1486.7" y2="669.8" stroke="#333333" stroke-width="2.2"/>
<rect x="1459.6" y="653.8" width="54.2" height="16" fill="#8c7325" stroke="#333333" stroke-width="2.4"/>
<line x1="1459.6" y1="666.9" x2="1513.8" y2="666.9" stroke="#333333" stroke-width="4"/>
<line x1="1588.7" y1="604.1" x2="1588.7" y2="697.7" stroke="#333333" stroke-width="2.2"/>
<rect x="1561.8" y="604.1" width="53.8" height="50.5" fill="#1f74c4" stroke="#333333" stroke-width="2.4"/>
<line x1="1561.8" y1="630" x2="1615.6" y2="630" stroke="#333333" stroke-width="4"/>
<line x1="1650" y1="672.2" x2="1650" y2="812.5" stroke="#333333" stroke-width="2.2"/>
<rect x="1622.9" y="712.8" width="54.2" height="96.9" fill="#8c7325" stroke="#333333" stroke-width="2.4"/>
<line x1="1622.9" y1="740" x2="1677.1" y2="740" stroke="#333333" stroke-width="4"/>
<line x1="1751.9" y1="740.7" x2="1751.9" y2="821.5" stroke="#333333" stroke-width="2.2"/>
<rect x="1725" y="788.7" width="53.8" height="32.8" fill="#1f74c4" stroke="#333333" stroke-width="2.4"/>
<line x1="1725" y1="800.2" x2="1778.8" y2="800.2" stroke="#333333" stroke-width="4"/>
<line x1="1813.3" y1="793.2" x2="1813.3" y2="886.4" stroke="#333333" stroke-width="2.2"/>
<rect x="1786.2" y="817" width="54.2" height="29.6" fill="#8c7325" stroke="#333333" stroke-width="2.4"/>
<line x1="1786.2" y1="835.9" x2="1840.4" y2="835.9" stroke="#333333" stroke-width="4"/>
<circle cx="1401.2" cy="584.9" r="4.3" fill="none" stroke="#111" stroke-width="1.5"/>
<circle cx="1406.1" cy="610.3" r="4.3" fill="none" stroke="#111" stroke-width="1.5"/>
<circle cx="1449.6" cy="650.5" r="4.3" fill="none" stroke="#111" stroke-width="1.5"/>
<circle cx="1412.7" cy="671.4" r="4.3" fill="none" stroke="#111" stroke-width="1.5"/>
<circle cx="1417.2" cy="688.6" r="4.3" fill="none" stroke="#111" stroke-width="1.5"/>
<circle cx="1436.9" cy="697.3" r="4.3" fill="none" stroke="#111" stroke-width="1.5"/>
<circle cx="1518.9" cy="589" r="4.3" fill="none" stroke="#111" stroke-width="1.5"/>
<circle cx="1485.3" cy="653.8" r="4.3" fill="none" stroke="#111" stroke-width="1.5"/>
<circle cx="1471.8" cy="668.1" r="4.3" fill="none" stroke="#111" stroke-width="1.5"/>
<circle cx="1515.7" cy="668.1" r="4.3" fill="none" stroke="#111" stroke-width="1.5"/>
<circle cx="1502.5" cy="700.1" r="4.3" fill="none" stroke="#111" stroke-width="1.5"/>
<circle cx="1558.3" cy="610.7" r="4.3" fill="none" stroke="#111" stroke-width="1.5"/>
<circle cx="1587.9" cy="602.1" r="4.3" fill="none" stroke="#111" stroke-width="1.5"/>
<circle cx="1598.5" cy="602.1" r="4.3" fill="none" stroke="#111" stroke-width="1.5"/>
<circle cx="1608.4" cy="650.5" r="4.3" fill="none" stroke="#111" stroke-width="1.5"/>
<circle cx="1603.9" cy="655.4" r="4.3" fill="none" stroke="#111" stroke-width="1.5"/>
<circle cx="1600.2" cy="697.7" r="4.3" fill="none" stroke="#111" stroke-width="1.5"/>
<circle cx="1669.1" cy="672.2" r="4.3" fill="none" stroke="#111" stroke-width="1.5"/>
<circle cx="1647.7" cy="712.8" r="4.3" fill="none" stroke="#111" stroke-width="1.5"/>
<circle cx="1625.6" cy="740.3" r="4.3" fill="none" stroke="#111" stroke-width="1.5"/>
<circle cx="1626.8" cy="808.4" r="4.3" fill="none" stroke="#111" stroke-width="1.5"/>
<circle cx="1627.6" cy="812.5" r="4.3" fill="none" stroke="#111" stroke-width="1.5"/>
<circle cx="1730.6" cy="740.3" r="4.3" fill="none" stroke="#111" stroke-width="1.5"/>
<circle cx="1729.4" cy="788.7" r="4.3" fill="none" stroke="#111" stroke-width="1.5"/>
<circle cx="1756" cy="788.7" r="4.3" fill="none" stroke="#111" stroke-width="1.5"/>
<circle cx="1772" cy="811.7" r="4.3" fill="none" stroke="#111" stroke-width="1.5"/>
<circle cx="1749.1" cy="824.4" r="4.3" fill="none" stroke="#111" stroke-width="1.5"/>
<circle cx="1726.1" cy="893.7" r="4.3" fill="none" stroke="#111" stroke-width="1.5"/>
<circle cx="1794.2" cy="792.8" r="4.3" fill="none" stroke="#111" stroke-width="1.5"/>
<circle cx="1811" cy="814.6" r="4.3" fill="none" stroke="#111" stroke-width="1.5"/>
<circle cx="1821.3" cy="826.1" r="4.3" fill="none" stroke="#111" stroke-width="1.5"/>
<circle cx="1834" cy="846.2" r="4.3" fill="none" stroke="#111" stroke-width="1.5"/>
<circle cx="1808.5" cy="886.4" r="4.3" fill="none" stroke="#111" stroke-width="1.5"/>
<text x="1418.4" y="560.4" font-size="36" text-anchor="middle">a</text>
<text x="1491.5" y="560.4" font-size="36" text-anchor="middle">a</text>
<text x="1581.7" y="560.4" font-size="36" text-anchor="middle">a</text>
<text x="1655.5" y="560.4" font-size="36" text-anchor="middle">b</text>
<text x="1745.8" y="560.4" font-size="36" text-anchor="middle">bc</text>
<text x="1818.8" y="560.4" font-size="36" text-anchor="middle">c</text>
<text x="1458.6" y="952" font-size="26" text-anchor="middle" textLength="72" lengthAdjust="spacingAndGlyphs">mock</text>
<text x="1623" y="952" font-size="26" text-anchor="middle" textLength="63" lengthAdjust="spacingAndGlyphs">L148</text>
<text x="1783.5" y="952" font-size="26" text-anchor="middle" font-style="italic" textLength="46" lengthAdjust="spacingAndGlyphs">Pto</text>
<text x="11.5" y="1024.6" font-size="56" font-weight="bold" textLength="30" lengthAdjust="spacingAndGlyphs">e</text>
<text x="329.5" y="1060.7" font-size="37" text-anchor="middle" textLength="86" lengthAdjust="spacingAndGlyphs">Col-0</text>
<text x="700.5" y="1060.7" font-size="37" text-anchor="middle" font-style="italic" textLength="102" lengthAdjust="spacingAndGlyphs">rbohD</text>
<text x="123.5" y="1104" font-size="28" text-anchor="end" textLength="67" lengthAdjust="spacingAndGlyphs">2500</text>
<text x="123.5" y="1173" font-size="28" text-anchor="end" textLength="67" lengthAdjust="spacingAndGlyphs">2000</text>
<text x="123.5" y="1244" font-size="28" text-anchor="end" textLength="67" lengthAdjust="spacingAndGlyphs">1500</text>
<text x="123.5" y="1307" font-size="28" text-anchor="end" textLength="67" lengthAdjust="spacingAndGlyphs">1000</text>
<text x="123.5" y="1379" font-size="28" text-anchor="end" textLength="50" lengthAdjust="spacingAndGlyphs">500</text>
<text x="123.5" y="1441" font-size="28" text-anchor="end" textLength="17" lengthAdjust="spacingAndGlyphs">0</text>
<text x="122" y="1550" font-size="28" text-anchor="end" textLength="83.5" lengthAdjust="spacingAndGlyphs">15000</text>
<text x="122" y="1651" font-size="28" text-anchor="end" textLength="83.5" lengthAdjust="spacingAndGlyphs">10000</text>
<text x="122" y="1751.4" font-size="28" text-anchor="end" textLength="67" lengthAdjust="spacingAndGlyphs">5000</text>
<text x="122" y="1853.7" font-size="28" text-anchor="end" textLength="17" lengthAdjust="spacingAndGlyphs">0</text>
<text x="154.9" y="1897.7" font-size="27" text-anchor="middle" textLength="16" lengthAdjust="spacingAndGlyphs">0</text>
<text x="259.6" y="1897.7" font-size="27" text-anchor="middle" textLength="33" lengthAdjust="spacingAndGlyphs">20</text>
<text x="363.8" y="1897.7" font-size="27" text-anchor="middle" textLength="33" lengthAdjust="spacingAndGlyphs">40</text>
<text x="470.8" y="1897.7" font-size="27" text-anchor="middle" textLength="33" lengthAdjust="spacingAndGlyphs">60</text>
<text x="534.2" y="1897.7" font-size="27" text-anchor="middle" textLength="16" lengthAdjust="spacingAndGlyphs">0</text>
<text x="639.3" y="1897.7" font-size="27" text-anchor="middle" textLength="33" lengthAdjust="spacingAndGlyphs">20</text>
<text x="744" y="1897.7" font-size="27" text-anchor="middle" textLength="33" lengthAdjust="spacingAndGlyphs">40</text>
<text x="850.5" y="1897.7" font-size="27" text-anchor="middle" textLength="33" lengthAdjust="spacingAndGlyphs">60</text>
<text x="520" y="1954" font-size="34" text-anchor="middle" textLength="171" lengthAdjust="spacingAndGlyphs">time (min)</text>
<text transform="translate(25.5 1448) rotate(-90)" font-size="37" text-anchor="middle" textLength="59" lengthAdjust="spacingAndGlyphs">RLU</text>
<text transform="translate(901 1263.8) rotate(90)" font-size="35" text-anchor="middle" textLength="54" lengthAdjust="spacingAndGlyphs">live</text>
<text transform="translate(903 1651.5) rotate(90)" font-size="35" text-anchor="middle" textLength="143" lengthAdjust="spacingAndGlyphs">heat-killed</text>
<path d="M154.9 1410.2 L160.1 1411.7 L165.4 1412.8 L170.6 1413.2 L175.8 1413.1 L181 1412.8 L186.3 1412.2 L191.5 1411.3 L196.7 1410.1 L202 1408.7 L207.2 1406.9 L212.4 1404.5 L217.6 1401.5 L222.9 1398.7 L228.1 1395.9 L233.3 1393.5 L238.6 1391.9 L243.8 1390.8 L249 1390 L254.2 1389.3 L259.5 1388.7 L264.7 1388.4 L269.9 1388.2 L275.2 1388 L280.4 1387.9 L285.6 1387.8 L290.8 1388 L296.1 1388.3 L301.3 1388.7 L306.5 1389.2 L311.8 1389.8 L317 1390.6 L322.2 1391.3 L327.5 1392 L332.7 1392.4 L337.9 1392.7 L343.1 1393 L348.4 1393.1 L353.6 1393.3 L358.8 1393.4 L364.1 1393.3 L369.3 1393 L374.5 1392.4 L379.7 1391.6 L385 1390.8 L390.2 1389.9 L395.4 1388.9 L400.7 1387.9 L405.9 1386.9 L411.1 1386 L416.3 1385 L421.6 1384 L426.8 1383 L432 1381.9 L437.3 1380.9 L442.5 1379.8 L447.7 1378.7 L452.9 1377.6 L458.2 1376.5 L463.4 1375.6 L468.6 1374.8 L473.9 1374 L479.1 1373.1 L484.3 1372.3 L489.5 1371.5 L489.5 1390.5 L484.3 1390.7 L479.1 1390.8 L473.9 1390.9 L468.6 1391.1 L463.4 1391.3 L458.2 1391.7 L452.9 1392.1 L447.7 1392.7 L442.5 1393.2 L437.3 1393.8 L432 1394.4 L426.8 1395 L421.6 1395.5 L416.3 1396.1 L411.1 1396.6 L405.9 1397.1 L400.7 1397.7 L395.4 1398.3 L390.2 1398.9 L385 1399.5 L379.7 1400 L374.5 1400.5 L369.3 1400.8 L364.1 1400.8 L358.8 1400.6 L353.6 1400.2 L348.4 1399.8 L343.1 1399.4 L337.9 1399 L332.7 1398.5 L327.5 1397.9 L322.2 1397 L317 1396.1 L311.8 1395.2 L306.5 1394.4 L301.3 1393.8 L296.1 1393.2 L290.8 1392.8 L285.6 1392.5 L280.4 1392.5 L275.2 1392.5 L269.9 1392.6 L264.7 1392.7 L259.5 1393 L254.2 1393.4 L249 1394.1 L243.8 1394.9 L238.6 1396 L233.3 1397.5 L228.1 1399.8 L222.9 1402.6 L217.6 1405.4 L212.4 1408.3 L207.2 1410.8 L202 1412.5 L196.7 1414 L191.5 1415.1 L186.3 1416 L181 1416.6 L175.8 1416.9 L170.6 1417 L165.4 1416.6 L160.1 1415.5 L154.9 1414Z" fill="#a9d2dc"/>
<rect x="149.8" y="1413.4" width="10.2" height="10.2" fill="#ffffff" stroke="#111" stroke-width="2.5"/>
<rect x="155" y="1413.3" width="10.2" height="10.2" fill="#ffffff" stroke="#111" stroke-width="2.5"/>
<rect x="160.3" y="1413.3" width="10.2" height="10.2" fill="#ffffff" stroke="#111" stroke-width="2.5"/>
<rect x="165.5" y="1413.2" width="10.2" height="10.2" fill="#ffffff" stroke="#111" stroke-width="2.5"/>
<rect x="170.7" y="1413.1" width="10.2" height="10.2" fill="#ffffff" stroke="#111" stroke-width="2.5"/>
<rect x="175.9" y="1413" width="10.2" height="10.2" fill="#ffffff" stroke="#111" stroke-width="2.5"/>
<rect x="181.2" y="1412.8" width="10.2" height="10.2" fill="#ffffff" stroke="#111" stroke-width="2.5"/>
<rect x="186.4" y="1412.6" width="10.2" height="10.2" fill="#ffffff" stroke="#111" stroke-width="2.5"/>
<rect x="191.6" y="1412.4" width="10.2" height="10.2" fill="#ffffff" stroke="#111" stroke-width="2.5"/>
<rect x="196.9" y="1412.1" width="10.2" height="10.2" fill="#ffffff" stroke="#111" stroke-width="2.5"/>
<rect x="202.1" y="1411.8" width="10.2" height="10.2" fill="#ffffff" stroke="#111" stroke-width="2.5"/>
<rect x="207.3" y="1411.5" width="10.2" height="10.2" fill="#ffffff" stroke="#111" stroke-width="2.5"/>
<rect x="212.5" y="1411.2" width="10.2" height="10.2" fill="#ffffff" stroke="#111" stroke-width="2.5"/>
<rect x="217.8" y="1411" width="10.2" height="10.2" fill="#ffffff" stroke="#111" stroke-width="2.5"/>
<rect x="223" y="1410.8" width="10.2" height="10.2" fill="#ffffff" stroke="#111" stroke-width="2.5"/>
<rect x="228.2" y="1410.7" width="10.2" height="10.2" fill="#ffffff" stroke="#111" stroke-width="2.5"/>
<rect x="233.5" y="1410.7" width="10.2" height="10.2" fill="#ffffff" stroke="#111" stroke-width="2.5"/>
<rect x="238.7" y="1410.7" width="10.2" height="10.2" fill="#ffffff" stroke="#111" stroke-width="2.5"/>
<rect x="243.9" y="1410.9" width="10.2" height="10.2" fill="#ffffff" stroke="#111" stroke-width="2.5"/>
<rect x="249.1" y="1411" width="10.2" height="10.2" fill="#ffffff" stroke="#111" stroke-width="2.5"/>
<rect x="254.4" y="1411.2" width="10.2" height="10.2" fill="#ffffff" stroke="#111" stroke-width="2.5"/>
<rect x="259.6" y="1411.4" width="10.2" height="10.2" fill="#ffffff" stroke="#111" stroke-width="2.5"/>
<rect x="264.8" y="1411.5" width="10.2" height="10.2" fill="#ffffff" stroke="#111" stroke-width="2.5"/>
<rect x="270.1" y="1411.6" width="10.2" height="10.2" fill="#ffffff" stroke="#111" stroke-width="2.5"/>
<rect x="275.3" y="1411.7" width="10.2" height="10.2" fill="#ffffff" stroke="#111" stroke-width="2.5"/>
<rect x="280.5" y="1411.7" width="10.2" height="10.2" fill="#ffffff" stroke="#111" stroke-width="2.5"/>
<rect x="285.7" y="1411.7" width="10.2" height="10.2" fill="#ffffff" stroke="#111" stroke-width="2.5"/>
<rect x="291" y="1411.7" width="10.2" height="10.2" fill="#ffffff" stroke="#111" stroke-width="2.5"/>
<rect x="296.2" y="1411.7" width="10.2" height="10.2" fill="#ffffff" stroke="#111" stroke-width="2.5"/>
<rect x="301.4" y="1411.8" width="10.2" height="10.2" fill="#ffffff" stroke="#111" stroke-width="2.5"/>
<rect x="306.7" y="1411.8" width="10.2" height="10.2" fill="#ffffff" stroke="#111" stroke-width="2.5"/>
<rect x="311.9" y="1411.8" width="10.2" height="10.2" fill="#ffffff" stroke="#111" stroke-width="2.5"/>
<rect x="317.1" y="1411.8" width="10.2" height="10.2" fill="#ffffff" stroke="#111" stroke-width="2.5"/>
<rect x="322.4" y="1411.8" width="10.2" height="10.2" fill="#ffffff" stroke="#111" stroke-width="2.5"/>
<rect x="327.6" y="1411.8" width="10.2" height="10.2" fill="#ffffff" stroke="#111" stroke-width="2.5"/>
<rect x="332.8" y="1411.8" width="10.2" height="10.2" fill="#ffffff" stroke="#111" stroke-width="2.5"/>
<rect x="338" y="1411.8" width="10.2" height="10.2" fill="#ffffff" stroke="#111" stroke-width="2.5"/>
<rect x="343.3" y="1411.8" width="10.2" height="10.2" fill="#ffffff" stroke="#111" stroke-width="2.5"/>
<rect x="348.5" y="1411.7" width="10.2" height="10.2" fill="#ffffff" stroke="#111" stroke-width="2.5"/>
<rect x="353.7" y="1411.7" width="10.2" height="10.2" fill="#ffffff" stroke="#111" stroke-width="2.5"/>
<rect x="359" y="1411.7" width="10.2" height="10.2" fill="#ffffff" stroke="#111" stroke-width="2.5"/>
<rect x="364.2" y="1411.7" width="10.2" height="10.2" fill="#ffffff" stroke="#111" stroke-width="2.5"/>
<rect x="369.4" y="1411.7" width="10.2" height="10.2" fill="#ffffff" stroke="#111" stroke-width="2.5"/>
<rect x="374.6" y="1411.7" width="10.2" height="10.2" fill="#ffffff" stroke="#111" stroke-width="2.5"/>
<rect x="379.9" y="1411.7" width="10.2" height="10.2" fill="#ffffff" stroke="#111" stroke-width="2.5"/>
<rect x="385.1" y="1411.7" width="10.2" height="10.2" fill="#ffffff" stroke="#111" stroke-width="2.5"/>
<rect x="390.3" y="1411.7" width="10.2" height="10.2" fill="#ffffff" stroke="#111" stroke-width="2.5"/>
<rect x="395.6" y="1411.7" width="10.2" height="10.2" fill="#ffffff" stroke="#111" stroke-width="2.5"/>
<rect x="400.8" y="1411.7" width="10.2" height="10.2" fill="#ffffff" stroke="#111" stroke-width="2.5"/>
<rect x="406" y="1411.7" width="10.2" height="10.2" fill="#ffffff" stroke="#111" stroke-width="2.5"/>
<rect x="411.2" y="1411.7" width="10.2" height="10.2" fill="#ffffff" stroke="#111" stroke-width="2.5"/>
<rect x="416.5" y="1411.7" width="10.2" height="10.2" fill="#ffffff" stroke="#111" stroke-width="2.5"/>
<rect x="421.7" y="1411.7" width="10.2" height="10.2" fill="#ffffff" stroke="#111" stroke-width="2.5"/>
<rect x="426.9" y="1411.7" width="10.2" height="10.2" fill="#ffffff" stroke="#111" stroke-width="2.5"/>
<rect x="432.2" y="1411.7" width="10.2" height="10.2" fill="#ffffff" stroke="#111" stroke-width="2.5"/>
<rect x="437.4" y="1411.7" width="10.2" height="10.2" fill="#ffffff" stroke="#111" stroke-width="2.5"/>
<rect x="442.6" y="1411.7" width="10.2" height="10.2" fill="#ffffff" stroke="#111" stroke-width="2.5"/>
<rect x="447.8" y="1411.7" width="10.2" height="10.2" fill="#ffffff" stroke="#111" stroke-width="2.5"/>
<rect x="453.1" y="1411.7" width="10.2" height="10.2" fill="#ffffff" stroke="#111" stroke-width="2.5"/>
<rect x="458.3" y="1411.6" width="10.2" height="10.2" fill="#ffffff" stroke="#111" stroke-width="2.5"/>
<rect x="463.5" y="1411.6" width="10.2" height="10.2" fill="#ffffff" stroke="#111" stroke-width="2.5"/>
<rect x="468.8" y="1411.6" width="10.2" height="10.2" fill="#ffffff" stroke="#111" stroke-width="2.5"/>
<rect x="474" y="1411.6" width="10.2" height="10.2" fill="#ffffff" stroke="#111" stroke-width="2.5"/>
<rect x="479.2" y="1411.6" width="10.2" height="10.2" fill="#ffffff" stroke="#111" stroke-width="2.5"/>
<rect x="484.4" y="1411.6" width="10.2" height="10.2" fill="#ffffff" stroke="#111" stroke-width="2.5"/>
<path d="M154.9 1418.5 L160.1 1418.4 L165.4 1418.4 L170.6 1418.3 L175.8 1418.2 L181 1418.1 L186.3 1417.9 L191.5 1417.7 L196.7 1417.5 L202 1417.2 L207.2 1416.9 L212.4 1416.6 L217.6 1416.3 L222.9 1416.1 L228.1 1415.9 L233.3 1415.8 L238.6 1415.8 L243.8 1415.8 L249 1416 L254.2 1416.1 L259.5 1416.3 L264.7 1416.5 L269.9 1416.6 L275.2 1416.7 L280.4 1416.8 L285.6 1416.8 L290.8 1416.8 L296.1 1416.8 L301.3 1416.8 L306.5 1416.9 L311.8 1416.9 L317 1416.9 L322.2 1416.9 L327.5 1416.9 L332.7 1416.9 L337.9 1416.9 L343.1 1416.9 L348.4 1416.9 L353.6 1416.8 L358.8 1416.8 L364.1 1416.8 L369.3 1416.8 L374.5 1416.8 L379.7 1416.8 L385 1416.8 L390.2 1416.8 L395.4 1416.8 L400.7 1416.8 L405.9 1416.8 L411.1 1416.8 L416.3 1416.8 L421.6 1416.8 L426.8 1416.8 L432 1416.8 L437.3 1416.8 L442.5 1416.8 L447.7 1416.8 L452.9 1416.8 L458.2 1416.8 L463.4 1416.7 L468.6 1416.7 L473.9 1416.7 L479.1 1416.7 L484.3 1416.7 L489.5 1416.7" fill="none" stroke="#111" stroke-width="2.4"/>
<path d="M154.9 1412.1 L160.1 1413.6 L165.4 1414.7 L170.6 1415.1 L175.8 1415 L181 1414.7 L186.3 1414.1 L191.5 1413.2 L196.7 1412 L202 1410.6 L207.2 1408.9 L212.4 1406.4 L217.6 1403.5 L222.9 1400.7 L228.1 1397.8 L233.3 1395.5 L238.6 1393.9 L243.8 1392.9 L249 1392 L254.2 1391.3 L259.5 1390.9 L264.7 1390.6 L269.9 1390.4 L275.2 1390.3 L280.4 1390.2 L285.6 1390.2 L290.8 1390.4 L296.1 1390.7 L301.3 1391.2 L306.5 1391.8 L311.8 1392.5 L317 1393.3 L322.2 1394.2 L327.5 1394.9 L332.7 1395.5 L337.9 1395.9 L343.1 1396.2 L348.4 1396.5 L353.6 1396.7 L358.8 1397 L364.1 1397 L369.3 1396.9 L374.5 1396.4 L379.7 1395.8 L385 1395.1 L390.2 1394.4 L395.4 1393.6 L400.7 1392.8 L405.9 1392 L411.1 1391.3 L416.3 1390.5 L421.6 1389.8 L426.8 1389 L432 1388.2 L437.3 1387.3 L442.5 1386.5 L447.7 1385.7 L452.9 1384.8 L458.2 1384.1 L463.4 1383.5 L468.6 1382.9 L473.9 1382.4 L479.1 1382 L484.3 1381.5 L489.5 1381" fill="none" stroke="#111" stroke-width="2"/>
<circle cx="154.9" cy="1412.1" r="5.7" fill="#0d0d0d"/>
<circle cx="160.1" cy="1413.6" r="5.7" fill="#0d0d0d"/>
<circle cx="165.4" cy="1414.7" r="5.7" fill="#0d0d0d"/>
<circle cx="170.6" cy="1415.1" r="5.7" fill="#0d0d0d"/>
<circle cx="175.8" cy="1415" r="5.7" fill="#0d0d0d"/>
<circle cx="181" cy="1414.7" r="5.7" fill="#0d0d0d"/>
<circle cx="186.3" cy="1414.1" r="5.7" fill="#0d0d0d"/>
<circle cx="191.5" cy="1413.2" r="5.7" fill="#0d0d0d"/>
<circle cx="196.7" cy="1412" r="5.7" fill="#0d0d0d"/>
<circle cx="202" cy="1410.6" r="5.7" fill="#0d0d0d"/>
<circle cx="207.2" cy="1408.9" r="5.7" fill="#0d0d0d"/>
<circle cx="212.4" cy="1406.4" r="5.7" fill="#0d0d0d"/>
<circle cx="217.6" cy="1403.5" r="5.7" fill="#0d0d0d"/>
<circle cx="222.9" cy="1400.7" r="5.7" fill="#0d0d0d"/>
<circle cx="228.1" cy="1397.8" r="5.7" fill="#0d0d0d"/>
<circle cx="233.3" cy="1395.5" r="5.7" fill="#0d0d0d"/>
<circle cx="238.6" cy="1393.9" r="5.7" fill="#0d0d0d"/>
<circle cx="243.8" cy="1392.9" r="5.7" fill="#0d0d0d"/>
<circle cx="249" cy="1392" r="5.7" fill="#0d0d0d"/>
<circle cx="254.2" cy="1391.3" r="5.7" fill="#0d0d0d"/>
<circle cx="259.5" cy="1390.9" r="5.7" fill="#0d0d0d"/>
<circle cx="264.7" cy="1390.6" r="5.7" fill="#0d0d0d"/>
<circle cx="269.9" cy="1390.4" r="5.7" fill="#0d0d0d"/>
<circle cx="275.2" cy="1390.3" r="5.7" fill="#0d0d0d"/>
<circle cx="280.4" cy="1390.2" r="5.7" fill="#0d0d0d"/>
<circle cx="285.6" cy="1390.2" r="5.7" fill="#0d0d0d"/>
<circle cx="290.8" cy="1390.4" r="5.7" fill="#0d0d0d"/>
<circle cx="296.1" cy="1390.7" r="5.7" fill="#0d0d0d"/>
<circle cx="301.3" cy="1391.2" r="5.7" fill="#0d0d0d"/>
<circle cx="306.5" cy="1391.8" r="5.7" fill="#0d0d0d"/>
<circle cx="311.8" cy="1392.5" r="5.7" fill="#0d0d0d"/>
<circle cx="317" cy="1393.3" r="5.7" fill="#0d0d0d"/>
<circle cx="322.2" cy="1394.2" r="5.7" fill="#0d0d0d"/>
<circle cx="327.5" cy="1394.9" r="5.7" fill="#0d0d0d"/>
<circle cx="332.7" cy="1395.5" r="5.7" fill="#0d0d0d"/>
<circle cx="337.9" cy="1395.9" r="5.7" fill="#0d0d0d"/>
<circle cx="343.1" cy="1396.2" r="5.7" fill="#0d0d0d"/>
<circle cx="348.4" cy="1396.5" r="5.7" fill="#0d0d0d"/>
<circle cx="353.6" cy="1396.7" r="5.7" fill="#0d0d0d"/>
<circle cx="358.8" cy="1397" r="5.7" fill="#0d0d0d"/>
<circle cx="364.1" cy="1397" r="5.7" fill="#0d0d0d"/>
<circle cx="369.3" cy="1396.9" r="5.7" fill="#0d0d0d"/>
<circle cx="374.5" cy="1396.4" r="5.7" fill="#0d0d0d"/>
<circle cx="379.7" cy="1395.8" r="5.7" fill="#0d0d0d"/>
<circle cx="385" cy="1395.1" r="5.7" fill="#0d0d0d"/>
<circle cx="390.2" cy="1394.4" r="5.7" fill="#0d0d0d"/>
<circle cx="395.4" cy="1393.6" r="5.7" fill="#0d0d0d"/>
<circle cx="400.7" cy="1392.8" r="5.7" fill="#0d0d0d"/>
<circle cx="405.9" cy="1392" r="5.7" fill="#0d0d0d"/>
<circle cx="411.1" cy="1391.3" r="5.7" fill="#0d0d0d"/>
<circle cx="416.3" cy="1390.5" r="5.7" fill="#0d0d0d"/>
<circle cx="421.6" cy="1389.8" r="5.7" fill="#0d0d0d"/>
<circle cx="426.8" cy="1389" r="5.7" fill="#0d0d0d"/>
<circle cx="432" cy="1388.2" r="5.7" fill="#0d0d0d"/>
<circle cx="437.3" cy="1387.3" r="5.7" fill="#0d0d0d"/>
<circle cx="442.5" cy="1386.5" r="5.7" fill="#0d0d0d"/>
<circle cx="447.7" cy="1385.7" r="5.7" fill="#0d0d0d"/>
<circle cx="452.9" cy="1384.8" r="5.7" fill="#0d0d0d"/>
<circle cx="458.2" cy="1384.1" r="5.7" fill="#0d0d0d"/>
<circle cx="463.4" cy="1383.5" r="5.7" fill="#0d0d0d"/>
<circle cx="468.6" cy="1382.9" r="5.7" fill="#0d0d0d"/>
<circle cx="473.9" cy="1382.4" r="5.7" fill="#0d0d0d"/>
<circle cx="479.1" cy="1382" r="5.7" fill="#0d0d0d"/>
<circle cx="484.3" cy="1381.5" r="5.7" fill="#0d0d0d"/>
<circle cx="489.5" cy="1381" r="5.7" fill="#0d0d0d"/>
<rect x="529.1" y="1414.1" width="10.2" height="10.2" fill="#ffffff" stroke="#111" stroke-width="2.5"/>
<rect x="534.3" y="1414.1" width="10.2" height="10.2" fill="#ffffff" stroke="#111" stroke-width="2.5"/>
<rect x="539.6" y="1414.1" width="10.2" height="10.2" fill="#ffffff" stroke="#111" stroke-width="2.5"/>
<rect x="544.8" y="1414.1" width="10.2" height="10.2" fill="#ffffff" stroke="#111" stroke-width="2.5"/>
<rect x="550" y="1414.1" width="10.2" height="10.2" fill="#ffffff" stroke="#111" stroke-width="2.5"/>
<rect x="555.2" y="1414.1" width="10.2" height="10.2" fill="#ffffff" stroke="#111" stroke-width="2.5"/>
<rect x="560.5" y="1414.1" width="10.2" height="10.2" fill="#ffffff" stroke="#111" stroke-width="2.5"/>
<rect x="565.7" y="1414.1" width="10.2" height="10.2" fill="#ffffff" stroke="#111" stroke-width="2.5"/>
<rect x="570.9" y="1414.1" width="10.2" height="10.2" fill="#ffffff" stroke="#111" stroke-width="2.5"/>
<rect x="576.2" y="1414.1" width="10.2" height="10.2" fill="#ffffff" stroke="#111" stroke-width="2.5"/>
<rect x="581.4" y="1414.1" width="10.2" height="10.2" fill="#ffffff" stroke="#111" stroke-width="2.5"/>
<rect x="586.6" y="1414.1" width="10.2" height="10.2" fill="#ffffff" stroke="#111" stroke-width="2.5"/>
<rect x="591.8" y="1414.1" width="10.2" height="10.2" fill="#ffffff" stroke="#111" stroke-width="2.5"/>
<rect x="597.1" y="1414.1" width="10.2" height="10.2" fill="#ffffff" stroke="#111" stroke-width="2.5"/>
<rect x="602.3" y="1414.1" width="10.2" height="10.2" fill="#ffffff" stroke="#111" stroke-width="2.5"/>
<rect x="607.5" y="1414.1" width="10.2" height="10.2" fill="#ffffff" stroke="#111" stroke-width="2.5"/>
<rect x="612.8" y="1414.1" width="10.2" height="10.2" fill="#ffffff" stroke="#111" stroke-width="2.5"/>
<rect x="618" y="1414.1" width="10.2" height="10.2" fill="#ffffff" stroke="#111" stroke-width="2.5"/>
<rect x="623.2" y="1414.1" width="10.2" height="10.2" fill="#ffffff" stroke="#111" stroke-width="2.5"/>
<rect x="628.4" y="1414.1" width="10.2" height="10.2" fill="#ffffff" stroke="#111" stroke-width="2.5"/>
<rect x="633.7" y="1414.1" width="10.2" height="10.2" fill="#ffffff" stroke="#111" stroke-width="2.5"/>
<rect x="638.9" y="1414.1" width="10.2" height="10.2" fill="#ffffff" stroke="#111" stroke-width="2.5"/>
<rect x="644.1" y="1414.1" width="10.2" height="10.2" fill="#ffffff" stroke="#111" stroke-width="2.5"/>
<rect x="649.4" y="1414.1" width="10.2" height="10.2" fill="#ffffff" stroke="#111" stroke-width="2.5"/>
<rect x="654.6" y="1414.1" width="10.2" height="10.2" fill="#ffffff" stroke="#111" stroke-width="2.5"/>
<rect x="659.8" y="1414.1" width="10.2" height="10.2" fill="#ffffff" stroke="#111" stroke-width="2.5"/>
<rect x="665" y="1414.1" width="10.2" height="10.2" fill="#ffffff" stroke="#111" stroke-width="2.5"/>
<rect x="670.3" y="1414.1" width="10.2" height="10.2" fill="#ffffff" stroke="#111" stroke-width="2.5"/>
<rect x="675.5" y="1414.1" width="10.2" height="10.2" fill="#ffffff" stroke="#111" stroke-width="2.5"/>
<rect x="680.7" y="1414.1" width="10.2" height="10.2" fill="#ffffff" stroke="#111" stroke-width="2.5"/>
<rect x="686" y="1414.1" width="10.2" height="10.2" fill="#ffffff" stroke="#111" stroke-width="2.5"/>
<rect x="691.2" y="1414.1" width="10.2" height="10.2" fill="#ffffff" stroke="#111" stroke-width="2.5"/>
<rect x="696.4" y="1414.1" width="10.2" height="10.2" fill="#ffffff" stroke="#111" stroke-width="2.5"/>
<rect x="701.7" y="1414.1" width="10.2" height="10.2" fill="#ffffff" stroke="#111" stroke-width="2.5"/>
<rect x="706.9" y="1414.1" width="10.2" height="10.2" fill="#ffffff" stroke="#111" stroke-width="2.5"/>
<rect x="712.1" y="1414.1" width="10.2" height="10.2" fill="#ffffff" stroke="#111" stroke-width="2.5"/>
<rect x="717.3" y="1414.1" width="10.2" height="10.2" fill="#ffffff" stroke="#111" stroke-width="2.5"/>
<rect x="722.6" y="1414.1" width="10.2" height="10.2" fill="#ffffff" stroke="#111" stroke-width="2.5"/>
<rect x="727.8" y="1414.1" width="10.2" height="10.2" fill="#ffffff" stroke="#111" stroke-width="2.5"/>
<rect x="733" y="1414.1" width="10.2" height="10.2" fill="#ffffff" stroke="#111" stroke-width="2.5"/>
<rect x="738.3" y="1414.1" width="10.2" height="10.2" fill="#ffffff" stroke="#111" stroke-width="2.5"/>
<rect x="743.5" y="1414.1" width="10.2" height="10.2" fill="#ffffff" stroke="#111" stroke-width="2.5"/>
<rect x="748.7" y="1414.1" width="10.2" height="10.2" fill="#ffffff" stroke="#111" stroke-width="2.5"/>
<rect x="753.9" y="1414.1" width="10.2" height="10.2" fill="#ffffff" stroke="#111" stroke-width="2.5"/>
<rect x="759.2" y="1414.1" width="10.2" height="10.2" fill="#ffffff" stroke="#111" stroke-width="2.5"/>
<rect x="764.4" y="1414.1" width="10.2" height="10.2" fill="#ffffff" stroke="#111" stroke-width="2.5"/>
<rect x="769.6" y="1414.1" width="10.2" height="10.2" fill="#ffffff" stroke="#111" stroke-width="2.5"/>
<rect x="774.9" y="1414.1" width="10.2" height="10.2" fill="#ffffff" stroke="#111" stroke-width="2.5"/>
<rect x="780.1" y="1414.1" width="10.2" height="10.2" fill="#ffffff" stroke="#111" stroke-width="2.5"/>
<rect x="785.3" y="1414.1" width="10.2" height="10.2" fill="#ffffff" stroke="#111" stroke-width="2.5"/>
<rect x="790.5" y="1414.1" width="10.2" height="10.2" fill="#ffffff" stroke="#111" stroke-width="2.5"/>
<rect x="795.8" y="1414.1" width="10.2" height="10.2" fill="#ffffff" stroke="#111" stroke-width="2.5"/>
<rect x="801" y="1414.1" width="10.2" height="10.2" fill="#ffffff" stroke="#111" stroke-width="2.5"/>
<rect x="806.2" y="1414.1" width="10.2" height="10.2" fill="#ffffff" stroke="#111" stroke-width="2.5"/>
<rect x="811.5" y="1414.1" width="10.2" height="10.2" fill="#ffffff" stroke="#111" stroke-width="2.5"/>
<rect x="816.7" y="1414.1" width="10.2" height="10.2" fill="#ffffff" stroke="#111" stroke-width="2.5"/>
<rect x="821.9" y="1414.1" width="10.2" height="10.2" fill="#ffffff" stroke="#111" stroke-width="2.5"/>
<rect x="827.1" y="1414.1" width="10.2" height="10.2" fill="#ffffff" stroke="#111" stroke-width="2.5"/>
<rect x="832.4" y="1414.1" width="10.2" height="10.2" fill="#ffffff" stroke="#111" stroke-width="2.5"/>
<rect x="837.6" y="1414.1" width="10.2" height="10.2" fill="#ffffff" stroke="#111" stroke-width="2.5"/>
<rect x="842.8" y="1414.1" width="10.2" height="10.2" fill="#ffffff" stroke="#111" stroke-width="2.5"/>
<rect x="848.1" y="1414.1" width="10.2" height="10.2" fill="#ffffff" stroke="#111" stroke-width="2.5"/>
<rect x="853.3" y="1414.1" width="10.2" height="10.2" fill="#ffffff" stroke="#111" stroke-width="2.5"/>
<rect x="858.5" y="1414.1" width="10.2" height="10.2" fill="#ffffff" stroke="#111" stroke-width="2.5"/>
<rect x="863.7" y="1414.1" width="10.2" height="10.2" fill="#ffffff" stroke="#111" stroke-width="2.5"/>
<circle cx="534.2" cy="1415.1" r="5.7" fill="#0d0d0d"/>
<circle cx="539.4" cy="1419.1" r="5.7" fill="#0d0d0d"/>
<circle cx="544.7" cy="1419.2" r="5.7" fill="#0d0d0d"/>
<circle cx="549.9" cy="1419.2" r="5.7" fill="#0d0d0d"/>
<circle cx="555.1" cy="1419.3" r="5.7" fill="#0d0d0d"/>
<circle cx="560.3" cy="1419.3" r="5.7" fill="#0d0d0d"/>
<circle cx="565.6" cy="1419.4" r="5.7" fill="#0d0d0d"/>
<circle cx="570.8" cy="1419.4" r="5.7" fill="#0d0d0d"/>
<circle cx="576" cy="1419.4" r="5.7" fill="#0d0d0d"/>
<circle cx="581.3" cy="1419.4" r="5.7" fill="#0d0d0d"/>
<circle cx="586.5" cy="1419.5" r="5.7" fill="#0d0d0d"/>
<circle cx="591.7" cy="1419.5" r="5.7" fill="#0d0d0d"/>
<circle cx="596.9" cy="1419.5" r="5.7" fill="#0d0d0d"/>
<circle cx="602.2" cy="1419.5" r="5.7" fill="#0d0d0d"/>
<circle cx="607.4" cy="1419.5" r="5.7" fill="#0d0d0d"/>
<circle cx="612.6" cy="1419.5" r="5.7" fill="#0d0d0d"/>
<circle cx="617.9" cy="1419.5" r="5.7" fill="#0d0d0d"/>
<circle cx="623.1" cy="1419.6" r="5.7" fill="#0d0d0d"/>
<circle cx="628.3" cy="1419.6" r="5.7" fill="#0d0d0d"/>
<circle cx="633.5" cy="1419.6" r="5.7" fill="#0d0d0d"/>
<circle cx="638.8" cy="1419.6" r="5.7" fill="#0d0d0d"/>
<circle cx="644" cy="1419.6" r="5.7" fill="#0d0d0d"/>
<circle cx="649.2" cy="1419.6" r="5.7" fill="#0d0d0d"/>
<circle cx="654.5" cy="1419.6" r="5.7" fill="#0d0d0d"/>
<circle cx="659.7" cy="1419.6" r="5.7" fill="#0d0d0d"/>
<circle cx="664.9" cy="1419.6" r="5.7" fill="#0d0d0d"/>
<circle cx="670.1" cy="1419.6" r="5.7" fill="#0d0d0d"/>
<circle cx="675.4" cy="1419.6" r="5.7" fill="#0d0d0d"/>
<circle cx="680.6" cy="1419.6" r="5.7" fill="#0d0d0d"/>
<circle cx="685.8" cy="1419.6" r="5.7" fill="#0d0d0d"/>
<circle cx="691.1" cy="1419.6" r="5.7" fill="#0d0d0d"/>
<circle cx="696.3" cy="1419.6" r="5.7" fill="#0d0d0d"/>
<circle cx="701.5" cy="1419.6" r="5.7" fill="#0d0d0d"/>
<circle cx="706.8" cy="1419.6" r="5.7" fill="#0d0d0d"/>
<circle cx="712" cy="1419.6" r="5.7" fill="#0d0d0d"/>
<circle cx="717.2" cy="1419.6" r="5.7" fill="#0d0d0d"/>
<circle cx="722.4" cy="1419.6" r="5.7" fill="#0d0d0d"/>
<circle cx="727.7" cy="1419.6" r="5.7" fill="#0d0d0d"/>
<circle cx="732.9" cy="1419.6" r="5.7" fill="#0d0d0d"/>
<circle cx="738.1" cy="1419.6" r="5.7" fill="#0d0d0d"/>
<circle cx="743.4" cy="1419.6" r="5.7" fill="#0d0d0d"/>
<circle cx="748.6" cy="1419.6" r="5.7" fill="#0d0d0d"/>
<circle cx="753.8" cy="1419.6" r="5.7" fill="#0d0d0d"/>
<circle cx="759" cy="1419.6" r="5.7" fill="#0d0d0d"/>
<circle cx="764.3" cy="1419.6" r="5.7" fill="#0d0d0d"/>
<circle cx="769.5" cy="1419.6" r="5.7" fill="#0d0d0d"/>
<circle cx="774.7" cy="1419.6" r="5.7" fill="#0d0d0d"/>
<circle cx="780" cy="1419.6" r="5.7" fill="#0d0d0d"/>
<circle cx="785.2" cy="1419.6" r="5.7" fill="#0d0d0d"/>
<circle cx="790.4" cy="1419.6" r="5.7" fill="#0d0d0d"/>
<circle cx="795.6" cy="1419.6" r="5.7" fill="#0d0d0d"/>
<circle cx="800.9" cy="1419.6" r="5.7" fill="#0d0d0d"/>
<circle cx="806.1" cy="1419.6" r="5.7" fill="#0d0d0d"/>
<circle cx="811.3" cy="1419.6" r="5.7" fill="#0d0d0d"/>
<circle cx="816.6" cy="1419.6" r="5.7" fill="#0d0d0d"/>
<circle cx="821.8" cy="1419.6" r="5.7" fill="#0d0d0d"/>
<circle cx="827" cy="1419.6" r="5.7" fill="#0d0d0d"/>
<circle cx="832.2" cy="1419.6" r="5.7" fill="#0d0d0d"/>
<circle cx="837.5" cy="1419.6" r="5.7" fill="#0d0d0d"/>
<circle cx="842.7" cy="1419.6" r="5.7" fill="#0d0d0d"/>
<circle cx="847.9" cy="1419.6" r="5.7" fill="#0d0d0d"/>
<circle cx="853.2" cy="1419.6" r="5.7" fill="#0d0d0d"/>
<circle cx="858.4" cy="1419.6" r="5.7" fill="#0d0d0d"/>
<circle cx="863.6" cy="1419.6" r="5.7" fill="#0d0d0d"/>
<circle cx="868.8" cy="1419.6" r="5.7" fill="#0d0d0d"/>
<path d="M154.9 1837.3 L157.5 1834.3 L160.2 1831.3 L162.8 1825.9 L165.4 1819.2 L168.1 1807.7 L170.7 1795.5 L173.3 1776.9 L176 1753.9 L178.6 1730.4 L181.2 1706.6 L183.9 1684.9 L186.5 1663.5 L189.2 1648.2 L191.8 1633.8 L194.4 1625.4 L197.1 1618.8 L199.7 1618.2 L202.3 1618.3 L205 1622.8 L207.6 1628 L210.2 1637 L212.9 1647.1 L215.5 1659.1 L218.1 1671.5 L220.8 1685.3 L223.4 1699.3 L226 1711.8 L228.7 1724.2 L231.3 1735.4 L233.9 1746.3 L236.6 1756.6 L239.2 1766.6 L241.9 1775.5 L244.5 1783.6 L247.1 1789.5 L249.8 1795.3 L252.4 1800.7 L255 1806.1 L257.7 1810.5 L260.3 1814.8 L262.9 1817.9 L265.6 1821 L268.2 1823.1 L270.8 1825.2 L273.5 1826 L276.1 1826.8 L278.7 1827.7 L281.4 1828.5 L284 1828.8 L286.6 1829.1 L289.3 1829.4 L291.9 1829.7 L294.6 1830 L297.2 1830.3 L299.8 1830.4 L302.5 1830.5 L305.1 1830.5 L307.7 1830.6 L310.4 1830.6 L313 1830.7 L315.6 1830.8 L318.3 1830.8 L320.9 1830.9 L323.5 1830.9 L326.2 1830.8 L328.8 1830.7 L331.4 1830.6 L334.1 1830.5 L336.7 1830.4 L339.4 1830.3 L342 1830.2 L344.6 1830.1 L347.3 1829.9 L349.9 1829.6 L352.5 1829.4 L355.2 1829.1 L357.8 1828.9 L360.4 1828.6 L363.1 1828.4 L365.7 1828.1 L368.3 1827.8 L371 1827.5 L373.6 1827.1 L376.2 1826.8 L378.9 1826.5 L381.5 1826.2 L384.1 1825.8 L386.8 1825.5 L389.4 1825.2 L392 1824.9 L394.7 1824.6 L397.3 1824.3 L400 1824 L402.6 1823.7 L405.2 1823.5 L407.9 1823.2 L410.5 1822.9 L413.1 1822.6 L415.8 1822.3 L418.4 1822 L421 1821.8 L423.7 1821.5 L426.3 1821.2 L428.9 1821 L431.6 1820.7 L434.2 1820.5 L436.8 1820.2 L439.5 1819.9 L442.1 1819.7 L444.8 1819.4 L447.4 1819.2 L450 1818.9 L452.7 1818.7 L455.3 1818.4 L457.9 1818.2 L460.6 1817.9 L463.2 1817.7 L465.8 1817.5 L468.5 1817.2 L471.1 1817 L473.7 1816.8 L476.4 1816.6 L479 1816.4 L481.6 1816.2 L484.3 1816 L486.9 1815.8 L486.9 1821.8 L484.3 1822 L481.6 1822.2 L479 1822.4 L476.4 1822.6 L473.7 1822.8 L471.1 1823 L468.5 1823.3 L465.8 1823.5 L463.2 1823.8 L460.6 1824 L457.9 1824.3 L455.3 1824.5 L452.7 1824.7 L450 1825 L447.4 1825.2 L444.8 1825.5 L442.1 1825.7 L439.5 1826 L436.8 1826.3 L434.2 1826.5 L431.6 1826.8 L428.9 1827.1 L426.3 1827.3 L423.7 1827.6 L421 1827.8 L418.4 1828.1 L415.8 1828.4 L413.1 1828.7 L410.5 1829 L407.9 1829.2 L405.2 1829.5 L402.6 1829.8 L400 1830.1 L397.3 1830.4 L394.7 1830.7 L392 1830.9 L389.4 1831.3 L386.8 1831.6 L384.1 1831.9 L381.5 1832.2 L378.9 1832.6 L376.2 1832.9 L373.6 1833.2 L371 1833.5 L368.3 1833.9 L365.7 1834.2 L363.1 1834.4 L360.4 1834.7 L357.8 1834.9 L355.2 1835.2 L352.5 1835.4 L349.9 1835.7 L347.3 1836 L344.6 1836.2 L342 1836.3 L339.4 1836.4 L336.7 1836.5 L334.1 1836.6 L331.4 1836.7 L328.8 1836.8 L326.2 1836.9 L323.5 1837 L320.9 1837 L318.3 1836.9 L315.6 1836.8 L313 1836.8 L310.4 1836.7 L307.7 1836.7 L305.1 1836.6 L302.5 1836.5 L299.8 1836.5 L297.2 1836.4 L294.6 1836.1 L291.9 1835.8 L289.3 1835.5 L286.6 1835.2 L284 1834.9 L281.4 1834.6 L278.7 1833.8 L276.1 1832.9 L273.5 1832.1 L270.8 1831.3 L268.2 1829.2 L265.6 1827.1 L262.9 1824.1 L260.3 1821.2 L257.7 1817 L255 1812.9 L252.4 1807.9 L249.8 1803 L247.1 1798.1 L244.5 1793.3 L241.9 1786.8 L239.2 1779.9 L236.6 1772.6 L233.9 1765.6 L231.3 1758.6 L228.7 1751.8 L226 1744.6 L223.4 1737.4 L220.8 1729.1 L218.1 1720.7 L215.5 1713.3 L212.9 1705.7 L210.2 1699 L207.6 1692.1 L205 1687.6 L202.3 1682.4 L199.7 1680.2 L197.1 1677.4 L194.4 1679.6 L191.8 1683 L189.2 1691.9 L186.5 1701.6 L183.9 1717.6 L181.2 1734.3 L178.6 1753.6 L176 1773.2 L173.3 1792.9 L170.7 1808.9 L168.1 1819 L165.4 1828.9 L162.8 1834.4 L160.2 1839 L157.5 1841.5 L154.9 1843.7Z" fill="#a9d2dc"/>
<rect x="149.8" y="1834.8" width="10.2" height="10.2" fill="#ffffff" stroke="#111" stroke-width="2.5"/>
<rect x="155" y="1834.8" width="10.2" height="10.2" fill="#ffffff" stroke="#111" stroke-width="2.5"/>
<rect x="160.3" y="1834.8" width="10.2" height="10.2" fill="#ffffff" stroke="#111" stroke-width="2.5"/>
<rect x="165.5" y="1834.8" width="10.2" height="10.2" fill="#ffffff" stroke="#111" stroke-width="2.5"/>
<rect x="170.7" y="1834.8" width="10.2" height="10.2" fill="#ffffff" stroke="#111" stroke-width="2.5"/>
<rect x="175.9" y="1834.8" width="10.2" height="10.2" fill="#ffffff" stroke="#111" stroke-width="2.5"/>
<rect x="181.2" y="1834.8" width="10.2" height="10.2" fill="#ffffff" stroke="#111" stroke-width="2.5"/>
<rect x="186.4" y="1834.8" width="10.2" height="10.2" fill="#ffffff" stroke="#111" stroke-width="2.5"/>
<rect x="191.6" y="1834.8" width="10.2" height="10.2" fill="#ffffff" stroke="#111" stroke-width="2.5"/>
<rect x="196.9" y="1834.8" width="10.2" height="10.2" fill="#ffffff" stroke="#111" stroke-width="2.5"/>
<rect x="202.1" y="1834.8" width="10.2" height="10.2" fill="#ffffff" stroke="#111" stroke-width="2.5"/>
<rect x="207.3" y="1834.8" width="10.2" height="10.2" fill="#ffffff" stroke="#111" stroke-width="2.5"/>
<rect x="212.5" y="1834.8" width="10.2" height="10.2" fill="#ffffff" stroke="#111" stroke-width="2.5"/>
<rect x="217.8" y="1834.8" width="10.2" height="10.2" fill="#ffffff" stroke="#111" stroke-width="2.5"/>
<rect x="223" y="1834.8" width="10.2" height="10.2" fill="#ffffff" stroke="#111" stroke-width="2.5"/>
<rect x="228.2" y="1834.8" width="10.2" height="10.2" fill="#ffffff" stroke="#111" stroke-width="2.5"/>
<rect x="233.5" y="1834.8" width="10.2" height="10.2" fill="#ffffff" stroke="#111" stroke-width="2.5"/>
<rect x="238.7" y="1834.8" width="10.2" height="10.2" fill="#ffffff" stroke="#111" stroke-width="2.5"/>
<rect x="243.9" y="1834.8" width="10.2" height="10.2" fill="#ffffff" stroke="#111" stroke-width="2.5"/>
<rect x="249.1" y="1834.8" width="10.2" height="10.2" fill="#ffffff" stroke="#111" stroke-width="2.5"/>
<rect x="254.4" y="1834.8" width="10.2" height="10.2" fill="#ffffff" stroke="#111" stroke-width="2.5"/>
<rect x="259.6" y="1834.8" width="10.2" height="10.2" fill="#ffffff" stroke="#111" stroke-width="2.5"/>
<rect x="264.8" y="1834.8" width="10.2" height="10.2" fill="#ffffff" stroke="#111" stroke-width="2.5"/>
<rect x="270.1" y="1834.8" width="10.2" height="10.2" fill="#ffffff" stroke="#111" stroke-width="2.5"/>
<rect x="275.3" y="1834.8" width="10.2" height="10.2" fill="#ffffff" stroke="#111" stroke-width="2.5"/>
<rect x="280.5" y="1834.8" width="10.2" height="10.2" fill="#ffffff" stroke="#111" stroke-width="2.5"/>
<rect x="285.7" y="1834.8" width="10.2" height="10.2" fill="#ffffff" stroke="#111" stroke-width="2.5"/>
<rect x="291" y="1834.8" width="10.2" height="10.2" fill="#ffffff" stroke="#111" stroke-width="2.5"/>
<rect x="296.2" y="1834.8" width="10.2" height="10.2" fill="#ffffff" stroke="#111" stroke-width="2.5"/>
<rect x="301.4" y="1834.8" width="10.2" height="10.2" fill="#ffffff" stroke="#111" stroke-width="2.5"/>
<rect x="306.7" y="1834.8" width="10.2" height="10.2" fill="#ffffff" stroke="#111" stroke-width="2.5"/>
<rect x="311.9" y="1834.8" width="10.2" height="10.2" fill="#ffffff" stroke="#111" stroke-width="2.5"/>
<rect x="317.1" y="1834.8" width="10.2" height="10.2" fill="#ffffff" stroke="#111" stroke-width="2.5"/>
<rect x="322.4" y="1834.8" width="10.2" height="10.2" fill="#ffffff" stroke="#111" stroke-width="2.5"/>
<rect x="327.6" y="1834.8" width="10.2" height="10.2" fill="#ffffff" stroke="#111" stroke-width="2.5"/>
<rect x="332.8" y="1834.8" width="10.2" height="10.2" fill="#ffffff" stroke="#111" stroke-width="2.5"/>
<rect x="338" y="1834.8" width="10.2" height="10.2" fill="#ffffff" stroke="#111" stroke-width="2.5"/>
<rect x="343.3" y="1834.8" width="10.2" height="10.2" fill="#ffffff" stroke="#111" stroke-width="2.5"/>
<rect x="348.5" y="1834.8" width="10.2" height="10.2" fill="#ffffff" stroke="#111" stroke-width="2.5"/>
<rect x="353.7" y="1834.8" width="10.2" height="10.2" fill="#ffffff" stroke="#111" stroke-width="2.5"/>
<rect x="359" y="1834.8" width="10.2" height="10.2" fill="#ffffff" stroke="#111" stroke-width="2.5"/>
<rect x="364.2" y="1834.8" width="10.2" height="10.2" fill="#ffffff" stroke="#111" stroke-width="2.5"/>
<rect x="369.4" y="1834.8" width="10.2" height="10.2" fill="#ffffff" stroke="#111" stroke-width="2.5"/>
<rect x="374.6" y="1834.8" width="10.2" height="10.2" fill="#ffffff" stroke="#111" stroke-width="2.5"/>
<rect x="379.9" y="1834.8" width="10.2" height="10.2" fill="#ffffff" stroke="#111" stroke-width="2.5"/>
<rect x="385.1" y="1834.8" width="10.2" height="10.2" fill="#ffffff" stroke="#111" stroke-width="2.5"/>
<rect x="390.3" y="1834.8" width="10.2" height="10.2" fill="#ffffff" stroke="#111" stroke-width="2.5"/>
<rect x="395.6" y="1834.8" width="10.2" height="10.2" fill="#ffffff" stroke="#111" stroke-width="2.5"/>
<rect x="400.8" y="1834.8" width="10.2" height="10.2" fill="#ffffff" stroke="#111" stroke-width="2.5"/>
<rect x="406" y="1834.8" width="10.2" height="10.2" fill="#ffffff" stroke="#111" stroke-width="2.5"/>
<rect x="411.2" y="1834.8" width="10.2" height="10.2" fill="#ffffff" stroke="#111" stroke-width="2.5"/>
<rect x="416.5" y="1834.8" width="10.2" height="10.2" fill="#ffffff" stroke="#111" stroke-width="2.5"/>
<rect x="421.7" y="1834.8" width="10.2" height="10.2" fill="#ffffff" stroke="#111" stroke-width="2.5"/>
<rect x="426.9" y="1834.8" width="10.2" height="10.2" fill="#ffffff" stroke="#111" stroke-width="2.5"/>
<rect x="432.2" y="1834.8" width="10.2" height="10.2" fill="#ffffff" stroke="#111" stroke-width="2.5"/>
<rect x="437.4" y="1834.8" width="10.2" height="10.2" fill="#ffffff" stroke="#111" stroke-width="2.5"/>
<rect x="442.6" y="1834.8" width="10.2" height="10.2" fill="#ffffff" stroke="#111" stroke-width="2.5"/>
<rect x="447.8" y="1834.8" width="10.2" height="10.2" fill="#ffffff" stroke="#111" stroke-width="2.5"/>
<rect x="453.1" y="1834.8" width="10.2" height="10.2" fill="#ffffff" stroke="#111" stroke-width="2.5"/>
<rect x="458.3" y="1834.8" width="10.2" height="10.2" fill="#ffffff" stroke="#111" stroke-width="2.5"/>
<rect x="463.5" y="1834.8" width="10.2" height="10.2" fill="#ffffff" stroke="#111" stroke-width="2.5"/>
<rect x="468.8" y="1834.8" width="10.2" height="10.2" fill="#ffffff" stroke="#111" stroke-width="2.5"/>
<rect x="474" y="1834.8" width="10.2" height="10.2" fill="#ffffff" stroke="#111" stroke-width="2.5"/>
<rect x="479.2" y="1834.8" width="10.2" height="10.2" fill="#ffffff" stroke="#111" stroke-width="2.5"/>
<rect x="484.4" y="1834.8" width="10.2" height="10.2" fill="#ffffff" stroke="#111" stroke-width="2.5"/>
<line x1="154.9" y1="1839.9" x2="486.9" y2="1839.9" stroke="#111" stroke-width="2.4"/>
<path d="M154.9 1840.7 L155.6 1840 L156.5 1839.2 L157.7 1838.2 L158.9 1837 L160 1835.7 L161 1834.3 L161.9 1832.9 L162.6 1831.6 L163.4 1830.1 L164.1 1828.3 L164.9 1826.2 L165.7 1823.5 L166.6 1820.2 L167.7 1816.5 L168.7 1812.3 L169.8 1807.8 L170.8 1802.9 L171.8 1797.7 L172.6 1792.1 L173.4 1786 L174.2 1779.6 L174.9 1772.9 L175.7 1766.1 L176.5 1759.3 L177.4 1752.3 L178.2 1745 L179.1 1737.5 L180 1730.2 L180.9 1723 L181.8 1716.1 L182.6 1709.6 L183.5 1703.2 L184.3 1697 L185.1 1691 L186 1685.4 L186.8 1680.3 L187.7 1675.6 L188.6 1671.2 L189.4 1667.2 L190.3 1663.6 L191.2 1660.3 L192 1657.4 L192.8 1654.9 L193.6 1652.8 L194.3 1651.1 L195.1 1649.7 L195.9 1648.7 L196.7 1647.9 L197.6 1647.5 L198.5 1647.5 L199.5 1647.9 L200.4 1648.5 L201.4 1649.3 L202.3 1650.3 L203.3 1651.5 L204.2 1653 L205.2 1654.6 L206.1 1656.5 L207 1658.5 L207.9 1660.7 L208.8 1663 L209.7 1665.6 L210.5 1668.3 L211.4 1671.1 L212.2 1674.1 L213.1 1677.1 L213.9 1680.1 L214.8 1683.3 L215.7 1686.6 L216.6 1689.9 L217.4 1693.3 L218.3 1696.7 L219.2 1700.2 L220 1703.9 L220.9 1707.5 L221.7 1711.2 L222.6 1714.9 L223.4 1718.4 L224.3 1721.8 L225.2 1725.2 L226 1728.5 L226.9 1731.7 L227.8 1734.9 L228.7 1738 L229.5 1741 L230.4 1744 L231.2 1746.8 L232.1 1749.7 L232.9 1752.5 L233.8 1755.4 L234.7 1758.4 L235.6 1761.5 L236.5 1764.5 L237.4 1767.6 L238.4 1770.5 L239.2 1773.2 L240 1775.8 L240.8 1778.3 L241.6 1780.7 L242.3 1783 L243.1 1785.2 L244 1787.4 L244.9 1789.5 L245.8 1791.6 L246.8 1793.5 L247.8 1795.4 L248.8 1797.3 L249.8 1799.2 L250.7 1801 L251.6 1802.8 L252.4 1804.5 L253.3 1806.2 L254.2 1807.9 L255 1809.5 L255.9 1811 L256.8 1812.5 L257.7 1814 L258.5 1815.4 L259.4 1816.7 L260.3 1818 L261.2 1819.2 L262.1 1820.3 L262.9 1821.3 L263.8 1822.3 L264.7 1823.2 L265.6 1824.1 L266.4 1824.9 L267.1 1825.6 L267.9 1826.3 L268.7 1827 L269.7 1827.6 L270.8 1828.2 L272.2 1828.8 L273.8 1829.4 L275.5 1830 L277.3 1830.6 L279.3 1831.1 L281.4 1831.6 L283.6 1832 L285.9 1832.3 L288.3 1832.6 L290.9 1832.9 L293.9 1833.2 L297.2 1833.4 L301 1833.6 L305.4 1833.7 L310 1833.8 L314.8 1833.9 L319.3 1834 L323.5 1834 L327.4 1833.9 L331 1833.9 L334.4 1833.7 L337.8 1833.6 L341.2 1833.4 L344.6 1833.2 L348.1 1832.9 L351.5 1832.6 L354.8 1832.3 L358.3 1832 L361.9 1831.6 L365.7 1831.1 L369.8 1830.7 L374.1 1830.1 L378.5 1829.6 L383.1 1829 L387.6 1828.4 L392 1827.9 L396.4 1827.4 L400.8 1826.9 L405.2 1826.5 L409.6 1826 L414 1825.5 L418.4 1825.1 L422.8 1824.6 L427.2 1824.2 L431.6 1823.7 L436 1823.3 L440.4 1822.9 L444.8 1822.4 L449.3 1822 L453.9 1821.6 L458.6 1821.1 L463.1 1820.7 L467.3 1820.3 L471.1 1820 L474.5 1819.7 L477.7 1819.5 L480.7 1819.3 L483.2 1819.1 L485.3 1818.9 L486.9 1818.8" fill="none" stroke="#111" stroke-width="2.2"/>
<circle cx="154.9" cy="1840.7" r="5.3" fill="none" stroke="#111" stroke-width="1.6"/>
<circle cx="160.1" cy="1835.2" r="5.3" fill="none" stroke="#111" stroke-width="1.6"/>
<circle cx="165.4" cy="1824.3" r="5.3" fill="none" stroke="#111" stroke-width="1.6"/>
<circle cx="170.6" cy="1802.7" r="5.3" fill="none" stroke="#111" stroke-width="1.6"/>
<circle cx="175.8" cy="1764.9" r="5.3" fill="none" stroke="#111" stroke-width="1.6"/>
<circle cx="181" cy="1722.1" r="5.3" fill="none" stroke="#111" stroke-width="1.6"/>
<circle cx="186.3" cy="1684.3" r="5.3" fill="none" stroke="#111" stroke-width="1.6"/>
<circle cx="191.5" cy="1659.6" r="5.3" fill="none" stroke="#111" stroke-width="1.6"/>
<circle cx="196.7" cy="1647.9" r="5.3" fill="none" stroke="#111" stroke-width="1.6"/>
<circle cx="202" cy="1650.2" r="5.3" fill="none" stroke="#111" stroke-width="1.6"/>
<circle cx="207.2" cy="1659.3" r="5.3" fill="none" stroke="#111" stroke-width="1.6"/>
<circle cx="212.4" cy="1675" r="5.3" fill="none" stroke="#111" stroke-width="1.6"/>
<circle cx="217.6" cy="1694.3" r="5.3" fill="none" stroke="#111" stroke-width="1.6"/>
<circle cx="222.9" cy="1716.1" r="5.3" fill="none" stroke="#111" stroke-width="1.6"/>
<circle cx="228.1" cy="1735.9" r="5.3" fill="none" stroke="#111" stroke-width="1.6"/>
<circle cx="233.3" cy="1753.9" r="5.3" fill="none" stroke="#111" stroke-width="1.6"/>
<circle cx="238.6" cy="1771.1" r="5.3" fill="none" stroke="#111" stroke-width="1.6"/>
<circle cx="243.8" cy="1786.9" r="5.3" fill="none" stroke="#111" stroke-width="1.6"/>
<circle cx="249" cy="1797.7" r="5.3" fill="none" stroke="#111" stroke-width="1.6"/>
<circle cx="254.2" cy="1807.9" r="5.3" fill="none" stroke="#111" stroke-width="1.6"/>
<circle cx="259.5" cy="1816.7" r="5.3" fill="none" stroke="#111" stroke-width="1.6"/>
<circle cx="264.7" cy="1823.1" r="5.3" fill="none" stroke="#111" stroke-width="1.6"/>
<circle cx="269.9" cy="1827.5" r="5.3" fill="none" stroke="#111" stroke-width="1.6"/>
<circle cx="275.2" cy="1829.6" r="5.3" fill="none" stroke="#111" stroke-width="1.6"/>
<circle cx="280.4" cy="1831.2" r="5.3" fill="none" stroke="#111" stroke-width="1.6"/>
<circle cx="285.6" cy="1832" r="5.3" fill="none" stroke="#111" stroke-width="1.6"/>
<circle cx="290.8" cy="1832.6" r="5.3" fill="none" stroke="#111" stroke-width="1.6"/>
<circle cx="296.1" cy="1833.2" r="5.3" fill="none" stroke="#111" stroke-width="1.6"/>
<circle cx="301.3" cy="1833.5" r="5.3" fill="none" stroke="#111" stroke-width="1.6"/>
<circle cx="306.5" cy="1833.6" r="5.3" fill="none" stroke="#111" stroke-width="1.6"/>
<circle cx="311.8" cy="1833.7" r="5.3" fill="none" stroke="#111" stroke-width="1.6"/>
<circle cx="317" cy="1833.8" r="5.3" fill="none" stroke="#111" stroke-width="1.6"/>
<circle cx="322.2" cy="1834" r="5.3" fill="none" stroke="#111" stroke-width="1.6"/>
<circle cx="327.5" cy="1833.8" r="5.3" fill="none" stroke="#111" stroke-width="1.6"/>
<circle cx="332.7" cy="1833.6" r="5.3" fill="none" stroke="#111" stroke-width="1.6"/>
<circle cx="337.9" cy="1833.4" r="5.3" fill="none" stroke="#111" stroke-width="1.6"/>
<circle cx="343.1" cy="1833.2" r="5.3" fill="none" stroke="#111" stroke-width="1.6"/>
<circle cx="348.4" cy="1832.8" r="5.3" fill="none" stroke="#111" stroke-width="1.6"/>
<circle cx="353.6" cy="1832.3" r="5.3" fill="none" stroke="#111" stroke-width="1.6"/>
<circle cx="358.8" cy="1831.8" r="5.3" fill="none" stroke="#111" stroke-width="1.6"/>
<circle cx="364.1" cy="1831.3" r="5.3" fill="none" stroke="#111" stroke-width="1.6"/>
<circle cx="369.3" cy="1830.7" r="5.3" fill="none" stroke="#111" stroke-width="1.6"/>
<circle cx="374.5" cy="1830.1" r="5.3" fill="none" stroke="#111" stroke-width="1.6"/>
<circle cx="379.7" cy="1829.4" r="5.3" fill="none" stroke="#111" stroke-width="1.6"/>
<circle cx="385" cy="1828.8" r="5.3" fill="none" stroke="#111" stroke-width="1.6"/>
<circle cx="390.2" cy="1828.1" r="5.3" fill="none" stroke="#111" stroke-width="1.6"/>
<circle cx="395.4" cy="1827.5" r="5.3" fill="none" stroke="#111" stroke-width="1.6"/>
<circle cx="400.7" cy="1827" r="5.3" fill="none" stroke="#111" stroke-width="1.6"/>
<circle cx="405.9" cy="1826.4" r="5.3" fill="none" stroke="#111" stroke-width="1.6"/>
<circle cx="411.1" cy="1825.9" r="5.3" fill="none" stroke="#111" stroke-width="1.6"/>
<circle cx="416.3" cy="1825.3" r="5.3" fill="none" stroke="#111" stroke-width="1.6"/>
<circle cx="421.6" cy="1824.8" r="5.3" fill="none" stroke="#111" stroke-width="1.6"/>
<circle cx="426.8" cy="1824.2" r="5.3" fill="none" stroke="#111" stroke-width="1.6"/>
<circle cx="432" cy="1823.7" r="5.3" fill="none" stroke="#111" stroke-width="1.6"/>
<circle cx="437.3" cy="1823.2" r="5.3" fill="none" stroke="#111" stroke-width="1.6"/>
<circle cx="442.5" cy="1822.7" r="5.3" fill="none" stroke="#111" stroke-width="1.6"/>
<circle cx="447.7" cy="1822.2" r="5.3" fill="none" stroke="#111" stroke-width="1.6"/>
<circle cx="452.9" cy="1821.7" r="5.3" fill="none" stroke="#111" stroke-width="1.6"/>
<circle cx="458.2" cy="1821.2" r="5.3" fill="none" stroke="#111" stroke-width="1.6"/>
<circle cx="463.4" cy="1820.7" r="5.3" fill="none" stroke="#111" stroke-width="1.6"/>
<circle cx="468.6" cy="1820.2" r="5.3" fill="none" stroke="#111" stroke-width="1.6"/>
<circle cx="473.9" cy="1819.8" r="5.3" fill="none" stroke="#111" stroke-width="1.6"/>
<circle cx="479.1" cy="1819.4" r="5.3" fill="none" stroke="#111" stroke-width="1.6"/>
<circle cx="484.3" cy="1819" r="5.3" fill="none" stroke="#111" stroke-width="1.6"/>
<circle cx="489.5" cy="1818.8" r="5.3" fill="none" stroke="#111" stroke-width="1.6"/>
<rect x="529.1" y="1834.8" width="10.2" height="10.2" fill="#ffffff" stroke="#111" stroke-width="2.5"/>
<rect x="534.3" y="1834.8" width="10.2" height="10.2" fill="#ffffff" stroke="#111" stroke-width="2.5"/>
<rect x="539.6" y="1834.8" width="10.2" height="10.2" fill="#ffffff" stroke="#111" stroke-width="2.5"/>
<rect x="544.8" y="1834.8" width="10.2" height="10.2" fill="#ffffff" stroke="#111" stroke-width="2.5"/>
<rect x="550" y="1834.8" width="10.2" height="10.2" fill="#ffffff" stroke="#111" stroke-width="2.5"/>
<rect x="555.2" y="1834.8" width="10.2" height="10.2" fill="#ffffff" stroke="#111" stroke-width="2.5"/>
<rect x="560.5" y="1834.8" width="10.2" height="10.2" fill="#ffffff" stroke="#111" stroke-width="2.5"/>
<rect x="565.7" y="1834.8" width="10.2" height="10.2" fill="#ffffff" stroke="#111" stroke-width="2.5"/>
<rect x="570.9" y="1834.8" width="10.2" height="10.2" fill="#ffffff" stroke="#111" stroke-width="2.5"/>
<rect x="576.2" y="1834.8" width="10.2" height="10.2" fill="#ffffff" stroke="#111" stroke-width="2.5"/>
<rect x="581.4" y="1834.8" width="10.2" height="10.2" fill="#ffffff" stroke="#111" stroke-width="2.5"/>
<rect x="586.6" y="1834.8" width="10.2" height="10.2" fill="#ffffff" stroke="#111" stroke-width="2.5"/>
<rect x="591.8" y="1834.8" width="10.2" height="10.2" fill="#ffffff" stroke="#111" stroke-width="2.5"/>
<rect x="597.1" y="1834.8" width="10.2" height="10.2" fill="#ffffff" stroke="#111" stroke-width="2.5"/>
<rect x="602.3" y="1834.8" width="10.2" height="10.2" fill="#ffffff" stroke="#111" stroke-width="2.5"/>
<rect x="607.5" y="1834.8" width="10.2" height="10.2" fill="#ffffff" stroke="#111" stroke-width="2.5"/>
<rect x="612.8" y="1834.8" width="10.2" height="10.2" fill="#ffffff" stroke="#111" stroke-width="2.5"/>
<rect x="618" y="1834.8" width="10.2" height="10.2" fill="#ffffff" stroke="#111" stroke-width="2.5"/>
<rect x="623.2" y="1834.8" width="10.2" height="10.2" fill="#ffffff" stroke="#111" stroke-width="2.5"/>
<rect x="628.4" y="1834.8" width="10.2" height="10.2" fill="#ffffff" stroke="#111" stroke-width="2.5"/>
<rect x="633.7" y="1834.8" width="10.2" height="10.2" fill="#ffffff" stroke="#111" stroke-width="2.5"/>
<rect x="638.9" y="1834.8" width="10.2" height="10.2" fill="#ffffff" stroke="#111" stroke-width="2.5"/>
<rect x="644.1" y="1834.8" width="10.2" height="10.2" fill="#ffffff" stroke="#111" stroke-width="2.5"/>
<rect x="649.4" y="1834.8" width="10.2" height="10.2" fill="#ffffff" stroke="#111" stroke-width="2.5"/>
<rect x="654.6" y="1834.8" width="10.2" height="10.2" fill="#ffffff" stroke="#111" stroke-width="2.5"/>
<rect x="659.8" y="1834.8" width="10.2" height="10.2" fill="#ffffff" stroke="#111" stroke-width="2.5"/>
<rect x="665" y="1834.8" width="10.2" height="10.2" fill="#ffffff" stroke="#111" stroke-width="2.5"/>
<rect x="670.3" y="1834.8" width="10.2" height="10.2" fill="#ffffff" stroke="#111" stroke-width="2.5"/>
<rect x="675.5" y="1834.8" width="10.2" height="10.2" fill="#ffffff" stroke="#111" stroke-width="2.5"/>
<rect x="680.7" y="1834.8" width="10.2" height="10.2" fill="#ffffff" stroke="#111" stroke-width="2.5"/>
<rect x="686" y="1834.8" width="10.2" height="10.2" fill="#ffffff" stroke="#111" stroke-width="2.5"/>
<rect x="691.2" y="1834.8" width="10.2" height="10.2" fill="#ffffff" stroke="#111" stroke-width="2.5"/>
<rect x="696.4" y="1834.8" width="10.2" height="10.2" fill="#ffffff" stroke="#111" stroke-width="2.5"/>
<rect x="701.7" y="1834.8" width="10.2" height="10.2" fill="#ffffff" stroke="#111" stroke-width="2.5"/>
<rect x="706.9" y="1834.8" width="10.2" height="10.2" fill="#ffffff" stroke="#111" stroke-width="2.5"/>
<rect x="712.1" y="1834.8" width="10.2" height="10.2" fill="#ffffff" stroke="#111" stroke-width="2.5"/>
<rect x="717.3" y="1834.8" width="10.2" height="10.2" fill="#ffffff" stroke="#111" stroke-width="2.5"/>
<rect x="722.6" y="1834.8" width="10.2" height="10.2" fill="#ffffff" stroke="#111" stroke-width="2.5"/>
<rect x="727.8" y="1834.8" width="10.2" height="10.2" fill="#ffffff" stroke="#111" stroke-width="2.5"/>
<rect x="733" y="1834.8" width="10.2" height="10.2" fill="#ffffff" stroke="#111" stroke-width="2.5"/>
<rect x="738.3" y="1834.8" width="10.2" height="10.2" fill="#ffffff" stroke="#111" stroke-width="2.5"/>
<rect x="743.5" y="1834.8" width="10.2" height="10.2" fill="#ffffff" stroke="#111" stroke-width="2.5"/>
<rect x="748.7" y="1834.8" width="10.2" height="10.2" fill="#ffffff" stroke="#111" stroke-width="2.5"/>
<rect x="753.9" y="1834.8" width="10.2" height="10.2" fill="#ffffff" stroke="#111" stroke-width="2.5"/>
<rect x="759.2" y="1834.8" width="10.2" height="10.2" fill="#ffffff" stroke="#111" stroke-width="2.5"/>
<rect x="764.4" y="1834.8" width="10.2" height="10.2" fill="#ffffff" stroke="#111" stroke-width="2.5"/>
<rect x="769.6" y="1834.8" width="10.2" height="10.2" fill="#ffffff" stroke="#111" stroke-width="2.5"/>
<rect x="774.9" y="1834.8" width="10.2" height="10.2" fill="#ffffff" stroke="#111" stroke-width="2.5"/>
<rect x="780.1" y="1834.8" width="10.2" height="10.2" fill="#ffffff" stroke="#111" stroke-width="2.5"/>
<rect x="785.3" y="1834.8" width="10.2" height="10.2" fill="#ffffff" stroke="#111" stroke-width="2.5"/>
<rect x="790.5" y="1834.8" width="10.2" height="10.2" fill="#ffffff" stroke="#111" stroke-width="2.5"/>
<rect x="795.8" y="1834.8" width="10.2" height="10.2" fill="#ffffff" stroke="#111" stroke-width="2.5"/>
<rect x="801" y="1834.8" width="10.2" height="10.2" fill="#ffffff" stroke="#111" stroke-width="2.5"/>
<rect x="806.2" y="1834.8" width="10.2" height="10.2" fill="#ffffff" stroke="#111" stroke-width="2.5"/>
<rect x="811.5" y="1834.8" width="10.2" height="10.2" fill="#ffffff" stroke="#111" stroke-width="2.5"/>
<rect x="816.7" y="1834.8" width="10.2" height="10.2" fill="#ffffff" stroke="#111" stroke-width="2.5"/>
<rect x="821.9" y="1834.8" width="10.2" height="10.2" fill="#ffffff" stroke="#111" stroke-width="2.5"/>
<rect x="827.1" y="1834.8" width="10.2" height="10.2" fill="#ffffff" stroke="#111" stroke-width="2.5"/>
<rect x="832.4" y="1834.8" width="10.2" height="10.2" fill="#ffffff" stroke="#111" stroke-width="2.5"/>
<rect x="837.6" y="1834.8" width="10.2" height="10.2" fill="#ffffff" stroke="#111" stroke-width="2.5"/>
<rect x="842.8" y="1834.8" width="10.2" height="10.2" fill="#ffffff" stroke="#111" stroke-width="2.5"/>
<rect x="848.1" y="1834.8" width="10.2" height="10.2" fill="#ffffff" stroke="#111" stroke-width="2.5"/>
<rect x="853.3" y="1834.8" width="10.2" height="10.2" fill="#ffffff" stroke="#111" stroke-width="2.5"/>
<rect x="858.5" y="1834.8" width="10.2" height="10.2" fill="#ffffff" stroke="#111" stroke-width="2.5"/>
<rect x="863.7" y="1834.8" width="10.2" height="10.2" fill="#ffffff" stroke="#111" stroke-width="2.5"/>
<line x1="534.2" y1="1839.9" x2="866.2" y2="1839.9" stroke="#111" stroke-width="2.4"/>
<circle cx="534.2" cy="1840.1" r="4.5" fill="none" stroke="#111" stroke-width="1.2"/>
<circle cx="539.4" cy="1840.1" r="4.5" fill="none" stroke="#111" stroke-width="1.2"/>
<circle cx="544.7" cy="1840.1" r="4.5" fill="none" stroke="#111" stroke-width="1.2"/>
<circle cx="549.9" cy="1840.1" r="4.5" fill="none" stroke="#111" stroke-width="1.2"/>
<circle cx="555.1" cy="1840.1" r="4.5" fill="none" stroke="#111" stroke-width="1.2"/>
<circle cx="560.3" cy="1840.1" r="4.5" fill="none" stroke="#111" stroke-width="1.2"/>
<circle cx="565.6" cy="1840.1" r="4.5" fill="none" stroke="#111" stroke-width="1.2"/>
<circle cx="570.8" cy="1840.1" r="4.5" fill="none" stroke="#111" stroke-width="1.2"/>
<circle cx="576" cy="1840.1" r="4.5" fill="none" stroke="#111" stroke-width="1.2"/>
<circle cx="581.3" cy="1840.1" r="4.5" fill="none" stroke="#111" stroke-width="1.2"/>
<circle cx="586.5" cy="1840.1" r="4.5" fill="none" stroke="#111" stroke-width="1.2"/>
<circle cx="591.7" cy="1840.1" r="4.5" fill="none" stroke="#111" stroke-width="1.2"/>
<circle cx="596.9" cy="1840.1" r="4.5" fill="none" stroke="#111" stroke-width="1.2"/>
<circle cx="602.2" cy="1840.1" r="4.5" fill="none" stroke="#111" stroke-width="1.2"/>
<circle cx="607.4" cy="1840.1" r="4.5" fill="none" stroke="#111" stroke-width="1.2"/>
<circle cx="612.6" cy="1840.1" r="4.5" fill="none" stroke="#111" stroke-width="1.2"/>
<circle cx="617.9" cy="1840.1" r="4.5" fill="none" stroke="#111" stroke-width="1.2"/>
<circle cx="623.1" cy="1840.1" r="4.5" fill="none" stroke="#111" stroke-width="1.2"/>
<circle cx="628.3" cy="1840.1" r="4.5" fill="none" stroke="#111" stroke-width="1.2"/>
<circle cx="633.5" cy="1840.1" r="4.5" fill="none" stroke="#111" stroke-width="1.2"/>
<circle cx="638.8" cy="1840.1" r="4.5" fill="none" stroke="#111" stroke-width="1.2"/>
<circle cx="644" cy="1840.1" r="4.5" fill="none" stroke="#111" stroke-width="1.2"/>
<circle cx="649.2" cy="1840.1" r="4.5" fill="none" stroke="#111" stroke-width="1.2"/>
<circle cx="654.5" cy="1840.1" r="4.5" fill="none" stroke="#111" stroke-width="1.2"/>
<circle cx="659.7" cy="1840.1" r="4.5" fill="none" stroke="#111" stroke-width="1.2"/>
<circle cx="664.9" cy="1840.1" r="4.5" fill="none" stroke="#111" stroke-width="1.2"/>
<circle cx="670.1" cy="1840.1" r="4.5" fill="none" stroke="#111" stroke-width="1.2"/>
<circle cx="675.4" cy="1840.1" r="4.5" fill="none" stroke="#111" stroke-width="1.2"/>
<circle cx="680.6" cy="1840.1" r="4.5" fill="none" stroke="#111" stroke-width="1.2"/>
<circle cx="685.8" cy="1840.1" r="4.5" fill="none" stroke="#111" stroke-width="1.2"/>
<circle cx="691.1" cy="1840.1" r="4.5" fill="none" stroke="#111" stroke-width="1.2"/>
<circle cx="696.3" cy="1840.1" r="4.5" fill="none" stroke="#111" stroke-width="1.2"/>
<circle cx="701.5" cy="1840.1" r="4.5" fill="none" stroke="#111" stroke-width="1.2"/>
<circle cx="706.8" cy="1840.1" r="4.5" fill="none" stroke="#111" stroke-width="1.2"/>
<circle cx="712" cy="1840.1" r="4.5" fill="none" stroke="#111" stroke-width="1.2"/>
<circle cx="717.2" cy="1840.1" r="4.5" fill="none" stroke="#111" stroke-width="1.2"/>
<circle cx="722.4" cy="1840.1" r="4.5" fill="none" stroke="#111" stroke-width="1.2"/>
<circle cx="727.7" cy="1840.1" r="4.5" fill="none" stroke="#111" stroke-width="1.2"/>
<circle cx="732.9" cy="1840.1" r="4.5" fill="none" stroke="#111" stroke-width="1.2"/>
<circle cx="738.1" cy="1840.1" r="4.5" fill="none" stroke="#111" stroke-width="1.2"/>
<circle cx="743.4" cy="1840.1" r="4.5" fill="none" stroke="#111" stroke-width="1.2"/>
<circle cx="748.6" cy="1840.1" r="4.5" fill="none" stroke="#111" stroke-width="1.2"/>
<circle cx="753.8" cy="1840.1" r="4.5" fill="none" stroke="#111" stroke-width="1.2"/>
<circle cx="759" cy="1840.1" r="4.5" fill="none" stroke="#111" stroke-width="1.2"/>
<circle cx="764.3" cy="1840.1" r="4.5" fill="none" stroke="#111" stroke-width="1.2"/>
<circle cx="769.5" cy="1840.1" r="4.5" fill="none" stroke="#111" stroke-width="1.2"/>
<circle cx="774.7" cy="1840.1" r="4.5" fill="none" stroke="#111" stroke-width="1.2"/>
<circle cx="780" cy="1840.1" r="4.5" fill="none" stroke="#111" stroke-width="1.2"/>
<circle cx="785.2" cy="1840.1" r="4.5" fill="none" stroke="#111" stroke-width="1.2"/>
<circle cx="790.4" cy="1840.1" r="4.5" fill="none" stroke="#111" stroke-width="1.2"/>
<circle cx="795.6" cy="1840.1" r="4.5" fill="none" stroke="#111" stroke-width="1.2"/>
<circle cx="800.9" cy="1840.1" r="4.5" fill="none" stroke="#111" stroke-width="1.2"/>
<circle cx="806.1" cy="1840.1" r="4.5" fill="none" stroke="#111" stroke-width="1.2"/>
<circle cx="811.3" cy="1840.1" r="4.5" fill="none" stroke="#111" stroke-width="1.2"/>
<circle cx="816.6" cy="1840.1" r="4.5" fill="none" stroke="#111" stroke-width="1.2"/>
<circle cx="821.8" cy="1840.1" r="4.5" fill="none" stroke="#111" stroke-width="1.2"/>
<circle cx="827" cy="1840.1" r="4.5" fill="none" stroke="#111" stroke-width="1.2"/>
<circle cx="832.2" cy="1840.1" r="4.5" fill="none" stroke="#111" stroke-width="1.2"/>
<circle cx="837.5" cy="1840.1" r="4.5" fill="none" stroke="#111" stroke-width="1.2"/>
<circle cx="842.7" cy="1840.1" r="4.5" fill="none" stroke="#111" stroke-width="1.2"/>
<circle cx="847.9" cy="1840.1" r="4.5" fill="none" stroke="#111" stroke-width="1.2"/>
<circle cx="853.2" cy="1840.1" r="4.5" fill="none" stroke="#111" stroke-width="1.2"/>
<circle cx="858.4" cy="1840.1" r="4.5" fill="none" stroke="#111" stroke-width="1.2"/>
<circle cx="863.6" cy="1840.1" r="4.5" fill="none" stroke="#111" stroke-width="1.2"/>
<circle cx="868.8" cy="1840.1" r="4.5" fill="none" stroke="#111" stroke-width="1.2"/>
<rect x="754.9" y="1148.4" width="35.7" height="35.3" fill="#dadada"/>
<rect x="754.9" y="1188" width="35.7" height="35.2" fill="#aed3dc"/>
<rect x="768.3" y="1161.7" width="8.7" height="8.4" fill="#e6e6e6" stroke="#111" stroke-width="1.6"/>
<circle cx="772.7" cy="1205.1" r="5.3" fill="#0d0d0d"/>
<text x="805" y="1172.9" font-size="19.5" textLength="47" lengthAdjust="spacingAndGlyphs">mock</text>
<text x="805.5" y="1212.9" font-size="19.5" textLength="43.5" lengthAdjust="spacingAndGlyphs">L148</text>
<rect x="139.8" y="1080.3" width="363.5" height="364.5" fill="none" stroke="#1a1a1a" stroke-width="2.6"/>
<rect x="520" y="1080.3" width="363" height="364.5" fill="none" stroke="#1a1a1a" stroke-width="2.6"/>
<rect x="136.5" y="1467.1" width="367.2" height="390.3" fill="none" stroke="#1a1a1a" stroke-width="2.6"/>
<rect x="520.5" y="1468.1" width="366.8" height="389.3" fill="none" stroke="#1a1a1a" stroke-width="2.6"/>
<text x="1070" y="1022.6" font-size="52" font-weight="bold">f</text>
<text x="1338.2" y="1058.3" font-size="37" text-anchor="middle" textLength="86" lengthAdjust="spacingAndGlyphs">Col-0</text>
<text x="1721.7" y="1058.3" font-size="37" text-anchor="middle" font-style="italic" textLength="102" lengthAdjust="spacingAndGlyphs">rbohD</text>
<text x="1131" y="1104.5" font-size="28" text-anchor="end" textLength="33" lengthAdjust="spacingAndGlyphs">10</text>
<text x="1131" y="1268.6" font-size="28" text-anchor="end" textLength="16.5" lengthAdjust="spacingAndGlyphs">5</text>
<text x="1131" y="1440" font-size="28" text-anchor="end" textLength="16.5" lengthAdjust="spacingAndGlyphs">0</text>
<text x="1125" y="1501.7" font-size="28" text-anchor="end" textLength="33" lengthAdjust="spacingAndGlyphs">10</text>
<text x="1131" y="1665.7" font-size="28" text-anchor="end" textLength="16.5" lengthAdjust="spacingAndGlyphs">5</text>
<text x="1131" y="1837.2" font-size="28" text-anchor="end" textLength="16.5" lengthAdjust="spacingAndGlyphs">0</text>
<text x="1170.4" y="1898" font-size="27" text-anchor="middle" textLength="16" lengthAdjust="spacingAndGlyphs">0</text>
<text x="1278" y="1898" font-size="27" text-anchor="middle" textLength="16" lengthAdjust="spacingAndGlyphs">1</text>
<text x="1385.1" y="1898" font-size="27" text-anchor="middle" textLength="16" lengthAdjust="spacingAndGlyphs">2</text>
<text x="1490" y="1898" font-size="27" text-anchor="middle" textLength="16" lengthAdjust="spacingAndGlyphs">3</text>
<text x="1563" y="1898" font-size="27" text-anchor="middle" textLength="16" lengthAdjust="spacingAndGlyphs">0</text>
<text x="1671.1" y="1898" font-size="27" text-anchor="middle" textLength="16" lengthAdjust="spacingAndGlyphs">1</text>
<text x="1777.7" y="1898" font-size="27" text-anchor="middle" textLength="16" lengthAdjust="spacingAndGlyphs">2</text>
<text x="1882.6" y="1898" font-size="27" text-anchor="middle" textLength="16" lengthAdjust="spacingAndGlyphs">3</text>
<text x="1528" y="1954" font-size="37" text-anchor="middle" textLength="50" lengthAdjust="spacingAndGlyphs">dpi</text>
<text transform="translate(1042 1454) rotate(-90) scale(1.05 1)" font-size="37" text-anchor="middle">log<tspan font-size="22" dy="7">10</tspan><tspan dy="-7">(cfu/mg)</tspan></text>
<text transform="translate(1930.3 1266.6) rotate(90)" font-size="35" text-anchor="middle" textLength="185" lengthAdjust="spacingAndGlyphs">endophytic</text>
<text transform="translate(1930.3 1659) rotate(90)" font-size="35" text-anchor="middle" textLength="73" lengthAdjust="spacingAndGlyphs">total</text>
<path d="M1168.3 1426 L1276.4 1351.3 L1384.5 1343 L1492.6 1346.3 L1492.6 1382.8 L1384.5 1399.4 L1276.4 1440.9 L1168.3 1426Z" fill="#bed5ed"/>
<line x1="1168.3" y1="1426" x2="1500.6" y2="1426" stroke="#808080" stroke-width="3.4"/>
<path d="M1168.3 1426 L1173.5 1424.4 L1180.1 1422.4 L1187.7 1420 L1196.3 1417.2 L1205.7 1414.3 L1215.6 1411.2 L1225.9 1408.1 L1236.4 1404.9 L1246.8 1401.8 L1257.1 1398.9 L1267 1396.2 L1276.4 1393.8 L1285.4 1391.6 L1294.4 1389.5 L1303.4 1387.4 L1312.4 1385.4 L1321.4 1383.5 L1330.4 1381.7 L1339.5 1379.9 L1348.5 1378.2 L1357.5 1376.7 L1366.5 1375.2 L1375.5 1373.8 L1384.5 1372.5 L1393.9 1371.4 L1403.8 1370.4 L1414.1 1369.4 L1424.5 1368.6 L1435 1367.9 L1445.3 1367.2 L1455.2 1366.7 L1464.6 1366.2 L1473.2 1365.7 L1480.8 1365.3 L1487.4 1364.9 L1492.6 1364.6" fill="none" stroke="#878787" stroke-width="3.2"/>
<ellipse cx="1276.4" cy="1426" rx="11.8" ry="5.6" fill="#0d0d0d"/>
<circle cx="1270.5" cy="1426" r="1.1" fill="#777"/>
<circle cx="1276.4" cy="1426" r="1.1" fill="#777"/>
<circle cx="1282.3" cy="1426" r="1.1" fill="#777"/>
<circle cx="1276.4" cy="1426" r="10" fill="none" stroke="#222" stroke-width="1.3"/>
<ellipse cx="1384.5" cy="1426" rx="11.1" ry="5.6" fill="#0d0d0d"/>
<circle cx="1379" cy="1426" r="1.1" fill="#777"/>
<circle cx="1384.5" cy="1426" r="1.1" fill="#777"/>
<circle cx="1390" cy="1426" r="1.1" fill="#777"/>
<circle cx="1384.5" cy="1426" r="10" fill="none" stroke="#222" stroke-width="1.3"/>
<ellipse cx="1494.6" cy="1426" rx="13.9" ry="5.6" fill="#0d0d0d"/>
<circle cx="1487.6" cy="1426" r="1.1" fill="#777"/>
<circle cx="1494.6" cy="1426" r="1.1" fill="#777"/>
<circle cx="1501.5" cy="1426" r="1.1" fill="#777"/>
<circle cx="1492.6" cy="1426" r="10" fill="none" stroke="#222" stroke-width="1.3"/>
<circle cx="1275.2" cy="1296.5" r="4.3" fill="none" stroke="#111" stroke-width="1.4"/>
<circle cx="1278" cy="1296.5" r="4.3" fill="none" stroke="#111" stroke-width="1.4"/>
<circle cx="1395.5" cy="1319.8" r="4.3" fill="none" stroke="#111" stroke-width="1.4"/>
<circle cx="1383.6" cy="1353" r="4.3" fill="none" stroke="#111" stroke-width="1.4"/>
<circle cx="1384.7" cy="1359.6" r="4.3" fill="none" stroke="#111" stroke-width="1.4"/>
<circle cx="1386.8" cy="1356.3" r="4.3" fill="none" stroke="#111" stroke-width="1.4"/>
<circle cx="1376.3" cy="1392.8" r="4.3" fill="none" stroke="#111" stroke-width="1.4"/>
<circle cx="1492.9" cy="1296.5" r="4.3" fill="none" stroke="#111" stroke-width="1.4"/>
<circle cx="1496" cy="1319.8" r="4.3" fill="none" stroke="#111" stroke-width="1.4"/>
<circle cx="1500.2" cy="1329.7" r="4.3" fill="none" stroke="#111" stroke-width="1.4"/>
<circle cx="1482" cy="1333" r="4.3" fill="none" stroke="#111" stroke-width="1.4"/>
<circle cx="1487.5" cy="1336.4" r="4.3" fill="none" stroke="#111" stroke-width="1.4"/>
<circle cx="1482" cy="1339.7" r="4.3" fill="none" stroke="#111" stroke-width="1.4"/>
<circle cx="1500.7" cy="1346.3" r="4.3" fill="none" stroke="#111" stroke-width="1.4"/>
<circle cx="1497.6" cy="1353" r="4.3" fill="none" stroke="#111" stroke-width="1.4"/>
<circle cx="1480.7" cy="1359.6" r="4.3" fill="none" stroke="#111" stroke-width="1.4"/>
<circle cx="1505.1" cy="1366.2" r="4.3" fill="none" stroke="#111" stroke-width="1.4"/>
<circle cx="1504.7" cy="1389.5" r="4.3" fill="none" stroke="#111" stroke-width="1.4"/>
<circle cx="1496.6" cy="1396.1" r="4.3" fill="none" stroke="#111" stroke-width="1.4"/>
<circle cx="1495.6" cy="1399.4" r="4.3" fill="none" stroke="#111" stroke-width="1.4"/>
<circle cx="1168.3" cy="1426" r="9.6" fill="#0d0d0d"/>
<line x1="1276.4" y1="1351.3" x2="1276.4" y2="1436" stroke="#111" stroke-width="2.2"/>
<line x1="1265.4" y1="1351.3" x2="1287.4" y2="1351.3" stroke="#111" stroke-width="2.4"/>
<line x1="1265.4" y1="1436" x2="1287.4" y2="1436" stroke="#111" stroke-width="2.4"/>
<circle cx="1276.4" cy="1393.8" r="9.6" fill="#0d0d0d"/>
<line x1="1384.5" y1="1344.3" x2="1384.5" y2="1399.8" stroke="#111" stroke-width="2.2"/>
<line x1="1373.5" y1="1344.3" x2="1395.5" y2="1344.3" stroke="#111" stroke-width="2.4"/>
<line x1="1373.5" y1="1399.8" x2="1395.5" y2="1399.8" stroke="#111" stroke-width="2.4"/>
<circle cx="1384.5" cy="1372.5" r="9.6" fill="#0d0d0d"/>
<line x1="1492.6" y1="1347.6" x2="1492.6" y2="1382.2" stroke="#111" stroke-width="2.2"/>
<line x1="1481.6" y1="1347.6" x2="1503.6" y2="1347.6" stroke="#111" stroke-width="2.4"/>
<line x1="1481.6" y1="1382.2" x2="1503.6" y2="1382.2" stroke="#111" stroke-width="2.4"/>
<circle cx="1492.6" cy="1364.6" r="9.6" fill="#0d0d0d"/>
<path d="M1559.8 1426 L1667.9 1386.2 L1776 1344.7 L1884.1 1298.2 L1884.1 1333 L1776 1394.5 L1667.9 1426 L1559.8 1426Z" fill="#ddd5b9"/>
<line x1="1559.8" y1="1426" x2="1892.1" y2="1426" stroke="#808080" stroke-width="3.4"/>
<path d="M1559.8 1426 L1565 1425 L1571.6 1423.8 L1579.2 1422.4 L1587.8 1420.9 L1597.2 1419.2 L1607.1 1417.3 L1617.4 1415.4 L1627.9 1413.3 L1638.3 1411.2 L1648.6 1409 L1658.5 1406.7 L1667.9 1404.4 L1676.9 1402.1 L1685.9 1399.7 L1694.9 1397.3 L1703.9 1394.8 L1712.9 1392.3 L1721.9 1389.6 L1731 1386.8 L1740 1383.9 L1749 1380.8 L1758 1377.6 L1767 1374.2 L1776 1370.6 L1785.4 1366.5 L1795.3 1362 L1805.6 1357 L1816 1351.7 L1826.5 1346.3 L1836.8 1340.9 L1846.7 1335.6 L1856.1 1330.5 L1864.7 1325.8 L1872.3 1321.7 L1878.9 1318.2 L1884.1 1315.4" fill="none" stroke="#878787" stroke-width="3.2"/>
<ellipse cx="1667.9" cy="1426" rx="11.8" ry="5.6" fill="#0d0d0d"/>
<circle cx="1662" cy="1426" r="1.1" fill="#777"/>
<circle cx="1667.9" cy="1426" r="1.1" fill="#777"/>
<circle cx="1673.8" cy="1426" r="1.1" fill="#777"/>
<circle cx="1667.9" cy="1426" r="10" fill="none" stroke="#222" stroke-width="1.3"/>
<ellipse cx="1776" cy="1426" rx="11.8" ry="5.6" fill="#0d0d0d"/>
<circle cx="1770.1" cy="1426" r="1.1" fill="#777"/>
<circle cx="1776" cy="1426" r="1.1" fill="#777"/>
<circle cx="1781.9" cy="1426" r="1.1" fill="#777"/>
<circle cx="1776" cy="1426" r="10" fill="none" stroke="#222" stroke-width="1.3"/>
<ellipse cx="1886.1" cy="1426" rx="13.9" ry="5.6" fill="#0d0d0d"/>
<circle cx="1879.1" cy="1426" r="1.1" fill="#777"/>
<circle cx="1886.1" cy="1426" r="1.1" fill="#777"/>
<circle cx="1893" cy="1426" r="1.1" fill="#777"/>
<circle cx="1884.1" cy="1426" r="10" fill="none" stroke="#222" stroke-width="1.3"/>
<circle cx="1659" cy="1376.2" r="4.3" fill="none" stroke="#111" stroke-width="1.4"/>
<circle cx="1655.3" cy="1374.5" r="4.3" fill="none" stroke="#111" stroke-width="1.4"/>
<circle cx="1668.6" cy="1377.9" r="4.3" fill="none" stroke="#111" stroke-width="1.4"/>
<circle cx="1656.4" cy="1382.8" r="4.3" fill="none" stroke="#111" stroke-width="1.4"/>
<circle cx="1659.8" cy="1389.5" r="4.3" fill="none" stroke="#111" stroke-width="1.4"/>
<circle cx="1769.3" cy="1326.4" r="4.3" fill="none" stroke="#111" stroke-width="1.4"/>
<circle cx="1763.8" cy="1346.3" r="4.3" fill="none" stroke="#111" stroke-width="1.4"/>
<circle cx="1775.1" cy="1349.6" r="4.3" fill="none" stroke="#111" stroke-width="1.4"/>
<circle cx="1774.5" cy="1359.6" r="4.3" fill="none" stroke="#111" stroke-width="1.4"/>
<circle cx="1784.9" cy="1362.9" r="4.3" fill="none" stroke="#111" stroke-width="1.4"/>
<circle cx="1776.5" cy="1372.9" r="4.3" fill="none" stroke="#111" stroke-width="1.4"/>
<circle cx="1887.7" cy="1230.1" r="4.3" fill="none" stroke="#111" stroke-width="1.4"/>
<circle cx="1884.1" cy="1260" r="4.3" fill="none" stroke="#111" stroke-width="1.4"/>
<circle cx="1888.3" cy="1270" r="4.3" fill="none" stroke="#111" stroke-width="1.4"/>
<circle cx="1883" cy="1276.6" r="4.3" fill="none" stroke="#111" stroke-width="1.4"/>
<circle cx="1878.3" cy="1283.2" r="4.3" fill="none" stroke="#111" stroke-width="1.4"/>
<circle cx="1897" cy="1286.6" r="4.3" fill="none" stroke="#111" stroke-width="1.4"/>
<circle cx="1897" cy="1296.5" r="4.3" fill="none" stroke="#111" stroke-width="1.4"/>
<circle cx="1892.9" cy="1306.5" r="4.3" fill="none" stroke="#111" stroke-width="1.4"/>
<circle cx="1889.5" cy="1313.1" r="4.3" fill="none" stroke="#111" stroke-width="1.4"/>
<circle cx="1879.3" cy="1319.8" r="4.3" fill="none" stroke="#111" stroke-width="1.4"/>
<circle cx="1877.1" cy="1326.4" r="4.3" fill="none" stroke="#111" stroke-width="1.4"/>
<circle cx="1878.6" cy="1333" r="4.3" fill="none" stroke="#111" stroke-width="1.4"/>
<circle cx="1872.9" cy="1339.7" r="4.3" fill="none" stroke="#111" stroke-width="1.4"/>
<circle cx="1891" cy="1346.3" r="4.3" fill="none" stroke="#111" stroke-width="1.4"/>
<circle cx="1881.5" cy="1372.9" r="4.3" fill="none" stroke="#111" stroke-width="1.4"/>
<circle cx="1893.1" cy="1372.9" r="4.3" fill="none" stroke="#111" stroke-width="1.4"/>
<circle cx="1559.8" cy="1426" r="9.6" fill="#0d0d0d"/>
<line x1="1667.9" y1="1384.8" x2="1667.9" y2="1426" stroke="#111" stroke-width="2.2"/>
<line x1="1656.9" y1="1384.8" x2="1678.9" y2="1384.8" stroke="#111" stroke-width="2.4"/>
<line x1="1656.9" y1="1426" x2="1678.9" y2="1426" stroke="#111" stroke-width="2.4"/>
<circle cx="1667.9" cy="1404.4" r="9.6" fill="#0d0d0d"/>
<line x1="1776" y1="1344.3" x2="1776" y2="1396.5" stroke="#111" stroke-width="2.2"/>
<line x1="1765" y1="1344.3" x2="1787" y2="1344.3" stroke="#111" stroke-width="2.4"/>
<line x1="1765" y1="1396.5" x2="1787" y2="1396.5" stroke="#111" stroke-width="2.4"/>
<circle cx="1776" cy="1370.6" r="9.6" fill="#0d0d0d"/>
<line x1="1884.1" y1="1294.2" x2="1884.1" y2="1338.4" stroke="#111" stroke-width="2.2"/>
<line x1="1873.1" y1="1294.2" x2="1895.1" y2="1294.2" stroke="#111" stroke-width="2.4"/>
<line x1="1873.1" y1="1338.4" x2="1895.1" y2="1338.4" stroke="#111" stroke-width="2.4"/>
<circle cx="1884.1" cy="1315.4" r="9.6" fill="#0d0d0d"/>
<circle cx="1166.5" cy="1426" r="9.5" fill="#0d0d0d"/>
<circle cx="1175.6" cy="1426" r="9.5" fill="#0d0d0d"/>
<circle cx="1173.9" cy="1426" r="9.5" fill="#0d0d0d"/>
<circle cx="1160.3" cy="1426" r="9.5" fill="#0d0d0d"/>
<circle cx="1163.7" cy="1426" r="9.5" fill="#0d0d0d"/>
<circle cx="1174.9" cy="1426" r="9.5" fill="#0d0d0d"/>
<circle cx="1167.8" cy="1426" r="9.5" fill="#0d0d0d"/>
<circle cx="1176" cy="1426" r="9.5" fill="#0d0d0d"/>
<circle cx="1166.7" cy="1426" r="9.5" fill="#0d0d0d"/>
<circle cx="1553" cy="1426" r="9.5" fill="#0d0d0d"/>
<circle cx="1561.9" cy="1426" r="9.5" fill="#0d0d0d"/>
<circle cx="1564.3" cy="1426" r="9.5" fill="#0d0d0d"/>
<circle cx="1556.1" cy="1426" r="9.5" fill="#0d0d0d"/>
<circle cx="1553.2" cy="1426" r="9.5" fill="#0d0d0d"/>
<circle cx="1557.1" cy="1426" r="9.5" fill="#0d0d0d"/>
<circle cx="1567.2" cy="1426" r="9.5" fill="#0d0d0d"/>
<circle cx="1563.9" cy="1426" r="9.5" fill="#0d0d0d"/>
<circle cx="1553.7" cy="1426" r="9.5" fill="#0d0d0d"/>
<path d="M1168.3 1696.5 L1276.4 1659.7 L1384.5 1631.2 L1492.6 1609.5 L1492.6 1639.6 L1384.5 1641.3 L1276.4 1679.8 L1168.3 1720Z" fill="#bed5ed"/>
<line x1="1168.3" y1="1827.2" x2="1500.6" y2="1827.2" stroke="#808080" stroke-width="3.4"/>
<path d="M1168.3 1707.9 L1173.5 1705.9 L1180.1 1703.3 L1187.7 1700.2 L1196.3 1696.8 L1205.7 1693.1 L1215.6 1689.2 L1225.9 1685.1 L1236.4 1681.1 L1246.8 1677.1 L1257.1 1673.2 L1267 1669.7 L1276.4 1666.4 L1285.4 1663.3 L1294.4 1660.3 L1303.4 1657.3 L1312.4 1654.3 L1321.4 1651.4 L1330.4 1648.6 L1339.5 1645.9 L1348.5 1643.3 L1357.5 1640.9 L1366.5 1638.6 L1375.5 1636.5 L1384.5 1634.6 L1393.9 1632.9 L1403.8 1631.3 L1414.1 1630 L1424.5 1628.7 L1435 1627.7 L1445.3 1626.7 L1455.2 1625.9 L1464.6 1625.1 L1473.2 1624.5 L1480.8 1623.9 L1487.4 1623.4 L1492.6 1622.9" fill="none" stroke="#878787" stroke-width="3.2"/>
<ellipse cx="1170.3" cy="1827.2" rx="13.9" ry="5.6" fill="#0d0d0d"/>
<circle cx="1163.3" cy="1827.2" r="1.1" fill="#777"/>
<circle cx="1170.3" cy="1827.2" r="1.1" fill="#777"/>
<circle cx="1177.2" cy="1827.2" r="1.1" fill="#777"/>
<circle cx="1168.3" cy="1827.2" r="10" fill="none" stroke="#222" stroke-width="1.3"/>
<ellipse cx="1276.4" cy="1827.2" rx="11.1" ry="5.6" fill="#0d0d0d"/>
<circle cx="1270.8" cy="1827.2" r="1.1" fill="#777"/>
<circle cx="1276.4" cy="1827.2" r="1.1" fill="#777"/>
<circle cx="1281.9" cy="1827.2" r="1.1" fill="#777"/>
<circle cx="1276.4" cy="1827.2" r="10" fill="none" stroke="#222" stroke-width="1.3"/>
<ellipse cx="1384.5" cy="1827.2" rx="11.8" ry="5.6" fill="#0d0d0d"/>
<circle cx="1378.6" cy="1827.2" r="1.1" fill="#777"/>
<circle cx="1384.5" cy="1827.2" r="1.1" fill="#777"/>
<circle cx="1390.4" cy="1827.2" r="1.1" fill="#777"/>
<circle cx="1384.5" cy="1827.2" r="10" fill="none" stroke="#222" stroke-width="1.3"/>
<ellipse cx="1494.6" cy="1827.2" rx="13.9" ry="5.6" fill="#0d0d0d"/>
<circle cx="1487.6" cy="1827.2" r="1.1" fill="#777"/>
<circle cx="1494.6" cy="1827.2" r="1.1" fill="#777"/>
<circle cx="1501.5" cy="1827.2" r="1.1" fill="#777"/>
<circle cx="1492.6" cy="1827.2" r="10" fill="none" stroke="#222" stroke-width="1.3"/>
<circle cx="1161.7" cy="1673.1" r="4.3" fill="none" stroke="#111" stroke-width="1.4"/>
<circle cx="1157.9" cy="1683.2" r="4.3" fill="none" stroke="#111" stroke-width="1.4"/>
<circle cx="1156.9" cy="1686.5" r="4.3" fill="none" stroke="#111" stroke-width="1.4"/>
<circle cx="1176" cy="1693.2" r="4.3" fill="none" stroke="#111" stroke-width="1.4"/>
<circle cx="1159.9" cy="1696.5" r="4.3" fill="none" stroke="#111" stroke-width="1.4"/>
<circle cx="1169.8" cy="1703.2" r="4.3" fill="none" stroke="#111" stroke-width="1.4"/>
<circle cx="1166.9" cy="1710" r="4.3" fill="none" stroke="#111" stroke-width="1.4"/>
<circle cx="1160.3" cy="1716.7" r="4.3" fill="none" stroke="#111" stroke-width="1.4"/>
<circle cx="1174.3" cy="1720" r="4.3" fill="none" stroke="#111" stroke-width="1.4"/>
<circle cx="1158.7" cy="1723.4" r="4.3" fill="none" stroke="#111" stroke-width="1.4"/>
<circle cx="1172" cy="1726.7" r="4.3" fill="none" stroke="#111" stroke-width="1.4"/>
<circle cx="1158.3" cy="1733.4" r="4.3" fill="none" stroke="#111" stroke-width="1.4"/>
<circle cx="1166.2" cy="1743.5" r="4.3" fill="none" stroke="#111" stroke-width="1.4"/>
<circle cx="1268.9" cy="1646.3" r="4.3" fill="none" stroke="#111" stroke-width="1.4"/>
<circle cx="1270.4" cy="1649.7" r="4.3" fill="none" stroke="#111" stroke-width="1.4"/>
<circle cx="1288.6" cy="1656.4" r="4.3" fill="none" stroke="#111" stroke-width="1.4"/>
<circle cx="1284.3" cy="1659.7" r="4.3" fill="none" stroke="#111" stroke-width="1.4"/>
<circle cx="1271.3" cy="1669.8" r="4.3" fill="none" stroke="#111" stroke-width="1.4"/>
<circle cx="1286.4" cy="1676.5" r="4.3" fill="none" stroke="#111" stroke-width="1.4"/>
<circle cx="1268.9" cy="1686.5" r="4.3" fill="none" stroke="#111" stroke-width="1.4"/>
<circle cx="1273.7" cy="1693.2" r="4.3" fill="none" stroke="#111" stroke-width="1.4"/>
<circle cx="1285.6" cy="1696.5" r="4.3" fill="none" stroke="#111" stroke-width="1.4"/>
<circle cx="1388.2" cy="1627.9" r="4.3" fill="none" stroke="#111" stroke-width="1.4"/>
<circle cx="1374.1" cy="1631.2" r="4.3" fill="none" stroke="#111" stroke-width="1.4"/>
<circle cx="1397.2" cy="1632.9" r="4.3" fill="none" stroke="#111" stroke-width="1.4"/>
<circle cx="1377" cy="1636.2" r="4.3" fill="none" stroke="#111" stroke-width="1.4"/>
<circle cx="1378.2" cy="1639.6" r="4.3" fill="none" stroke="#111" stroke-width="1.4"/>
<circle cx="1391.6" cy="1643" r="4.3" fill="none" stroke="#111" stroke-width="1.4"/>
<circle cx="1488.2" cy="1569.2" r="4.3" fill="none" stroke="#111" stroke-width="1.4"/>
<circle cx="1487.3" cy="1576" r="4.3" fill="none" stroke="#111" stroke-width="1.4"/>
<circle cx="1481.5" cy="1582.7" r="4.3" fill="none" stroke="#111" stroke-width="1.4"/>
<circle cx="1481.9" cy="1589.4" r="4.3" fill="none" stroke="#111" stroke-width="1.4"/>
<circle cx="1494.8" cy="1592.7" r="4.3" fill="none" stroke="#111" stroke-width="1.4"/>
<circle cx="1485.9" cy="1602.8" r="4.3" fill="none" stroke="#111" stroke-width="1.4"/>
<circle cx="1495.2" cy="1609.5" r="4.3" fill="none" stroke="#111" stroke-width="1.4"/>
<circle cx="1489.3" cy="1616.2" r="4.3" fill="none" stroke="#111" stroke-width="1.4"/>
<circle cx="1491.4" cy="1622.9" r="4.3" fill="none" stroke="#111" stroke-width="1.4"/>
<circle cx="1504.5" cy="1629.5" r="4.3" fill="none" stroke="#111" stroke-width="1.4"/>
<circle cx="1492.2" cy="1639.6" r="4.3" fill="none" stroke="#111" stroke-width="1.4"/>
<circle cx="1494.5" cy="1646.3" r="4.3" fill="none" stroke="#111" stroke-width="1.4"/>
<circle cx="1502.1" cy="1649.7" r="4.3" fill="none" stroke="#111" stroke-width="1.4"/>
<circle cx="1484.4" cy="1656.4" r="4.3" fill="none" stroke="#111" stroke-width="1.4"/>
<circle cx="1483.6" cy="1659.7" r="4.3" fill="none" stroke="#111" stroke-width="1.4"/>
<circle cx="1503.2" cy="1679.8" r="4.3" fill="none" stroke="#111" stroke-width="1.4"/>
<line x1="1168.3" y1="1696.5" x2="1168.3" y2="1716.7" stroke="#111" stroke-width="2.2"/>
<line x1="1157.3" y1="1696.5" x2="1179.3" y2="1696.5" stroke="#111" stroke-width="2.4"/>
<line x1="1157.3" y1="1716.7" x2="1179.3" y2="1716.7" stroke="#111" stroke-width="2.4"/>
<circle cx="1168.3" cy="1707.9" r="9.6" fill="#0d0d0d"/>
<line x1="1276.4" y1="1653" x2="1276.4" y2="1683.2" stroke="#111" stroke-width="2.2"/>
<line x1="1265.4" y1="1653" x2="1287.4" y2="1653" stroke="#111" stroke-width="2.4"/>
<line x1="1265.4" y1="1683.2" x2="1287.4" y2="1683.2" stroke="#111" stroke-width="2.4"/>
<circle cx="1276.4" cy="1666.4" r="9.6" fill="#0d0d0d"/>
<line x1="1384.5" y1="1627.9" x2="1384.5" y2="1641.3" stroke="#111" stroke-width="2.2"/>
<line x1="1373.5" y1="1627.9" x2="1395.5" y2="1627.9" stroke="#111" stroke-width="2.4"/>
<line x1="1373.5" y1="1641.3" x2="1395.5" y2="1641.3" stroke="#111" stroke-width="2.4"/>
<circle cx="1384.5" cy="1634.6" r="9.6" fill="#0d0d0d"/>
<line x1="1492.6" y1="1607.8" x2="1492.6" y2="1639.6" stroke="#111" stroke-width="2.2"/>
<line x1="1481.6" y1="1607.8" x2="1503.6" y2="1607.8" stroke="#111" stroke-width="2.4"/>
<line x1="1481.6" y1="1639.6" x2="1503.6" y2="1639.6" stroke="#111" stroke-width="2.4"/>
<circle cx="1492.6" cy="1622.9" r="9.6" fill="#0d0d0d"/>
<path d="M1559.8 1711.6 L1667.9 1659.7 L1776 1629.5 L1884.1 1581 L1884.1 1604.4 L1776 1653 L1667.9 1679.8 L1559.8 1725Z" fill="#ddd5b9"/>
<line x1="1559.8" y1="1827.2" x2="1892.1" y2="1827.2" stroke="#808080" stroke-width="3.4"/>
<path d="M1559.8 1718 L1565 1715.6 L1571.6 1712.4 L1579.2 1708.7 L1587.8 1704.5 L1597.2 1700 L1607.1 1695.3 L1617.4 1690.4 L1627.9 1685.6 L1638.3 1681 L1648.6 1676.6 L1658.5 1672.6 L1667.9 1669.1 L1676.9 1666.1 L1685.9 1663.5 L1694.9 1661.2 L1703.9 1659.1 L1712.9 1657.2 L1721.9 1655.3 L1731 1653.4 L1740 1651.4 L1749 1649.3 L1758 1647 L1767 1644.3 L1776 1641.3 L1785.4 1637.7 L1795.3 1633.6 L1805.6 1629 L1816 1624.2 L1826.5 1619.3 L1836.8 1614.2 L1846.7 1609.3 L1856.1 1604.6 L1864.7 1600.3 L1872.3 1596.5 L1878.9 1593.2 L1884.1 1590.7" fill="none" stroke="#878787" stroke-width="3.2"/>
<ellipse cx="1561.8" cy="1827.2" rx="13.9" ry="5.6" fill="#0d0d0d"/>
<circle cx="1554.8" cy="1827.2" r="1.1" fill="#777"/>
<circle cx="1561.8" cy="1827.2" r="1.1" fill="#777"/>
<circle cx="1568.8" cy="1827.2" r="1.1" fill="#777"/>
<circle cx="1559.8" cy="1827.2" r="10" fill="none" stroke="#222" stroke-width="1.3"/>
<ellipse cx="1667.9" cy="1827.2" rx="11.8" ry="5.6" fill="#0d0d0d"/>
<circle cx="1662" cy="1827.2" r="1.1" fill="#777"/>
<circle cx="1667.9" cy="1827.2" r="1.1" fill="#777"/>
<circle cx="1673.8" cy="1827.2" r="1.1" fill="#777"/>
<circle cx="1667.9" cy="1827.2" r="10" fill="none" stroke="#222" stroke-width="1.3"/>
<ellipse cx="1776" cy="1827.2" rx="11.8" ry="5.6" fill="#0d0d0d"/>
<circle cx="1770.1" cy="1827.2" r="1.1" fill="#777"/>
<circle cx="1776" cy="1827.2" r="1.1" fill="#777"/>
<circle cx="1781.9" cy="1827.2" r="1.1" fill="#777"/>
<circle cx="1776" cy="1827.2" r="10" fill="none" stroke="#222" stroke-width="1.3"/>
<ellipse cx="1886.1" cy="1827.2" rx="13.9" ry="5.6" fill="#0d0d0d"/>
<circle cx="1879.1" cy="1827.2" r="1.1" fill="#777"/>
<circle cx="1886.1" cy="1827.2" r="1.1" fill="#777"/>
<circle cx="1893" cy="1827.2" r="1.1" fill="#777"/>
<circle cx="1884.1" cy="1827.2" r="10" fill="none" stroke="#222" stroke-width="1.3"/>
<circle cx="1568.1" cy="1703.2" r="4.3" fill="none" stroke="#111" stroke-width="1.4"/>
<circle cx="1553.3" cy="1706.6" r="4.3" fill="none" stroke="#111" stroke-width="1.4"/>
<circle cx="1551.7" cy="1710" r="4.3" fill="none" stroke="#111" stroke-width="1.4"/>
<circle cx="1566" cy="1716.7" r="4.3" fill="none" stroke="#111" stroke-width="1.4"/>
<circle cx="1571.3" cy="1720" r="4.3" fill="none" stroke="#111" stroke-width="1.4"/>
<circle cx="1551.9" cy="1723.4" r="4.3" fill="none" stroke="#111" stroke-width="1.4"/>
<circle cx="1571.5" cy="1726.7" r="4.3" fill="none" stroke="#111" stroke-width="1.4"/>
<circle cx="1569.7" cy="1730" r="4.3" fill="none" stroke="#111" stroke-width="1.4"/>
<circle cx="1562.5" cy="1736.8" r="4.3" fill="none" stroke="#111" stroke-width="1.4"/>
<circle cx="1665.9" cy="1649.7" r="4.3" fill="none" stroke="#111" stroke-width="1.4"/>
<circle cx="1657.6" cy="1653" r="4.3" fill="none" stroke="#111" stroke-width="1.4"/>
<circle cx="1655.9" cy="1663" r="4.3" fill="none" stroke="#111" stroke-width="1.4"/>
<circle cx="1679.9" cy="1669.8" r="4.3" fill="none" stroke="#111" stroke-width="1.4"/>
<circle cx="1661.1" cy="1676.5" r="4.3" fill="none" stroke="#111" stroke-width="1.4"/>
<circle cx="1673.2" cy="1686.5" r="4.3" fill="none" stroke="#111" stroke-width="1.4"/>
<circle cx="1661.6" cy="1699.9" r="4.3" fill="none" stroke="#111" stroke-width="1.4"/>
<circle cx="1784.4" cy="1606.1" r="4.3" fill="none" stroke="#111" stroke-width="1.4"/>
<circle cx="1778.5" cy="1626.2" r="4.3" fill="none" stroke="#111" stroke-width="1.4"/>
<circle cx="1770.6" cy="1632.9" r="4.3" fill="none" stroke="#111" stroke-width="1.4"/>
<circle cx="1767.6" cy="1639.6" r="4.3" fill="none" stroke="#111" stroke-width="1.4"/>
<circle cx="1781.7" cy="1646.3" r="4.3" fill="none" stroke="#111" stroke-width="1.4"/>
<circle cx="1764.8" cy="1653" r="4.3" fill="none" stroke="#111" stroke-width="1.4"/>
<circle cx="1768.9" cy="1666.4" r="4.3" fill="none" stroke="#111" stroke-width="1.4"/>
<circle cx="1777.5" cy="1676.5" r="4.3" fill="none" stroke="#111" stroke-width="1.4"/>
<circle cx="1893.3" cy="1545.8" r="4.3" fill="none" stroke="#111" stroke-width="1.4"/>
<circle cx="1887.1" cy="1549.2" r="4.3" fill="none" stroke="#111" stroke-width="1.4"/>
<circle cx="1878.4" cy="1555.9" r="4.3" fill="none" stroke="#111" stroke-width="1.4"/>
<circle cx="1895" cy="1559.2" r="4.3" fill="none" stroke="#111" stroke-width="1.4"/>
<circle cx="1876.4" cy="1562.5" r="4.3" fill="none" stroke="#111" stroke-width="1.4"/>
<circle cx="1871.5" cy="1572.6" r="4.3" fill="none" stroke="#111" stroke-width="1.4"/>
<circle cx="1878.1" cy="1582.7" r="4.3" fill="none" stroke="#111" stroke-width="1.4"/>
<circle cx="1882.7" cy="1592.7" r="4.3" fill="none" stroke="#111" stroke-width="1.4"/>
<circle cx="1872.7" cy="1599.4" r="4.3" fill="none" stroke="#111" stroke-width="1.4"/>
<circle cx="1875.7" cy="1606.1" r="4.3" fill="none" stroke="#111" stroke-width="1.4"/>
<circle cx="1880.7" cy="1612.8" r="4.3" fill="none" stroke="#111" stroke-width="1.4"/>
<circle cx="1886" cy="1619.5" r="4.3" fill="none" stroke="#111" stroke-width="1.4"/>
<circle cx="1874.5" cy="1626.2" r="4.3" fill="none" stroke="#111" stroke-width="1.4"/>
<circle cx="1880.5" cy="1639.6" r="4.3" fill="none" stroke="#111" stroke-width="1.4"/>
<circle cx="1894.3" cy="1666.4" r="4.3" fill="none" stroke="#111" stroke-width="1.4"/>
<line x1="1559.8" y1="1713.3" x2="1559.8" y2="1723.4" stroke="#111" stroke-width="2.2"/>
<line x1="1548.8" y1="1713.3" x2="1570.8" y2="1713.3" stroke="#111" stroke-width="2.4"/>
<line x1="1548.8" y1="1723.4" x2="1570.8" y2="1723.4" stroke="#111" stroke-width="2.4"/>
<circle cx="1559.8" cy="1718" r="9.6" fill="#0d0d0d"/>
<line x1="1667.9" y1="1656.4" x2="1667.9" y2="1686.5" stroke="#111" stroke-width="2.2"/>
<line x1="1656.9" y1="1656.4" x2="1678.9" y2="1656.4" stroke="#111" stroke-width="2.4"/>
<line x1="1656.9" y1="1686.5" x2="1678.9" y2="1686.5" stroke="#111" stroke-width="2.4"/>
<circle cx="1667.9" cy="1669.1" r="9.6" fill="#0d0d0d"/>
<line x1="1776" y1="1627.9" x2="1776" y2="1658" stroke="#111" stroke-width="2.2"/>
<line x1="1765" y1="1627.9" x2="1787" y2="1627.9" stroke="#111" stroke-width="2.4"/>
<line x1="1765" y1="1658" x2="1787" y2="1658" stroke="#111" stroke-width="2.4"/>
<circle cx="1776" cy="1641.3" r="9.6" fill="#0d0d0d"/>
<line x1="1884.1" y1="1574.3" x2="1884.1" y2="1607.8" stroke="#111" stroke-width="2.2"/>
<line x1="1873.1" y1="1574.3" x2="1895.1" y2="1574.3" stroke="#111" stroke-width="2.4"/>
<line x1="1873.1" y1="1607.8" x2="1895.1" y2="1607.8" stroke="#111" stroke-width="2.4"/>
<circle cx="1884.1" cy="1590.7" r="9.6" fill="#0d0d0d"/>
<text x="1179.5" y="1137.1" font-size="37" text-anchor="middle">gh</text>
<text x="1282.3" y="1137.1" font-size="37" text-anchor="middle">efg</text>
<text x="1387.2" y="1137.1" font-size="37" text-anchor="middle">ef</text>
<text x="1485.8" y="1137.1" font-size="37" text-anchor="middle">e</text>
<text x="1574.2" y="1137.1" font-size="37" text-anchor="middle">h</text>
<text x="1668.5" y="1137.1" font-size="37" text-anchor="middle">fgh</text>
<text x="1772.4" y="1137.1" font-size="37" text-anchor="middle">ef</text>
<text x="1873.5" y="1137.1" font-size="37" text-anchor="middle">d</text>
<text x="1171.5" y="1538.5" font-size="37" text-anchor="middle">d</text>
<text x="1267.9" y="1538.5" font-size="37" text-anchor="middle">c</text>
<text x="1382.4" y="1538.5" font-size="37" text-anchor="middle">bc</text>
<text x="1486.3" y="1538.5" font-size="37" text-anchor="middle">b</text>
<text x="1566.7" y="1538.5" font-size="37" text-anchor="middle">d</text>
<text x="1664.7" y="1538.5" font-size="37" text-anchor="middle">c</text>
<text x="1773.4" y="1538.5" font-size="37" text-anchor="middle">bc</text>
<text x="1878.9" y="1538.5" font-size="37" text-anchor="middle">a</text>
<rect x="1142.3" y="1073.2" width="375.9" height="385.1" fill="none" stroke="#222" stroke-width="2.2"/>
<rect x="1533.8" y="1073.2" width="377" height="385.1" fill="none" stroke="#222" stroke-width="2.2"/>
<rect x="1142.3" y="1474.7" width="375.9" height="385" fill="none" stroke="#222" stroke-width="2.2"/>
<rect x="1533.8" y="1474.7" width="377" height="385" fill="none" stroke="#222" stroke-width="2.2"/>
</svg>
</body></html>
